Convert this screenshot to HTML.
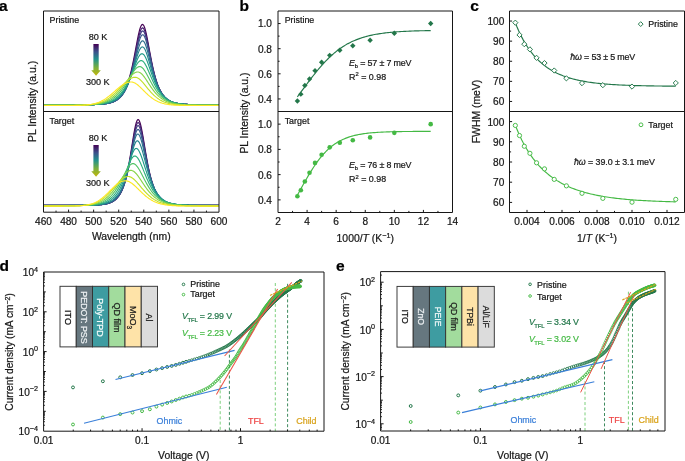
<!DOCTYPE html>
<html><head><meta charset="utf-8"><style>
html,body{margin:0;padding:0;background:#fff;overflow:hidden;}
svg{display:block;font-family:"Liberation Sans", sans-serif;filter:grayscale(0%);}
text{stroke:currentColor;stroke-width:0.22px;paint-order:stroke;}
</style></head><body>
<svg width="685" height="461" viewBox="0 0 685 461">
<rect width="685" height="461" fill="#fff"/>
<path d="M43,104.75 L43.6,104.75 L44.2,104.75 L44.8,104.75 L45.4,104.75 L46,104.75 L46.6,104.75 L47.2,104.75 L47.8,104.75 L48.4,104.75 L49,104.75 L49.6,104.75 L50.2,104.75 L50.8,104.75 L51.4,104.75 L52,104.75 L52.6,104.75 L53.2,104.75 L53.8,104.75 L54.4,104.75 L55,104.75 L55.6,104.75 L56.2,104.75 L56.8,104.75 L57.4,104.75 L58,104.75 L58.6,104.75 L59.2,104.75 L59.8,104.75 L60.4,104.75 L61,104.75 L61.6,104.75 L62.2,104.75 L62.8,104.75 L63.4,104.75 L64,104.75 L64.6,104.75 L65.2,104.75 L65.8,104.75 L66.4,104.75 L67,104.74 L67.6,104.74 L68.2,104.74 L68.8,104.74 L69.4,104.74 L70,104.74 L70.6,104.74 L71.2,104.74 L71.8,104.74 L72.4,104.74 L73,104.74 L73.6,104.74 L74.2,104.74 L74.8,104.73 L75.4,104.73 L76,104.73 L76.6,104.73 L77.2,104.73 L77.8,104.73 L78.4,104.73 L79,104.72 L79.6,104.72 L80.2,104.72 L80.8,104.72 L81.4,104.71 L82,104.71 L82.6,104.71 L83.2,104.7 L83.8,104.7 L84.4,104.69 L85,104.69 L85.6,104.68 L86.2,104.68 L86.8,104.67 L87.4,104.66 L88,104.66 L88.6,104.65 L89.2,104.64 L89.8,104.63 L90.4,104.62 L91,104.61 L91.6,104.6 L92.2,104.58 L92.8,104.57 L93.4,104.55 L94,104.53 L94.6,104.52 L95.2,104.5 L95.8,104.47 L96.4,104.45 L97,104.42 L97.6,104.4 L98.2,104.36 L98.8,104.33 L99.4,104.3 L100,104.26 L100.6,104.21 L101.2,104.17 L101.8,104.12 L102.4,104.06 L103,104 L103.6,103.94 L104.2,103.87 L104.8,103.79 L105.4,103.71 L106,103.62 L106.6,103.52 L107.2,103.41 L107.8,103.3 L108.4,103.17 L109,103.04 L109.6,102.89 L110.2,102.73 L110.8,102.55 L111.4,102.36 L112,102.16 L112.6,101.94 L113.2,101.69 L113.8,101.43 L114.4,101.15 L115,100.84 L115.6,100.5 L116.2,100.14 L116.8,99.74 L117.4,99.31 L118,98.85 L118.6,98.34 L119.2,97.79 L119.8,97.2 L120.4,96.56 L121,95.86 L121.6,95.1 L122.2,94.29 L122.8,93.4 L123.4,92.44 L124,91.41 L124.6,90.29 L125.2,89.08 L125.8,87.78 L126.4,86.37 L127,84.86 L127.6,83.24 L128.2,81.49 L128.8,79.62 L129.4,77.61 L130,75.48 L130.6,73.2 L131.2,70.78 L131.8,68.23 L132.4,65.54 L133,62.72 L133.6,59.78 L134.2,56.73 L134.8,53.6 L135.4,50.41 L136,47.2 L136.6,44 L137.2,40.86 L137.8,37.83 L138.4,34.97 L139,32.34 L139.6,29.99 L140.2,27.99 L140.8,26.4 L141.4,25.25 L142,24.58 L142.6,24.41 L143.2,24.75 L143.8,25.61 L144.4,26.95 L145,28.73 L145.6,30.91 L146.2,33.41 L146.8,36.19 L147.4,39.17 L148,42.3 L148.6,45.52 L149.2,48.78 L149.8,52.03 L150.4,55.23 L151,58.36 L151.6,61.4 L152.2,64.31 L152.8,67.1 L153.4,69.75 L154,72.26 L154.6,74.62 L155.2,76.84 L155.8,78.92 L156.4,80.87 L157,82.68 L157.6,84.37 L158.2,85.94 L158.8,87.39 L159.4,88.74 L160,89.99 L160.6,91.15 L161.2,92.22 L161.8,93.2 L162.4,94.11 L163,94.96 L163.6,95.73 L164.2,96.45 L164.8,97.11 L165.4,97.72 L166,98.28 L166.6,98.8 L167.2,99.27 L167.8,99.71 L168.4,100.11 L169,100.48 L169.6,100.83 L170.2,101.14 L170.8,101.43 L171.4,101.7 L172,101.94 L172.6,102.17 L173.2,102.38 L173.8,102.57 L174.4,102.74 L175,102.9 L175.6,103.05 L176.2,103.19 L176.8,103.31 L177.4,103.43 L178,103.54 L178.6,103.63 L179.2,103.72 L179.8,103.81 L180.4,103.88 L181,103.95 L181.6,104.02 L182.2,104.08 L182.8,104.13 L183.4,104.18 L184,104.23 L184.6,104.27 L185.2,104.31 L185.8,104.34 L186.4,104.38 L187,104.41 L187.6,104.43 L188.2,104.46 L188.8,104.48 L189.4,104.5 L190,104.52 L190.6,104.54 L191.2,104.56 L191.8,104.57 L192.4,104.59 L193,104.6 L193.6,104.61 L194.2,104.62 L194.8,104.64 L195.4,104.64 L196,104.65 L196.6,104.66 L197.2,104.67 L197.8,104.67 L198.4,104.68 L199,104.69 L199.6,104.69 L200.2,104.7 L200.8,104.7 L201.4,104.7 L202,104.71 L202.6,104.71 L203.2,104.71 L203.8,104.72 L204.4,104.72 L205,104.72 L205.6,104.72 L206.2,104.73 L206.8,104.73 L207.4,104.73 L208,104.73 L208.6,104.73 L209.2,104.73 L209.8,104.74 L210.4,104.74 L211,104.74 L211.6,104.74 L212.2,104.74 L212.8,104.74 L213.4,104.74 L214,104.74 L214.6,104.74 L215.2,104.74 L215.8,104.74 L216.4,104.74 L217,104.74 L217.6,104.75 L218.2,104.75 L218.8,104.75" fill="none" stroke="#440154" stroke-width="1.15" stroke-linejoin="round" />
<path d="M43,104.76 L43.6,104.76 L44.2,104.76 L44.8,104.76 L45.4,104.76 L46,104.76 L46.6,104.76 L47.2,104.76 L47.8,104.76 L48.4,104.76 L49,104.76 L49.6,104.76 L50.2,104.76 L50.8,104.76 L51.4,104.76 L52,104.76 L52.6,104.76 L53.2,104.76 L53.8,104.76 L54.4,104.76 L55,104.76 L55.6,104.76 L56.2,104.76 L56.8,104.76 L57.4,104.75 L58,104.75 L58.6,104.75 L59.2,104.75 L59.8,104.75 L60.4,104.75 L61,104.75 L61.6,104.75 L62.2,104.75 L62.8,104.75 L63.4,104.75 L64,104.75 L64.6,104.75 L65.2,104.75 L65.8,104.75 L66.4,104.75 L67,104.75 L67.6,104.75 L68.2,104.75 L68.8,104.75 L69.4,104.75 L70,104.75 L70.6,104.75 L71.2,104.75 L71.8,104.75 L72.4,104.75 L73,104.74 L73.6,104.74 L74.2,104.74 L74.8,104.74 L75.4,104.74 L76,104.74 L76.6,104.74 L77.2,104.74 L77.8,104.73 L78.4,104.73 L79,104.73 L79.6,104.73 L80.2,104.73 L80.8,104.72 L81.4,104.72 L82,104.72 L82.6,104.71 L83.2,104.71 L83.8,104.71 L84.4,104.7 L85,104.7 L85.6,104.69 L86.2,104.69 L86.8,104.68 L87.4,104.67 L88,104.67 L88.6,104.66 L89.2,104.65 L89.8,104.64 L90.4,104.63 L91,104.62 L91.6,104.61 L92.2,104.6 L92.8,104.58 L93.4,104.57 L94,104.55 L94.6,104.53 L95.2,104.51 L95.8,104.49 L96.4,104.47 L97,104.44 L97.6,104.42 L98.2,104.39 L98.8,104.36 L99.4,104.32 L100,104.28 L100.6,104.24 L101.2,104.2 L101.8,104.15 L102.4,104.1 L103,104.04 L103.6,103.98 L104.2,103.91 L104.8,103.84 L105.4,103.76 L106,103.68 L106.6,103.58 L107.2,103.48 L107.8,103.37 L108.4,103.25 L109,103.12 L109.6,102.98 L110.2,102.83 L110.8,102.67 L111.4,102.49 L112,102.29 L112.6,102.08 L113.2,101.85 L113.8,101.6 L114.4,101.33 L115,101.03 L115.6,100.71 L116.2,100.37 L116.8,99.99 L117.4,99.59 L118,99.14 L118.6,98.66 L119.2,98.15 L119.8,97.58 L120.4,96.97 L121,96.31 L121.6,95.6 L122.2,94.82 L122.8,93.98 L123.4,93.08 L124,92.09 L124.6,91.03 L125.2,89.89 L125.8,88.66 L126.4,87.33 L127,85.89 L127.6,84.35 L128.2,82.7 L128.8,80.93 L129.4,79.03 L130,77.01 L130.6,74.85 L131.2,72.56 L131.8,70.14 L132.4,67.59 L133,64.91 L133.6,62.12 L134.2,59.23 L134.8,56.25 L135.4,53.21 L136,50.15 L136.6,47.09 L137.2,44.08 L137.8,41.17 L138.4,38.41 L139,35.86 L139.6,33.58 L140.2,31.62 L140.8,30.03 L141.4,28.86 L142,28.14 L142.6,27.9 L143.2,28.15 L143.8,28.88 L144.4,30.08 L145,31.71 L145.6,33.71 L146.2,36.05 L146.8,38.65 L147.4,41.46 L148,44.42 L148.6,47.48 L149.2,50.58 L149.8,53.68 L150.4,56.75 L151,59.75 L151.6,62.66 L152.2,65.47 L152.8,68.15 L153.4,70.71 L154,73.13 L154.6,75.41 L155.2,77.56 L155.8,79.58 L156.4,81.46 L157,83.22 L157.6,84.86 L158.2,86.38 L158.8,87.8 L159.4,89.11 L160,90.33 L160.6,91.45 L161.2,92.49 L161.8,93.46 L162.4,94.34 L163,95.17 L163.6,95.92 L164.2,96.62 L164.8,97.27 L165.4,97.86 L166,98.41 L166.6,98.91 L167.2,99.38 L167.8,99.81 L168.4,100.2 L169,100.57 L169.6,100.9 L170.2,101.21 L170.8,101.49 L171.4,101.75 L172,101.99 L172.6,102.22 L173.2,102.42 L173.8,102.61 L174.4,102.78 L175,102.94 L175.6,103.08 L176.2,103.22 L176.8,103.34 L177.4,103.46 L178,103.56 L178.6,103.66 L179.2,103.74 L179.8,103.83 L180.4,103.9 L181,103.97 L181.6,104.03 L182.2,104.09 L182.8,104.14 L183.4,104.19 L184,104.24 L184.6,104.28 L185.2,104.32 L185.8,104.35 L186.4,104.39 L187,104.42 L187.6,104.44 L188.2,104.47 L188.8,104.49 L189.4,104.51 L190,104.53 L190.6,104.55 L191.2,104.57 L191.8,104.58 L192.4,104.6 L193,104.61 L193.6,104.62 L194.2,104.63 L194.8,104.64 L195.4,104.65 L196,104.66 L196.6,104.67 L197.2,104.67 L197.8,104.68 L198.4,104.69 L199,104.69 L199.6,104.7 L200.2,104.7 L200.8,104.71 L201.4,104.71 L202,104.71 L202.6,104.72 L203.2,104.72 L203.8,104.72 L204.4,104.73 L205,104.73 L205.6,104.73 L206.2,104.73 L206.8,104.74 L207.4,104.74 L208,104.74 L208.6,104.74 L209.2,104.74 L209.8,104.74 L210.4,104.74 L211,104.74 L211.6,104.75 L212.2,104.75 L212.8,104.75 L213.4,104.75 L214,104.75 L214.6,104.75 L215.2,104.75 L215.8,104.75 L216.4,104.75 L217,104.75 L217.6,104.75 L218.2,104.75 L218.8,104.75" fill="none" stroke="#472171" stroke-width="1.15" stroke-linejoin="round" />
<path d="M43,104.77 L43.6,104.77 L44.2,104.77 L44.8,104.77 L45.4,104.77 L46,104.77 L46.6,104.77 L47.2,104.77 L47.8,104.77 L48.4,104.77 L49,104.77 L49.6,104.77 L50.2,104.77 L50.8,104.77 L51.4,104.77 L52,104.77 L52.6,104.77 L53.2,104.77 L53.8,104.77 L54.4,104.77 L55,104.77 L55.6,104.77 L56.2,104.77 L56.8,104.77 L57.4,104.77 L58,104.77 L58.6,104.77 L59.2,104.77 L59.8,104.77 L60.4,104.77 L61,104.77 L61.6,104.77 L62.2,104.77 L62.8,104.77 L63.4,104.77 L64,104.77 L64.6,104.77 L65.2,104.77 L65.8,104.77 L66.4,104.77 L67,104.77 L67.6,104.77 L68.2,104.77 L68.8,104.77 L69.4,104.77 L70,104.77 L70.6,104.77 L71.2,104.77 L71.8,104.77 L72.4,104.76 L73,104.76 L73.6,104.76 L74.2,104.76 L74.8,104.76 L75.4,104.76 L76,104.76 L76.6,104.76 L77.2,104.75 L77.8,104.75 L78.4,104.75 L79,104.75 L79.6,104.75 L80.2,104.74 L80.8,104.74 L81.4,104.74 L82,104.74 L82.6,104.73 L83.2,104.73 L83.8,104.72 L84.4,104.72 L85,104.72 L85.6,104.71 L86.2,104.7 L86.8,104.7 L87.4,104.69 L88,104.68 L88.6,104.68 L89.2,104.67 L89.8,104.66 L90.4,104.65 L91,104.64 L91.6,104.63 L92.2,104.61 L92.8,104.6 L93.4,104.58 L94,104.57 L94.6,104.55 L95.2,104.53 L95.8,104.51 L96.4,104.49 L97,104.46 L97.6,104.44 L98.2,104.41 L98.8,104.37 L99.4,104.34 L100,104.3 L100.6,104.26 L101.2,104.22 L101.8,104.17 L102.4,104.12 L103,104.06 L103.6,104 L104.2,103.93 L104.8,103.86 L105.4,103.78 L106,103.7 L106.6,103.61 L107.2,103.51 L107.8,103.4 L108.4,103.28 L109,103.15 L109.6,103.01 L110.2,102.86 L110.8,102.7 L111.4,102.52 L112,102.33 L112.6,102.12 L113.2,101.9 L113.8,101.65 L114.4,101.39 L115,101.1 L115.6,100.78 L116.2,100.45 L116.8,100.08 L117.4,99.68 L118,99.25 L118.6,98.78 L119.2,98.28 L119.8,97.73 L120.4,97.14 L121,96.5 L121.6,95.81 L122.2,95.06 L122.8,94.24 L123.4,93.37 L124,92.42 L124.6,91.4 L125.2,90.3 L125.8,89.11 L126.4,87.84 L127,86.46 L127.6,84.98 L128.2,83.4 L128.8,81.71 L129.4,79.89 L130,77.96 L130.6,75.9 L131.2,73.72 L131.8,71.41 L132.4,68.99 L133,66.44 L133.6,63.79 L134.2,61.04 L134.8,58.21 L135.4,55.33 L136,52.42 L136.6,49.51 L137.2,46.65 L137.8,43.87 L138.4,41.24 L139,38.79 L139.6,36.59 L140.2,34.68 L140.8,33.13 L141.4,31.96 L142,31.21 L142.6,30.91 L143.2,31.06 L143.8,31.67 L144.4,32.73 L145,34.19 L145.6,36.02 L146.2,38.16 L146.8,40.58 L147.4,43.2 L148,45.97 L148.6,48.85 L149.2,51.78 L149.8,54.73 L150.4,57.65 L151,60.52 L151.6,63.32 L152.2,66.02 L152.8,68.61 L153.4,71.08 L154,73.43 L154.6,75.65 L155.2,77.75 L155.8,79.71 L156.4,81.56 L157,83.28 L157.6,84.89 L158.2,86.39 L158.8,87.79 L159.4,89.08 L160,90.28 L160.6,91.4 L161.2,92.43 L161.8,93.39 L162.4,94.27 L163,95.09 L163.6,95.85 L164.2,96.54 L164.8,97.19 L165.4,97.78 L166,98.33 L166.6,98.84 L167.2,99.31 L167.8,99.74 L168.4,100.13 L169,100.5 L169.6,100.84 L170.2,101.15 L170.8,101.44 L171.4,101.7 L172,101.94 L172.6,102.17 L173.2,102.38 L173.8,102.57 L174.4,102.74 L175,102.9 L175.6,103.05 L176.2,103.19 L176.8,103.31 L177.4,103.43 L178,103.54 L178.6,103.64 L179.2,103.73 L179.8,103.81 L180.4,103.89 L181,103.96 L181.6,104.02 L182.2,104.08 L182.8,104.14 L183.4,104.19 L184,104.24 L184.6,104.28 L185.2,104.32 L185.8,104.36 L186.4,104.39 L187,104.42 L187.6,104.45 L188.2,104.47 L188.8,104.5 L189.4,104.52 L190,104.54 L190.6,104.56 L191.2,104.58 L191.8,104.59 L192.4,104.61 L193,104.62 L193.6,104.63 L194.2,104.64 L194.8,104.65 L195.4,104.66 L196,104.67 L196.6,104.68 L197.2,104.69 L197.8,104.7 L198.4,104.7 L199,104.71 L199.6,104.71 L200.2,104.72 L200.8,104.72 L201.4,104.73 L202,104.73 L202.6,104.73 L203.2,104.74 L203.8,104.74 L204.4,104.74 L205,104.75 L205.6,104.75 L206.2,104.75 L206.8,104.75 L207.4,104.75 L208,104.76 L208.6,104.76 L209.2,104.76 L209.8,104.76 L210.4,104.76 L211,104.76 L211.6,104.76 L212.2,104.76 L212.8,104.77 L213.4,104.77 L214,104.77 L214.6,104.77 L215.2,104.77 L215.8,104.77 L216.4,104.77 L217,104.77 L217.6,104.77 L218.2,104.77 L218.8,104.77" fill="none" stroke="#423e83" stroke-width="1.15" stroke-linejoin="round" />
<path d="M43,104.81 L43.6,104.81 L44.2,104.81 L44.8,104.81 L45.4,104.81 L46,104.81 L46.6,104.81 L47.2,104.81 L47.8,104.81 L48.4,104.81 L49,104.81 L49.6,104.81 L50.2,104.81 L50.8,104.81 L51.4,104.81 L52,104.81 L52.6,104.81 L53.2,104.81 L53.8,104.8 L54.4,104.8 L55,104.8 L55.6,104.8 L56.2,104.8 L56.8,104.8 L57.4,104.8 L58,104.8 L58.6,104.8 L59.2,104.8 L59.8,104.8 L60.4,104.8 L61,104.8 L61.6,104.8 L62.2,104.8 L62.8,104.8 L63.4,104.8 L64,104.8 L64.6,104.8 L65.2,104.8 L65.8,104.8 L66.4,104.8 L67,104.8 L67.6,104.8 L68.2,104.8 L68.8,104.8 L69.4,104.8 L70,104.8 L70.6,104.8 L71.2,104.8 L71.8,104.8 L72.4,104.79 L73,104.79 L73.6,104.79 L74.2,104.79 L74.8,104.79 L75.4,104.79 L76,104.79 L76.6,104.79 L77.2,104.78 L77.8,104.78 L78.4,104.78 L79,104.78 L79.6,104.78 L80.2,104.77 L80.8,104.77 L81.4,104.77 L82,104.76 L82.6,104.76 L83.2,104.76 L83.8,104.75 L84.4,104.75 L85,104.74 L85.6,104.74 L86.2,104.73 L86.8,104.72 L87.4,104.72 L88,104.71 L88.6,104.7 L89.2,104.69 L89.8,104.68 L90.4,104.67 L91,104.66 L91.6,104.65 L92.2,104.63 L92.8,104.62 L93.4,104.6 L94,104.58 L94.6,104.56 L95.2,104.54 L95.8,104.52 L96.4,104.5 L97,104.47 L97.6,104.44 L98.2,104.41 L98.8,104.38 L99.4,104.34 L100,104.3 L100.6,104.26 L101.2,104.21 L101.8,104.16 L102.4,104.11 L103,104.05 L103.6,103.98 L104.2,103.91 L104.8,103.84 L105.4,103.75 L106,103.67 L106.6,103.57 L107.2,103.46 L107.8,103.35 L108.4,103.23 L109,103.1 L109.6,102.95 L110.2,102.8 L110.8,102.63 L111.4,102.45 L112,102.25 L112.6,102.04 L113.2,101.81 L113.8,101.55 L114.4,101.28 L115,100.99 L115.6,100.67 L116.2,100.33 L116.8,99.96 L117.4,99.56 L118,99.12 L118.6,98.66 L119.2,98.15 L119.8,97.6 L120.4,97.01 L121,96.37 L121.6,95.68 L122.2,94.94 L122.8,94.14 L123.4,93.27 L124,92.34 L124.6,91.34 L125.2,90.26 L125.8,89.11 L126.4,87.86 L127,86.53 L127.6,85.1 L128.2,83.57 L128.8,81.94 L129.4,80.2 L130,78.35 L130.6,76.39 L131.2,74.32 L131.8,72.14 L132.4,69.84 L133,67.45 L133.6,64.96 L134.2,62.39 L134.8,59.75 L135.4,57.08 L136,54.38 L136.6,51.7 L137.2,49.06 L137.8,46.51 L138.4,44.1 L139,41.87 L139.6,39.86 L140.2,38.13 L140.8,36.72 L141.4,35.66 L142,34.98 L142.6,34.71 L143.2,34.85 L143.8,35.4 L144.4,36.35 L145,37.68 L145.6,39.34 L146.2,41.29 L146.8,43.49 L147.4,45.89 L148,48.43 L148.6,51.08 L149.2,53.79 L149.8,56.51 L150.4,59.23 L151,61.91 L151.6,64.52 L152.2,67.06 L152.8,69.5 L153.4,71.83 L154,74.06 L154.6,76.17 L155.2,78.17 L155.8,80.06 L156.4,81.83 L157,83.49 L157.6,85.04 L158.2,86.49 L158.8,87.84 L159.4,89.1 L160,90.28 L160.6,91.37 L161.2,92.38 L161.8,93.32 L162.4,94.19 L163,95 L163.6,95.75 L164.2,96.44 L164.8,97.08 L165.4,97.67 L166,98.22 L166.6,98.73 L167.2,99.2 L167.8,99.63 L168.4,100.03 L169,100.4 L169.6,100.74 L170.2,101.06 L170.8,101.35 L171.4,101.62 L172,101.87 L172.6,102.1 L173.2,102.31 L173.8,102.5 L174.4,102.68 L175,102.85 L175.6,103 L176.2,103.14 L176.8,103.27 L177.4,103.39 L178,103.5 L178.6,103.61 L179.2,103.7 L179.8,103.79 L180.4,103.87 L181,103.94 L181.6,104.01 L182.2,104.07 L182.8,104.13 L183.4,104.18 L184,104.23 L184.6,104.28 L185.2,104.32 L185.8,104.36 L186.4,104.39 L187,104.43 L187.6,104.46 L188.2,104.48 L188.8,104.51 L189.4,104.53 L190,104.55 L190.6,104.57 L191.2,104.59 L191.8,104.61 L192.4,104.62 L193,104.64 L193.6,104.65 L194.2,104.66 L194.8,104.68 L195.4,104.69 L196,104.7 L196.6,104.7 L197.2,104.71 L197.8,104.72 L198.4,104.73 L199,104.73 L199.6,104.74 L200.2,104.74 L200.8,104.75 L201.4,104.75 L202,104.76 L202.6,104.76 L203.2,104.77 L203.8,104.77 L204.4,104.77 L205,104.77 L205.6,104.78 L206.2,104.78 L206.8,104.78 L207.4,104.78 L208,104.78 L208.6,104.79 L209.2,104.79 L209.8,104.79 L210.4,104.79 L211,104.79 L211.6,104.79 L212.2,104.79 L212.8,104.8 L213.4,104.8 L214,104.8 L214.6,104.8 L215.2,104.8 L215.8,104.8 L216.4,104.8 L217,104.8 L217.6,104.8 L218.2,104.8 L218.8,104.8" fill="none" stroke="#38588b" stroke-width="1.15" stroke-linejoin="round" />
<path d="M43,104.85 L43.6,104.85 L44.2,104.85 L44.8,104.85 L45.4,104.85 L46,104.85 L46.6,104.85 L47.2,104.85 L47.8,104.85 L48.4,104.85 L49,104.85 L49.6,104.85 L50.2,104.85 L50.8,104.85 L51.4,104.85 L52,104.85 L52.6,104.85 L53.2,104.85 L53.8,104.85 L54.4,104.85 L55,104.85 L55.6,104.85 L56.2,104.85 L56.8,104.85 L57.4,104.85 L58,104.85 L58.6,104.85 L59.2,104.85 L59.8,104.85 L60.4,104.85 L61,104.85 L61.6,104.85 L62.2,104.85 L62.8,104.85 L63.4,104.85 L64,104.85 L64.6,104.85 L65.2,104.84 L65.8,104.84 L66.4,104.84 L67,104.84 L67.6,104.84 L68.2,104.84 L68.8,104.84 L69.4,104.84 L70,104.84 L70.6,104.84 L71.2,104.84 L71.8,104.84 L72.4,104.84 L73,104.84 L73.6,104.83 L74.2,104.83 L74.8,104.83 L75.4,104.83 L76,104.83 L76.6,104.83 L77.2,104.82 L77.8,104.82 L78.4,104.82 L79,104.82 L79.6,104.81 L80.2,104.81 L80.8,104.81 L81.4,104.8 L82,104.8 L82.6,104.8 L83.2,104.79 L83.8,104.79 L84.4,104.78 L85,104.78 L85.6,104.77 L86.2,104.76 L86.8,104.75 L87.4,104.75 L88,104.74 L88.6,104.73 L89.2,104.72 L89.8,104.71 L90.4,104.69 L91,104.68 L91.6,104.67 L92.2,104.65 L92.8,104.63 L93.4,104.62 L94,104.6 L94.6,104.58 L95.2,104.55 L95.8,104.53 L96.4,104.5 L97,104.47 L97.6,104.44 L98.2,104.4 L98.8,104.37 L99.4,104.33 L100,104.28 L100.6,104.24 L101.2,104.18 L101.8,104.13 L102.4,104.07 L103,104 L103.6,103.93 L104.2,103.86 L104.8,103.78 L105.4,103.69 L106,103.59 L106.6,103.49 L107.2,103.38 L107.8,103.25 L108.4,103.12 L109,102.98 L109.6,102.83 L110.2,102.67 L110.8,102.49 L111.4,102.3 L112,102.09 L112.6,101.86 L113.2,101.62 L113.8,101.36 L114.4,101.08 L115,100.78 L115.6,100.45 L116.2,100.1 L116.8,99.72 L117.4,99.31 L118,98.87 L118.6,98.39 L119.2,97.88 L119.8,97.33 L120.4,96.74 L121,96.1 L121.6,95.42 L122.2,94.68 L122.8,93.89 L123.4,93.04 L124,92.13 L124.6,91.16 L125.2,90.11 L125.8,89 L126.4,87.8 L127,86.53 L127.6,85.17 L128.2,83.73 L128.8,82.19 L129.4,80.56 L130,78.84 L130.6,77.03 L131.2,75.12 L131.8,73.12 L132.4,71.04 L133,68.87 L133.6,66.63 L134.2,64.34 L134.8,62 L135.4,59.65 L136,57.29 L136.6,54.96 L137.2,52.69 L137.8,50.51 L138.4,48.46 L139,46.58 L139.6,44.91 L140.2,43.48 L140.8,42.33 L141.4,41.49 L142,40.97 L142.6,40.8 L143.2,40.98 L143.8,41.51 L144.4,42.37 L145,43.56 L145.6,45.02 L146.2,46.74 L146.8,48.66 L147.4,50.76 L148,52.98 L148.6,55.3 L149.2,57.68 L149.8,60.08 L150.4,62.48 L151,64.85 L151.6,67.18 L152.2,69.44 L152.8,71.63 L153.4,73.73 L154,75.74 L154.6,77.65 L155.2,79.47 L155.8,81.19 L156.4,82.82 L157,84.35 L157.6,85.78 L158.2,87.13 L158.8,88.39 L159.4,89.57 L160,90.67 L160.6,91.7 L161.2,92.66 L161.8,93.55 L162.4,94.38 L163,95.15 L163.6,95.87 L164.2,96.53 L164.8,97.15 L165.4,97.72 L166,98.25 L166.6,98.75 L167.2,99.2 L167.8,99.63 L168.4,100.02 L169,100.39 L169.6,100.72 L170.2,101.03 L170.8,101.32 L171.4,101.59 L172,101.84 L172.6,102.07 L173.2,102.28 L173.8,102.47 L174.4,102.66 L175,102.82 L175.6,102.98 L176.2,103.12 L176.8,103.25 L177.4,103.38 L178,103.49 L178.6,103.59 L179.2,103.69 L179.8,103.78 L180.4,103.86 L181,103.94 L181.6,104.01 L182.2,104.07 L182.8,104.13 L183.4,104.19 L184,104.24 L184.6,104.29 L185.2,104.33 L185.8,104.37 L186.4,104.41 L187,104.44 L187.6,104.48 L188.2,104.5 L188.8,104.53 L189.4,104.56 L190,104.58 L190.6,104.6 L191.2,104.62 L191.8,104.64 L192.4,104.65 L193,104.67 L193.6,104.68 L194.2,104.7 L194.8,104.71 L195.4,104.72 L196,104.73 L196.6,104.74 L197.2,104.75 L197.8,104.76 L198.4,104.76 L199,104.77 L199.6,104.78 L200.2,104.78 L200.8,104.79 L201.4,104.79 L202,104.8 L202.6,104.8 L203.2,104.81 L203.8,104.81 L204.4,104.81 L205,104.82 L205.6,104.82 L206.2,104.82 L206.8,104.82 L207.4,104.82 L208,104.83 L208.6,104.83 L209.2,104.83 L209.8,104.83 L210.4,104.83 L211,104.83 L211.6,104.84 L212.2,104.84 L212.8,104.84 L213.4,104.84 L214,104.84 L214.6,104.84 L215.2,104.84 L215.8,104.84 L216.4,104.84 L217,104.84 L217.6,104.84 L218.2,104.84 L218.8,104.84" fill="none" stroke="#2e6f8e" stroke-width="1.15" stroke-linejoin="round" />
<path d="M43,104.9 L43.6,104.9 L44.2,104.9 L44.8,104.9 L45.4,104.9 L46,104.9 L46.6,104.9 L47.2,104.9 L47.8,104.9 L48.4,104.9 L49,104.9 L49.6,104.9 L50.2,104.9 L50.8,104.9 L51.4,104.9 L52,104.9 L52.6,104.9 L53.2,104.9 L53.8,104.9 L54.4,104.9 L55,104.9 L55.6,104.9 L56.2,104.9 L56.8,104.9 L57.4,104.9 L58,104.9 L58.6,104.9 L59.2,104.9 L59.8,104.9 L60.4,104.9 L61,104.9 L61.6,104.9 L62.2,104.9 L62.8,104.9 L63.4,104.9 L64,104.9 L64.6,104.9 L65.2,104.9 L65.8,104.9 L66.4,104.9 L67,104.9 L67.6,104.9 L68.2,104.9 L68.8,104.9 L69.4,104.9 L70,104.89 L70.6,104.89 L71.2,104.89 L71.8,104.89 L72.4,104.89 L73,104.89 L73.6,104.89 L74.2,104.89 L74.8,104.88 L75.4,104.88 L76,104.88 L76.6,104.88 L77.2,104.88 L77.8,104.87 L78.4,104.87 L79,104.87 L79.6,104.86 L80.2,104.86 L80.8,104.86 L81.4,104.85 L82,104.85 L82.6,104.84 L83.2,104.84 L83.8,104.83 L84.4,104.82 L85,104.82 L85.6,104.81 L86.2,104.8 L86.8,104.79 L87.4,104.78 L88,104.77 L88.6,104.76 L89.2,104.75 L89.8,104.73 L90.4,104.72 L91,104.7 L91.6,104.68 L92.2,104.67 L92.8,104.65 L93.4,104.62 L94,104.6 L94.6,104.57 L95.2,104.55 L95.8,104.52 L96.4,104.48 L97,104.45 L97.6,104.41 L98.2,104.37 L98.8,104.33 L99.4,104.28 L100,104.23 L100.6,104.17 L101.2,104.11 L101.8,104.05 L102.4,103.98 L103,103.9 L103.6,103.82 L104.2,103.73 L104.8,103.64 L105.4,103.54 L106,103.43 L106.6,103.31 L107.2,103.18 L107.8,103.05 L108.4,102.9 L109,102.74 L109.6,102.57 L110.2,102.39 L110.8,102.19 L111.4,101.98 L112,101.75 L112.6,101.5 L113.2,101.24 L113.8,100.96 L114.4,100.65 L115,100.33 L115.6,99.97 L116.2,99.6 L116.8,99.2 L117.4,98.76 L118,98.3 L118.6,97.8 L119.2,97.27 L119.8,96.7 L120.4,96.09 L121,95.44 L121.6,94.74 L122.2,94 L122.8,93.2 L123.4,92.36 L124,91.45 L124.6,90.49 L125.2,89.47 L125.8,88.38 L126.4,87.22 L127,86 L127.6,84.7 L128.2,83.33 L128.8,81.89 L129.4,80.37 L130,78.78 L130.6,77.11 L131.2,75.38 L131.8,73.57 L132.4,71.71 L133,69.79 L133.6,67.83 L134.2,65.83 L134.8,63.82 L135.4,61.81 L136,59.83 L136.6,57.89 L137.2,56.02 L137.8,54.25 L138.4,52.6 L139,51.12 L139.6,49.82 L140.2,48.73 L140.8,47.88 L141.4,47.29 L142,46.96 L142.6,46.92 L143.2,47.16 L143.8,47.69 L144.4,48.5 L145,49.56 L145.6,50.85 L146.2,52.34 L146.8,54 L147.4,55.81 L148,57.72 L148.6,59.72 L149.2,61.76 L149.8,63.84 L150.4,65.91 L151,67.97 L151.6,69.99 L152.2,71.97 L152.8,73.89 L153.4,75.74 L154,77.52 L154.6,79.23 L155.2,80.86 L155.8,82.4 L156.4,83.87 L157,85.26 L157.6,86.57 L158.2,87.8 L158.8,88.96 L159.4,90.05 L160,91.07 L160.6,92.03 L161.2,92.93 L161.8,93.77 L162.4,94.55 L163,95.28 L163.6,95.97 L164.2,96.6 L164.8,97.2 L165.4,97.75 L166,98.26 L166.6,98.74 L167.2,99.19 L167.8,99.6 L168.4,99.99 L169,100.35 L169.6,100.68 L170.2,100.99 L170.8,101.28 L171.4,101.55 L172,101.79 L172.6,102.02 L173.2,102.24 L173.8,102.43 L174.4,102.62 L175,102.79 L175.6,102.95 L176.2,103.09 L176.8,103.23 L177.4,103.36 L178,103.47 L178.6,103.58 L179.2,103.68 L179.8,103.77 L180.4,103.86 L181,103.94 L181.6,104.01 L182.2,104.08 L182.8,104.14 L183.4,104.2 L184,104.25 L184.6,104.3 L185.2,104.35 L185.8,104.39 L186.4,104.43 L187,104.47 L187.6,104.5 L188.2,104.53 L188.8,104.56 L189.4,104.59 L190,104.61 L190.6,104.64 L191.2,104.66 L191.8,104.68 L192.4,104.69 L193,104.71 L193.6,104.73 L194.2,104.74 L194.8,104.75 L195.4,104.77 L196,104.78 L196.6,104.79 L197.2,104.8 L197.8,104.8 L198.4,104.81 L199,104.82 L199.6,104.83 L200.2,104.83 L200.8,104.84 L201.4,104.84 L202,104.85 L202.6,104.85 L203.2,104.86 L203.8,104.86 L204.4,104.86 L205,104.87 L205.6,104.87 L206.2,104.87 L206.8,104.88 L207.4,104.88 L208,104.88 L208.6,104.88 L209.2,104.88 L209.8,104.89 L210.4,104.89 L211,104.89 L211.6,104.89 L212.2,104.89 L212.8,104.89 L213.4,104.89 L214,104.89 L214.6,104.9 L215.2,104.9 L215.8,104.9 L216.4,104.9 L217,104.9 L217.6,104.9 L218.2,104.9 L218.8,104.9" fill="none" stroke="#25858e" stroke-width="1.15" stroke-linejoin="round" />
<path d="M43,104.97 L43.6,104.97 L44.2,104.97 L44.8,104.97 L45.4,104.97 L46,104.97 L46.6,104.97 L47.2,104.97 L47.8,104.97 L48.4,104.97 L49,104.97 L49.6,104.97 L50.2,104.97 L50.8,104.97 L51.4,104.97 L52,104.97 L52.6,104.97 L53.2,104.97 L53.8,104.97 L54.4,104.97 L55,104.97 L55.6,104.97 L56.2,104.97 L56.8,104.97 L57.4,104.97 L58,104.97 L58.6,104.97 L59.2,104.97 L59.8,104.97 L60.4,104.97 L61,104.97 L61.6,104.97 L62.2,104.97 L62.8,104.97 L63.4,104.97 L64,104.97 L64.6,104.97 L65.2,104.97 L65.8,104.97 L66.4,104.97 L67,104.97 L67.6,104.96 L68.2,104.96 L68.8,104.96 L69.4,104.96 L70,104.96 L70.6,104.96 L71.2,104.96 L71.8,104.96 L72.4,104.96 L73,104.95 L73.6,104.95 L74.2,104.95 L74.8,104.95 L75.4,104.95 L76,104.94 L76.6,104.94 L77.2,104.94 L77.8,104.93 L78.4,104.93 L79,104.93 L79.6,104.92 L80.2,104.92 L80.8,104.91 L81.4,104.91 L82,104.9 L82.6,104.89 L83.2,104.89 L83.8,104.88 L84.4,104.87 L85,104.86 L85.6,104.85 L86.2,104.84 L86.8,104.83 L87.4,104.82 L88,104.8 L88.6,104.79 L89.2,104.77 L89.8,104.76 L90.4,104.74 L91,104.72 L91.6,104.7 L92.2,104.67 L92.8,104.65 L93.4,104.62 L94,104.59 L94.6,104.56 L95.2,104.52 L95.8,104.48 L96.4,104.44 L97,104.4 L97.6,104.35 L98.2,104.3 L98.8,104.25 L99.4,104.19 L100,104.13 L100.6,104.06 L101.2,103.99 L101.8,103.91 L102.4,103.82 L103,103.73 L103.6,103.64 L104.2,103.53 L104.8,103.42 L105.4,103.3 L106,103.17 L106.6,103.03 L107.2,102.88 L107.8,102.72 L108.4,102.55 L109,102.36 L109.6,102.17 L110.2,101.96 L110.8,101.73 L111.4,101.49 L112,101.23 L112.6,100.95 L113.2,100.66 L113.8,100.34 L114.4,100.01 L115,99.65 L115.6,99.26 L116.2,98.85 L116.8,98.42 L117.4,97.95 L118,97.46 L118.6,96.93 L119.2,96.37 L119.8,95.78 L120.4,95.14 L121,94.47 L121.6,93.76 L122.2,93 L122.8,92.2 L123.4,91.36 L124,90.46 L124.6,89.52 L125.2,88.52 L125.8,87.47 L126.4,86.36 L127,85.2 L127.6,83.99 L128.2,82.71 L128.8,81.39 L129.4,80.01 L130,78.57 L130.6,77.09 L131.2,75.56 L131.8,74 L132.4,72.4 L133,70.77 L133.6,69.14 L134.2,67.49 L134.8,65.86 L135.4,64.26 L136,62.7 L136.6,61.2 L137.2,59.79 L137.8,58.47 L138.4,57.28 L139,56.23 L139.6,55.35 L140.2,54.64 L140.8,54.12 L141.4,53.81 L142,53.7 L142.6,53.82 L143.2,54.16 L143.8,54.72 L144.4,55.5 L145,56.46 L145.6,57.6 L146.2,58.89 L146.8,60.31 L147.4,61.84 L148,63.44 L148.6,65.11 L149.2,66.82 L149.8,68.55 L150.4,70.28 L151,72 L151.6,73.7 L152.2,75.36 L152.8,76.98 L153.4,78.55 L154,80.07 L154.6,81.53 L155.2,82.93 L155.8,84.26 L156.4,85.54 L157,86.75 L157.6,87.9 L158.2,88.98 L158.8,90.01 L159.4,90.98 L160,91.9 L160.6,92.76 L161.2,93.57 L161.8,94.33 L162.4,95.04 L163,95.71 L163.6,96.34 L164.2,96.93 L164.8,97.48 L165.4,98 L166,98.48 L166.6,98.93 L167.2,99.35 L167.8,99.75 L168.4,100.11 L169,100.46 L169.6,100.78 L170.2,101.07 L170.8,101.35 L171.4,101.61 L172,101.85 L172.6,102.08 L173.2,102.29 L173.8,102.48 L174.4,102.66 L175,102.83 L175.6,102.99 L176.2,103.13 L176.8,103.27 L177.4,103.39 L178,103.51 L178.6,103.62 L179.2,103.72 L179.8,103.81 L180.4,103.9 L181,103.98 L181.6,104.05 L182.2,104.12 L182.8,104.19 L183.4,104.25 L184,104.3 L184.6,104.35 L185.2,104.4 L185.8,104.44 L186.4,104.48 L187,104.52 L187.6,104.56 L188.2,104.59 L188.8,104.62 L189.4,104.65 L190,104.67 L190.6,104.7 L191.2,104.72 L191.8,104.74 L192.4,104.76 L193,104.77 L193.6,104.79 L194.2,104.8 L194.8,104.82 L195.4,104.83 L196,104.84 L196.6,104.85 L197.2,104.86 L197.8,104.87 L198.4,104.88 L199,104.89 L199.6,104.89 L200.2,104.9 L200.8,104.91 L201.4,104.91 L202,104.92 L202.6,104.92 L203.2,104.93 L203.8,104.93 L204.4,104.93 L205,104.94 L205.6,104.94 L206.2,104.94 L206.8,104.94 L207.4,104.95 L208,104.95 L208.6,104.95 L209.2,104.95 L209.8,104.95 L210.4,104.96 L211,104.96 L211.6,104.96 L212.2,104.96 L212.8,104.96 L213.4,104.96 L214,104.96 L214.6,104.96 L215.2,104.96 L215.8,104.97 L216.4,104.97 L217,104.97 L217.6,104.97 L218.2,104.97 L218.8,104.97" fill="none" stroke="#209b89" stroke-width="1.15" stroke-linejoin="round" />
<path d="M43,105.05 L43.6,105.05 L44.2,105.05 L44.8,105.05 L45.4,105.05 L46,105.05 L46.6,105.05 L47.2,105.05 L47.8,105.05 L48.4,105.05 L49,105.05 L49.6,105.05 L50.2,105.05 L50.8,105.05 L51.4,105.05 L52,105.05 L52.6,105.05 L53.2,105.05 L53.8,105.05 L54.4,105.05 L55,105.05 L55.6,105.05 L56.2,105.05 L56.8,105.05 L57.4,105.05 L58,105.05 L58.6,105.05 L59.2,105.05 L59.8,105.05 L60.4,105.05 L61,105.05 L61.6,105.05 L62.2,105.05 L62.8,105.05 L63.4,105.05 L64,105.05 L64.6,105.05 L65.2,105.05 L65.8,105.05 L66.4,105.05 L67,105.05 L67.6,105.04 L68.2,105.04 L68.8,105.04 L69.4,105.04 L70,105.04 L70.6,105.04 L71.2,105.04 L71.8,105.03 L72.4,105.03 L73,105.03 L73.6,105.03 L74.2,105.03 L74.8,105.02 L75.4,105.02 L76,105.02 L76.6,105.01 L77.2,105.01 L77.8,105.01 L78.4,105 L79,105 L79.6,104.99 L80.2,104.98 L80.8,104.98 L81.4,104.97 L82,104.96 L82.6,104.95 L83.2,104.94 L83.8,104.93 L84.4,104.92 L85,104.91 L85.6,104.9 L86.2,104.88 L86.8,104.87 L87.4,104.85 L88,104.84 L88.6,104.82 L89.2,104.8 L89.8,104.77 L90.4,104.75 L91,104.72 L91.6,104.69 L92.2,104.66 L92.8,104.63 L93.4,104.59 L94,104.55 L94.6,104.51 L95.2,104.47 L95.8,104.42 L96.4,104.37 L97,104.31 L97.6,104.25 L98.2,104.19 L98.8,104.12 L99.4,104.04 L100,103.96 L100.6,103.87 L101.2,103.78 L101.8,103.68 L102.4,103.57 L103,103.46 L103.6,103.34 L104.2,103.21 L104.8,103.07 L105.4,102.92 L106,102.76 L106.6,102.59 L107.2,102.41 L107.8,102.21 L108.4,102 L109,101.78 L109.6,101.55 L110.2,101.3 L110.8,101.03 L111.4,100.75 L112,100.45 L112.6,100.13 L113.2,99.79 L113.8,99.43 L114.4,99.04 L115,98.64 L115.6,98.21 L116.2,97.76 L116.8,97.28 L117.4,96.77 L118,96.23 L118.6,95.66 L119.2,95.07 L119.8,94.44 L120.4,93.77 L121,93.08 L121.6,92.34 L122.2,91.57 L122.8,90.77 L123.4,89.92 L124,89.04 L124.6,88.11 L125.2,87.15 L125.8,86.15 L126.4,85.11 L127,84.03 L127.6,82.91 L128.2,81.76 L128.8,80.58 L129.4,79.36 L130,78.12 L130.6,76.86 L131.2,75.58 L131.8,74.29 L132.4,72.99 L133,71.71 L133.6,70.43 L134.2,69.19 L134.8,67.98 L135.4,66.81 L136,65.71 L136.6,64.69 L137.2,63.75 L137.8,62.92 L138.4,62.19 L139,61.6 L139.6,61.13 L140.2,60.81 L140.8,60.63 L141.4,60.61 L142,60.76 L142.6,61.07 L143.2,61.56 L143.8,62.2 L144.4,62.98 L145,63.9 L145.6,64.93 L146.2,66.07 L146.8,67.29 L147.4,68.57 L148,69.91 L148.6,71.29 L149.2,72.68 L149.8,74.09 L150.4,75.5 L151,76.89 L151.6,78.27 L152.2,79.62 L152.8,80.94 L153.4,82.22 L154,83.46 L154.6,84.65 L155.2,85.8 L155.8,86.91 L156.4,87.96 L157,88.97 L157.6,89.93 L158.2,90.84 L158.8,91.71 L159.4,92.53 L160,93.31 L160.6,94.05 L161.2,94.75 L161.8,95.41 L162.4,96.03 L163,96.61 L163.6,97.16 L164.2,97.68 L164.8,98.17 L165.4,98.62 L166,99.05 L166.6,99.46 L167.2,99.83 L167.8,100.19 L168.4,100.52 L169,100.83 L169.6,101.12 L170.2,101.39 L170.8,101.65 L171.4,101.89 L172,102.11 L172.6,102.32 L173.2,102.51 L173.8,102.69 L174.4,102.86 L175,103.02 L175.6,103.17 L176.2,103.3 L176.8,103.43 L177.4,103.55 L178,103.66 L178.6,103.76 L179.2,103.86 L179.8,103.95 L180.4,104.03 L181,104.1 L181.6,104.18 L182.2,104.24 L182.8,104.3 L183.4,104.36 L184,104.41 L184.6,104.46 L185.2,104.51 L185.8,104.55 L186.4,104.59 L187,104.63 L187.6,104.66 L188.2,104.69 L188.8,104.72 L189.4,104.74 L190,104.77 L190.6,104.79 L191.2,104.81 L191.8,104.83 L192.4,104.85 L193,104.87 L193.6,104.88 L194.2,104.9 L194.8,104.91 L195.4,104.92 L196,104.93 L196.6,104.94 L197.2,104.95 L197.8,104.96 L198.4,104.97 L199,104.97 L199.6,104.98 L200.2,104.99 L200.8,104.99 L201.4,105 L202,105 L202.6,105.01 L203.2,105.01 L203.8,105.01 L204.4,105.02 L205,105.02 L205.6,105.02 L206.2,105.03 L206.8,105.03 L207.4,105.03 L208,105.03 L208.6,105.03 L209.2,105.04 L209.8,105.04 L210.4,105.04 L211,105.04 L211.6,105.04 L212.2,105.04 L212.8,105.04 L213.4,105.04 L214,105.05 L214.6,105.05 L215.2,105.05 L215.8,105.05 L216.4,105.05 L217,105.05 L217.6,105.05 L218.2,105.05 L218.8,105.05" fill="none" stroke="#2fb07d" stroke-width="1.15" stroke-linejoin="round" />
<path d="M43,105.15 L43.6,105.15 L44.2,105.15 L44.8,105.15 L45.4,105.15 L46,105.15 L46.6,105.15 L47.2,105.15 L47.8,105.15 L48.4,105.15 L49,105.15 L49.6,105.15 L50.2,105.15 L50.8,105.15 L51.4,105.15 L52,105.15 L52.6,105.15 L53.2,105.15 L53.8,105.15 L54.4,105.15 L55,105.15 L55.6,105.15 L56.2,105.15 L56.8,105.15 L57.4,105.15 L58,105.14 L58.6,105.14 L59.2,105.14 L59.8,105.14 L60.4,105.14 L61,105.14 L61.6,105.14 L62.2,105.14 L62.8,105.14 L63.4,105.14 L64,105.14 L64.6,105.14 L65.2,105.14 L65.8,105.14 L66.4,105.14 L67,105.14 L67.6,105.14 L68.2,105.13 L68.8,105.13 L69.4,105.13 L70,105.13 L70.6,105.13 L71.2,105.13 L71.8,105.12 L72.4,105.12 L73,105.12 L73.6,105.12 L74.2,105.11 L74.8,105.11 L75.4,105.11 L76,105.1 L76.6,105.1 L77.2,105.09 L77.8,105.09 L78.4,105.08 L79,105.07 L79.6,105.07 L80.2,105.06 L80.8,105.05 L81.4,105.04 L82,105.03 L82.6,105.02 L83.2,105 L83.8,104.99 L84.4,104.98 L85,104.96 L85.6,104.94 L86.2,104.92 L86.8,104.9 L87.4,104.88 L88,104.85 L88.6,104.83 L89.2,104.8 L89.8,104.77 L90.4,104.73 L91,104.7 L91.6,104.66 L92.2,104.61 L92.8,104.57 L93.4,104.52 L94,104.46 L94.6,104.41 L95.2,104.34 L95.8,104.28 L96.4,104.2 L97,104.13 L97.6,104.04 L98.2,103.96 L98.8,103.86 L99.4,103.76 L100,103.65 L100.6,103.53 L101.2,103.41 L101.8,103.27 L102.4,103.13 L103,102.98 L103.6,102.82 L104.2,102.65 L104.8,102.46 L105.4,102.27 L106,102.06 L106.6,101.84 L107.2,101.6 L107.8,101.36 L108.4,101.09 L109,100.81 L109.6,100.52 L110.2,100.21 L110.8,99.88 L111.4,99.53 L112,99.16 L112.6,98.78 L113.2,98.37 L113.8,97.94 L114.4,97.49 L115,97.02 L115.6,96.52 L116.2,96 L116.8,95.45 L117.4,94.88 L118,94.28 L118.6,93.66 L119.2,93.01 L119.8,92.33 L120.4,91.63 L121,90.89 L121.6,90.13 L122.2,89.35 L122.8,88.53 L123.4,87.69 L124,86.82 L124.6,85.93 L125.2,85.01 L125.8,84.08 L126.4,83.12 L127,82.15 L127.6,81.16 L128.2,80.15 L128.8,79.15 L129.4,78.13 L130,77.12 L130.6,76.12 L131.2,75.13 L131.8,74.15 L132.4,73.21 L133,72.29 L133.6,71.42 L134.2,70.6 L134.8,69.83 L135.4,69.13 L136,68.5 L136.6,67.95 L137.2,67.49 L137.8,67.12 L138.4,66.84 L139,66.67 L139.6,66.6 L140.2,66.65 L140.8,66.82 L141.4,67.12 L142,67.54 L142.6,68.08 L143.2,68.73 L143.8,69.48 L144.4,70.31 L145,71.22 L145.6,72.19 L146.2,73.22 L146.8,74.29 L147.4,75.4 L148,76.52 L148.6,77.66 L149.2,78.8 L149.8,79.94 L150.4,81.07 L151,82.19 L151.6,83.29 L152.2,84.36 L152.8,85.4 L153.4,86.42 L154,87.4 L154.6,88.35 L155.2,89.26 L155.8,90.14 L156.4,90.98 L157,91.78 L157.6,92.55 L158.2,93.29 L158.8,93.99 L159.4,94.65 L160,95.29 L160.6,95.89 L161.2,96.46 L161.8,97 L162.4,97.51 L163,97.99 L163.6,98.44 L164.2,98.87 L164.8,99.28 L165.4,99.66 L166,100.02 L166.6,100.36 L167.2,100.68 L167.8,100.98 L168.4,101.26 L169,101.53 L169.6,101.77 L170.2,102.01 L170.8,102.22 L171.4,102.43 L172,102.62 L172.6,102.8 L173.2,102.96 L173.8,103.12 L174.4,103.27 L175,103.4 L175.6,103.53 L176.2,103.65 L176.8,103.76 L177.4,103.86 L178,103.96 L178.6,104.05 L179.2,104.13 L179.8,104.21 L180.4,104.28 L181,104.34 L181.6,104.41 L182.2,104.46 L182.8,104.52 L183.4,104.57 L184,104.61 L184.6,104.65 L185.2,104.69 L185.8,104.73 L186.4,104.76 L187,104.79 L187.6,104.82 L188.2,104.85 L188.8,104.87 L189.4,104.9 L190,104.92 L190.6,104.94 L191.2,104.95 L191.8,104.97 L192.4,104.98 L193,105 L193.6,105.01 L194.2,105.02 L194.8,105.03 L195.4,105.04 L196,105.05 L196.6,105.06 L197.2,105.07 L197.8,105.07 L198.4,105.08 L199,105.09 L199.6,105.09 L200.2,105.1 L200.8,105.1 L201.4,105.11 L202,105.11 L202.6,105.11 L203.2,105.12 L203.8,105.12 L204.4,105.12 L205,105.12 L205.6,105.13 L206.2,105.13 L206.8,105.13 L207.4,105.13 L208,105.13 L208.6,105.13 L209.2,105.14 L209.8,105.14 L210.4,105.14 L211,105.14 L211.6,105.14 L212.2,105.14 L212.8,105.14 L213.4,105.14 L214,105.14 L214.6,105.14 L215.2,105.14 L215.8,105.14 L216.4,105.14 L217,105.14 L217.6,105.14 L218.2,105.14 L218.8,105.14" fill="none" stroke="#54c467" stroke-width="1.15" stroke-linejoin="round" />
<path d="M43,105.25 L43.6,105.25 L44.2,105.25 L44.8,105.25 L45.4,105.25 L46,105.25 L46.6,105.25 L47.2,105.25 L47.8,105.25 L48.4,105.25 L49,105.25 L49.6,105.25 L50.2,105.25 L50.8,105.25 L51.4,105.25 L52,105.25 L52.6,105.25 L53.2,105.25 L53.8,105.25 L54.4,105.25 L55,105.25 L55.6,105.25 L56.2,105.25 L56.8,105.25 L57.4,105.25 L58,105.25 L58.6,105.25 L59.2,105.25 L59.8,105.25 L60.4,105.25 L61,105.25 L61.6,105.25 L62.2,105.25 L62.8,105.25 L63.4,105.25 L64,105.25 L64.6,105.25 L65.2,105.25 L65.8,105.24 L66.4,105.24 L67,105.24 L67.6,105.24 L68.2,105.24 L68.8,105.24 L69.4,105.24 L70,105.24 L70.6,105.23 L71.2,105.23 L71.8,105.23 L72.4,105.23 L73,105.22 L73.6,105.22 L74.2,105.21 L74.8,105.21 L75.4,105.21 L76,105.2 L76.6,105.19 L77.2,105.19 L77.8,105.18 L78.4,105.17 L79,105.16 L79.6,105.15 L80.2,105.14 L80.8,105.13 L81.4,105.12 L82,105.11 L82.6,105.09 L83.2,105.07 L83.8,105.06 L84.4,105.04 L85,105.01 L85.6,104.99 L86.2,104.96 L86.8,104.94 L87.4,104.91 L88,104.87 L88.6,104.84 L89.2,104.8 L89.8,104.75 L90.4,104.71 L91,104.66 L91.6,104.6 L92.2,104.55 L92.8,104.48 L93.4,104.42 L94,104.34 L94.6,104.26 L95.2,104.18 L95.8,104.09 L96.4,103.99 L97,103.89 L97.6,103.78 L98.2,103.66 L98.8,103.53 L99.4,103.39 L100,103.25 L100.6,103.09 L101.2,102.92 L101.8,102.75 L102.4,102.56 L103,102.36 L103.6,102.15 L104.2,101.93 L104.8,101.69 L105.4,101.44 L106,101.17 L106.6,100.89 L107.2,100.6 L107.8,100.29 L108.4,99.96 L109,99.62 L109.6,99.26 L110.2,98.88 L110.8,98.48 L111.4,98.06 L112,97.63 L112.6,97.17 L113.2,96.7 L113.8,96.21 L114.4,95.7 L115,95.16 L115.6,94.61 L116.2,94.03 L116.8,93.44 L117.4,92.83 L118,92.19 L118.6,91.54 L119.2,90.87 L119.8,90.18 L120.4,89.47 L121,88.75 L121.6,88.01 L122.2,87.26 L122.8,86.5 L123.4,85.72 L124,84.94 L124.6,84.15 L125.2,83.35 L125.8,82.55 L126.4,81.76 L127,80.97 L127.6,80.18 L128.2,79.41 L128.8,78.65 L129.4,77.91 L130,77.2 L130.6,76.51 L131.2,75.86 L131.8,75.24 L132.4,74.66 L133,74.13 L133.6,73.65 L134.2,73.23 L134.8,72.86 L135.4,72.55 L136,72.31 L136.6,72.14 L137.2,72.04 L137.8,72 L138.4,72.05 L139,72.19 L139.6,72.43 L140.2,72.76 L140.8,73.18 L141.4,73.68 L142,74.25 L142.6,74.9 L143.2,75.6 L143.8,76.36 L144.4,77.16 L145,78 L145.6,78.87 L146.2,79.77 L146.8,80.68 L147.4,81.6 L148,82.52 L148.6,83.45 L149.2,84.37 L149.8,85.28 L150.4,86.18 L151,87.06 L151.6,87.92 L152.2,88.77 L152.8,89.59 L153.4,90.38 L154,91.15 L154.6,91.89 L155.2,92.61 L155.8,93.3 L156.4,93.96 L157,94.59 L157.6,95.2 L158.2,95.78 L158.8,96.33 L159.4,96.86 L160,97.36 L160.6,97.84 L161.2,98.29 L161.8,98.73 L162.4,99.13 L163,99.52 L163.6,99.89 L164.2,100.23 L164.8,100.56 L165.4,100.87 L166,101.16 L166.6,101.43 L167.2,101.69 L167.8,101.93 L168.4,102.16 L169,102.38 L169.6,102.58 L170.2,102.77 L170.8,102.94 L171.4,103.11 L172,103.26 L172.6,103.41 L173.2,103.54 L173.8,103.67 L174.4,103.79 L175,103.9 L175.6,104 L176.2,104.1 L176.8,104.18 L177.4,104.27 L178,104.34 L178.6,104.41 L179.2,104.48 L179.8,104.54 L180.4,104.6 L181,104.65 L181.6,104.7 L182.2,104.75 L182.8,104.79 L183.4,104.83 L184,104.86 L184.6,104.89 L185.2,104.92 L185.8,104.95 L186.4,104.98 L187,105 L187.6,105.02 L188.2,105.04 L188.8,105.06 L189.4,105.08 L190,105.09 L190.6,105.11 L191.2,105.12 L191.8,105.13 L192.4,105.14 L193,105.15 L193.6,105.16 L194.2,105.17 L194.8,105.18 L195.4,105.19 L196,105.19 L196.6,105.2 L197.2,105.2 L197.8,105.21 L198.4,105.21 L199,105.22 L199.6,105.22 L200.2,105.22 L200.8,105.23 L201.4,105.23 L202,105.23 L202.6,105.23 L203.2,105.23 L203.8,105.24 L204.4,105.24 L205,105.24 L205.6,105.24 L206.2,105.24 L206.8,105.24 L207.4,105.24 L208,105.24 L208.6,105.25 L209.2,105.25 L209.8,105.25 L210.4,105.25 L211,105.25 L211.6,105.25 L212.2,105.25 L212.8,105.25 L213.4,105.25 L214,105.25 L214.6,105.25 L215.2,105.25 L215.8,105.25 L216.4,105.25 L217,105.25 L217.6,105.25 L218.2,105.25 L218.8,105.25" fill="none" stroke="#88d448" stroke-width="1.15" stroke-linejoin="round" />
<path d="M43,105.37 L43.6,105.37 L44.2,105.37 L44.8,105.37 L45.4,105.37 L46,105.37 L46.6,105.37 L47.2,105.37 L47.8,105.37 L48.4,105.37 L49,105.37 L49.6,105.37 L50.2,105.37 L50.8,105.37 L51.4,105.37 L52,105.37 L52.6,105.37 L53.2,105.37 L53.8,105.37 L54.4,105.37 L55,105.37 L55.6,105.37 L56.2,105.37 L56.8,105.37 L57.4,105.37 L58,105.37 L58.6,105.37 L59.2,105.37 L59.8,105.37 L60.4,105.37 L61,105.37 L61.6,105.37 L62.2,105.37 L62.8,105.37 L63.4,105.37 L64,105.37 L64.6,105.36 L65.2,105.36 L65.8,105.36 L66.4,105.36 L67,105.36 L67.6,105.36 L68.2,105.36 L68.8,105.36 L69.4,105.35 L70,105.35 L70.6,105.35 L71.2,105.35 L71.8,105.34 L72.4,105.34 L73,105.34 L73.6,105.33 L74.2,105.33 L74.8,105.32 L75.4,105.32 L76,105.31 L76.6,105.3 L77.2,105.3 L77.8,105.29 L78.4,105.28 L79,105.27 L79.6,105.25 L80.2,105.24 L80.8,105.22 L81.4,105.21 L82,105.19 L82.6,105.17 L83.2,105.15 L83.8,105.12 L84.4,105.1 L85,105.07 L85.6,105.04 L86.2,105 L86.8,104.96 L87.4,104.92 L88,104.88 L88.6,104.83 L89.2,104.77 L89.8,104.72 L90.4,104.65 L91,104.58 L91.6,104.51 L92.2,104.43 L92.8,104.35 L93.4,104.25 L94,104.15 L94.6,104.05 L95.2,103.93 L95.8,103.81 L96.4,103.68 L97,103.53 L97.6,103.38 L98.2,103.22 L98.8,103.05 L99.4,102.87 L100,102.67 L100.6,102.47 L101.2,102.25 L101.8,102.02 L102.4,101.77 L103,101.52 L103.6,101.24 L104.2,100.96 L104.8,100.66 L105.4,100.34 L106,100.01 L106.6,99.66 L107.2,99.3 L107.8,98.92 L108.4,98.53 L109,98.11 L109.6,97.69 L110.2,97.24 L110.8,96.78 L111.4,96.31 L112,95.82 L112.6,95.31 L113.2,94.79 L113.8,94.25 L114.4,93.7 L115,93.14 L115.6,92.56 L116.2,91.98 L116.8,91.38 L117.4,90.77 L118,90.15 L118.6,89.53 L119.2,88.9 L119.8,88.27 L120.4,87.64 L121,87 L121.6,86.37 L122.2,85.73 L122.8,85.11 L123.4,84.49 L124,83.88 L124.6,83.28 L125.2,82.7 L125.8,82.13 L126.4,81.59 L127,81.06 L127.6,80.56 L128.2,80.09 L128.8,79.64 L129.4,79.23 L130,78.86 L130.6,78.51 L131.2,78.21 L131.8,77.95 L132.4,77.73 L133,77.56 L133.6,77.43 L134.2,77.34 L134.8,77.3 L135.4,77.32 L136,77.4 L136.6,77.55 L137.2,77.77 L137.8,78.06 L138.4,78.4 L139,78.81 L139.6,79.27 L140.2,79.79 L140.8,80.34 L141.4,80.94 L142,81.57 L142.6,82.23 L143.2,82.92 L143.8,83.63 L144.4,84.35 L145,85.09 L145.6,85.83 L146.2,86.57 L146.8,87.31 L147.4,88.05 L148,88.79 L148.6,89.51 L149.2,90.22 L149.8,90.92 L150.4,91.6 L151,92.27 L151.6,92.92 L152.2,93.55 L152.8,94.16 L153.4,94.75 L154,95.32 L154.6,95.87 L155.2,96.4 L155.8,96.9 L156.4,97.39 L157,97.85 L157.6,98.3 L158.2,98.72 L158.8,99.13 L159.4,99.51 L160,99.88 L160.6,100.23 L161.2,100.55 L161.8,100.87 L162.4,101.16 L163,101.44 L163.6,101.71 L164.2,101.96 L164.8,102.19 L165.4,102.41 L166,102.62 L166.6,102.82 L167.2,103 L167.8,103.17 L168.4,103.33 L169,103.48 L169.6,103.62 L170.2,103.76 L170.8,103.88 L171.4,103.99 L172,104.1 L172.6,104.2 L173.2,104.29 L173.8,104.38 L174.4,104.46 L175,104.53 L175.6,104.6 L176.2,104.67 L176.8,104.72 L177.4,104.78 L178,104.83 L178.6,104.88 L179.2,104.92 L179.8,104.96 L180.4,104.99 L181,105.03 L181.6,105.06 L182.2,105.09 L182.8,105.11 L183.4,105.14 L184,105.16 L184.6,105.18 L185.2,105.19 L185.8,105.21 L186.4,105.23 L187,105.24 L187.6,105.25 L188.2,105.26 L188.8,105.27 L189.4,105.28 L190,105.29 L190.6,105.3 L191.2,105.31 L191.8,105.31 L192.4,105.32 L193,105.32 L193.6,105.33 L194.2,105.33 L194.8,105.34 L195.4,105.34 L196,105.34 L196.6,105.35 L197.2,105.35 L197.8,105.35 L198.4,105.35 L199,105.36 L199.6,105.36 L200.2,105.36 L200.8,105.36 L201.4,105.36 L202,105.36 L202.6,105.36 L203.2,105.36 L203.8,105.36 L204.4,105.36 L205,105.37 L205.6,105.37 L206.2,105.37 L206.8,105.37 L207.4,105.37 L208,105.37 L208.6,105.37 L209.2,105.37 L209.8,105.37 L210.4,105.37 L211,105.37 L211.6,105.37 L212.2,105.37 L212.8,105.37 L213.4,105.37 L214,105.37 L214.6,105.37 L215.2,105.37 L215.8,105.37 L216.4,105.37 L217,105.37 L217.6,105.37 L218.2,105.37 L218.8,105.37" fill="none" stroke="#c2e02a" stroke-width="1.15" stroke-linejoin="round" />
<path d="M43,105.5 L43.6,105.5 L44.2,105.5 L44.8,105.5 L45.4,105.5 L46,105.5 L46.6,105.5 L47.2,105.5 L47.8,105.5 L48.4,105.5 L49,105.5 L49.6,105.5 L50.2,105.5 L50.8,105.5 L51.4,105.5 L52,105.5 L52.6,105.5 L53.2,105.5 L53.8,105.5 L54.4,105.5 L55,105.5 L55.6,105.5 L56.2,105.5 L56.8,105.5 L57.4,105.5 L58,105.5 L58.6,105.5 L59.2,105.5 L59.8,105.5 L60.4,105.5 L61,105.5 L61.6,105.5 L62.2,105.5 L62.8,105.5 L63.4,105.5 L64,105.5 L64.6,105.49 L65.2,105.49 L65.8,105.49 L66.4,105.49 L67,105.49 L67.6,105.49 L68.2,105.49 L68.8,105.49 L69.4,105.48 L70,105.48 L70.6,105.48 L71.2,105.47 L71.8,105.47 L72.4,105.47 L73,105.46 L73.6,105.46 L74.2,105.45 L74.8,105.44 L75.4,105.43 L76,105.43 L76.6,105.42 L77.2,105.41 L77.8,105.39 L78.4,105.38 L79,105.36 L79.6,105.35 L80.2,105.33 L80.8,105.31 L81.4,105.28 L82,105.26 L82.6,105.23 L83.2,105.2 L83.8,105.16 L84.4,105.12 L85,105.08 L85.6,105.04 L86.2,104.99 L86.8,104.93 L87.4,104.87 L88,104.81 L88.6,104.74 L89.2,104.66 L89.8,104.57 L90.4,104.48 L91,104.39 L91.6,104.28 L92.2,104.17 L92.8,104.04 L93.4,103.91 L94,103.77 L94.6,103.62 L95.2,103.46 L95.8,103.28 L96.4,103.1 L97,102.9 L97.6,102.69 L98.2,102.47 L98.8,102.24 L99.4,101.99 L100,101.73 L100.6,101.46 L101.2,101.17 L101.8,100.87 L102.4,100.55 L103,100.22 L103.6,99.88 L104.2,99.52 L104.8,99.15 L105.4,98.76 L106,98.36 L106.6,97.94 L107.2,97.51 L107.8,97.07 L108.4,96.62 L109,96.15 L109.6,95.68 L110.2,95.19 L110.8,94.7 L111.4,94.2 L112,93.69 L112.6,93.17 L113.2,92.65 L113.8,92.13 L114.4,91.6 L115,91.07 L115.6,90.54 L116.2,90.02 L116.8,89.5 L117.4,88.98 L118,88.47 L118.6,87.97 L119.2,87.48 L119.8,87 L120.4,86.53 L121,86.08 L121.6,85.64 L122.2,85.22 L122.8,84.83 L123.4,84.45 L124,84.09 L124.6,83.76 L125.2,83.46 L125.8,83.18 L126.4,82.93 L127,82.71 L127.6,82.51 L128.2,82.35 L128.8,82.22 L129.4,82.11 L130,82.04 L130.6,82.01 L131.2,82 L131.8,82.05 L132.4,82.14 L133,82.29 L133.6,82.48 L134.2,82.73 L134.8,83.02 L135.4,83.35 L136,83.72 L136.6,84.13 L137.2,84.58 L137.8,85.05 L138.4,85.56 L139,86.08 L139.6,86.63 L140.2,87.2 L140.8,87.77 L141.4,88.36 L142,88.96 L142.6,89.56 L143.2,90.16 L143.8,90.77 L144.4,91.37 L145,91.96 L145.6,92.55 L146.2,93.13 L146.8,93.7 L147.4,94.26 L148,94.81 L148.6,95.34 L149.2,95.86 L149.8,96.36 L150.4,96.85 L151,97.32 L151.6,97.77 L152.2,98.21 L152.8,98.63 L153.4,99.03 L154,99.42 L154.6,99.79 L155.2,100.14 L155.8,100.48 L156.4,100.8 L157,101.11 L157.6,101.4 L158.2,101.67 L158.8,101.93 L159.4,102.18 L160,102.41 L160.6,102.63 L161.2,102.83 L161.8,103.03 L162.4,103.21 L163,103.38 L163.6,103.54 L164.2,103.69 L164.8,103.83 L165.4,103.96 L166,104.08 L166.6,104.2 L167.2,104.3 L167.8,104.4 L168.4,104.49 L169,104.58 L169.6,104.66 L170.2,104.73 L170.8,104.8 L171.4,104.86 L172,104.91 L172.6,104.97 L173.2,105.01 L173.8,105.06 L174.4,105.1 L175,105.14 L175.6,105.17 L176.2,105.2 L176.8,105.23 L177.4,105.26 L178,105.28 L178.6,105.3 L179.2,105.32 L179.8,105.34 L180.4,105.36 L181,105.37 L181.6,105.38 L182.2,105.4 L182.8,105.41 L183.4,105.42 L184,105.43 L184.6,105.43 L185.2,105.44 L185.8,105.45 L186.4,105.45 L187,105.46 L187.6,105.46 L188.2,105.47 L188.8,105.47 L189.4,105.47 L190,105.48 L190.6,105.48 L191.2,105.48 L191.8,105.48 L192.4,105.49 L193,105.49 L193.6,105.49 L194.2,105.49 L194.8,105.49 L195.4,105.49 L196,105.49 L196.6,105.49 L197.2,105.5 L197.8,105.5 L198.4,105.5 L199,105.5 L199.6,105.5 L200.2,105.5 L200.8,105.5 L201.4,105.5 L202,105.5 L202.6,105.5 L203.2,105.5 L203.8,105.5 L204.4,105.5 L205,105.5 L205.6,105.5 L206.2,105.5 L206.8,105.5 L207.4,105.5 L208,105.5 L208.6,105.5 L209.2,105.5 L209.8,105.5 L210.4,105.5 L211,105.5 L211.6,105.5 L212.2,105.5 L212.8,105.5 L213.4,105.5 L214,105.5 L214.6,105.5 L215.2,105.5 L215.8,105.5 L216.4,105.5 L217,105.5 L217.6,105.5 L218.2,105.5 L218.8,105.5" fill="none" stroke="#fde725" stroke-width="1.15" stroke-linejoin="round" />
<path d="M43,205.3 L43.6,205.3 L44.2,205.3 L44.8,205.3 L45.4,205.3 L46,205.3 L46.6,205.3 L47.2,205.3 L47.8,205.3 L48.4,205.3 L49,205.3 L49.6,205.3 L50.2,205.3 L50.8,205.3 L51.4,205.3 L52,205.3 L52.6,205.3 L53.2,205.3 L53.8,205.3 L54.4,205.3 L55,205.3 L55.6,205.3 L56.2,205.3 L56.8,205.3 L57.4,205.3 L58,205.3 L58.6,205.3 L59.2,205.3 L59.8,205.3 L60.4,205.3 L61,205.3 L61.6,205.3 L62.2,205.3 L62.8,205.3 L63.4,205.3 L64,205.3 L64.6,205.3 L65.2,205.3 L65.8,205.3 L66.4,205.3 L67,205.3 L67.6,205.3 L68.2,205.3 L68.8,205.3 L69.4,205.29 L70,205.29 L70.6,205.29 L71.2,205.29 L71.8,205.29 L72.4,205.29 L73,205.29 L73.6,205.29 L74.2,205.29 L74.8,205.29 L75.4,205.29 L76,205.29 L76.6,205.28 L77.2,205.28 L77.8,205.28 L78.4,205.28 L79,205.28 L79.6,205.28 L80.2,205.27 L80.8,205.27 L81.4,205.27 L82,205.27 L82.6,205.26 L83.2,205.26 L83.8,205.25 L84.4,205.25 L85,205.24 L85.6,205.24 L86.2,205.23 L86.8,205.23 L87.4,205.22 L88,205.21 L88.6,205.2 L89.2,205.2 L89.8,205.19 L90.4,205.17 L91,205.16 L91.6,205.15 L92.2,205.13 L92.8,205.12 L93.4,205.1 L94,205.08 L94.6,205.06 L95.2,205.04 L95.8,205.01 L96.4,204.98 L97,204.95 L97.6,204.92 L98.2,204.88 L98.8,204.84 L99.4,204.8 L100,204.75 L100.6,204.7 L101.2,204.64 L101.8,204.58 L102.4,204.51 L103,204.43 L103.6,204.35 L104.2,204.26 L104.8,204.15 L105.4,204.04 L106,203.92 L106.6,203.79 L107.2,203.65 L107.8,203.49 L108.4,203.31 L109,203.12 L109.6,202.92 L110.2,202.69 L110.8,202.44 L111.4,202.16 L112,201.86 L112.6,201.53 L113.2,201.17 L113.8,200.78 L114.4,200.35 L115,199.87 L115.6,199.36 L116.2,198.79 L116.8,198.17 L117.4,197.49 L118,196.75 L118.6,195.94 L119.2,195.06 L119.8,194.09 L120.4,193.04 L121,191.89 L121.6,190.64 L122.2,189.27 L122.8,187.79 L123.4,186.17 L124,184.42 L124.6,182.51 L125.2,180.46 L125.8,178.23 L126.4,175.84 L127,173.26 L127.6,170.51 L128.2,167.57 L128.8,164.46 L129.4,161.16 L130,157.71 L130.6,154.13 L131.2,150.43 L131.8,146.65 L132.4,142.86 L133,139.1 L133.6,135.44 L134.2,131.97 L134.8,128.77 L135.4,125.92 L136,123.52 L136.6,121.64 L137.2,120.34 L137.8,119.68 L138.4,119.68 L139,120.28 L139.6,121.46 L140.2,123.19 L140.8,125.41 L141.4,128.04 L142,131.02 L142.6,134.27 L143.2,137.71 L143.8,141.27 L144.4,144.89 L145,148.52 L145.6,152.1 L146.2,155.59 L146.8,158.97 L147.4,162.22 L148,165.32 L148.6,168.26 L149.2,171.03 L149.8,173.64 L150.4,176.07 L151,178.35 L151.6,180.47 L152.2,182.44 L152.8,184.27 L153.4,185.96 L154,187.52 L154.6,188.97 L155.2,190.3 L155.8,191.52 L156.4,192.65 L157,193.7 L157.6,194.65 L158.2,195.53 L158.8,196.34 L159.4,197.08 L160,197.77 L160.6,198.39 L161.2,198.97 L161.8,199.49 L162.4,199.98 L163,200.42 L163.6,200.83 L164.2,201.2 L164.8,201.55 L165.4,201.86 L166,202.15 L166.6,202.41 L167.2,202.65 L167.8,202.87 L168.4,203.08 L169,203.26 L169.6,203.44 L170.2,203.59 L170.8,203.73 L171.4,203.87 L172,203.99 L172.6,204.1 L173.2,204.2 L173.8,204.29 L174.4,204.38 L175,204.45 L175.6,204.52 L176.2,204.59 L176.8,204.65 L177.4,204.7 L178,204.75 L178.6,204.8 L179.2,204.84 L179.8,204.88 L180.4,204.92 L181,204.95 L181.6,204.98 L182.2,205 L182.8,205.03 L183.4,205.05 L184,205.07 L184.6,205.09 L185.2,205.11 L185.8,205.13 L186.4,205.14 L187,205.15 L187.6,205.17 L188.2,205.18 L188.8,205.19 L189.4,205.2 L190,205.21 L190.6,205.21 L191.2,205.22 L191.8,205.23 L192.4,205.23 L193,205.24 L193.6,205.24 L194.2,205.25 L194.8,205.25 L195.4,205.26 L196,205.26 L196.6,205.26 L197.2,205.27 L197.8,205.27 L198.4,205.27 L199,205.27 L199.6,205.28 L200.2,205.28 L200.8,205.28 L201.4,205.28 L202,205.28 L202.6,205.29 L203.2,205.29 L203.8,205.29 L204.4,205.29 L205,205.29 L205.6,205.29 L206.2,205.29 L206.8,205.29 L207.4,205.29 L208,205.29 L208.6,205.29 L209.2,205.29 L209.8,205.29 L210.4,205.3 L211,205.3 L211.6,205.3 L212.2,205.3 L212.8,205.3 L213.4,205.3 L214,205.3 L214.6,205.3 L215.2,205.3 L215.8,205.3 L216.4,205.3 L217,205.3 L217.6,205.3 L218.2,205.3 L218.8,205.3" fill="none" stroke="#440154" stroke-width="1.15" stroke-linejoin="round" />
<path d="M43,205.31 L43.6,205.31 L44.2,205.31 L44.8,205.31 L45.4,205.31 L46,205.31 L46.6,205.31 L47.2,205.31 L47.8,205.31 L48.4,205.31 L49,205.31 L49.6,205.31 L50.2,205.31 L50.8,205.31 L51.4,205.31 L52,205.31 L52.6,205.31 L53.2,205.31 L53.8,205.31 L54.4,205.31 L55,205.31 L55.6,205.31 L56.2,205.31 L56.8,205.31 L57.4,205.31 L58,205.31 L58.6,205.31 L59.2,205.31 L59.8,205.31 L60.4,205.3 L61,205.3 L61.6,205.3 L62.2,205.3 L62.8,205.3 L63.4,205.3 L64,205.3 L64.6,205.3 L65.2,205.3 L65.8,205.3 L66.4,205.3 L67,205.3 L67.6,205.3 L68.2,205.3 L68.8,205.3 L69.4,205.3 L70,205.3 L70.6,205.3 L71.2,205.3 L71.8,205.3 L72.4,205.3 L73,205.3 L73.6,205.3 L74.2,205.3 L74.8,205.29 L75.4,205.29 L76,205.29 L76.6,205.29 L77.2,205.29 L77.8,205.29 L78.4,205.29 L79,205.28 L79.6,205.28 L80.2,205.28 L80.8,205.28 L81.4,205.28 L82,205.27 L82.6,205.27 L83.2,205.27 L83.8,205.26 L84.4,205.26 L85,205.25 L85.6,205.25 L86.2,205.24 L86.8,205.24 L87.4,205.23 L88,205.22 L88.6,205.21 L89.2,205.2 L89.8,205.19 L90.4,205.18 L91,205.17 L91.6,205.16 L92.2,205.14 L92.8,205.13 L93.4,205.11 L94,205.09 L94.6,205.07 L95.2,205.05 L95.8,205.02 L96.4,205 L97,204.97 L97.6,204.93 L98.2,204.9 L98.8,204.86 L99.4,204.82 L100,204.77 L100.6,204.72 L101.2,204.66 L101.8,204.6 L102.4,204.53 L103,204.46 L103.6,204.38 L104.2,204.29 L104.8,204.19 L105.4,204.08 L106,203.96 L106.6,203.83 L107.2,203.69 L107.8,203.54 L108.4,203.37 L109,203.18 L109.6,202.98 L110.2,202.76 L110.8,202.52 L111.4,202.25 L112,201.96 L112.6,201.64 L113.2,201.29 L113.8,200.9 L114.4,200.48 L115,200.03 L115.6,199.52 L116.2,198.97 L116.8,198.37 L117.4,197.72 L118,197 L118.6,196.21 L119.2,195.36 L119.8,194.42 L120.4,193.4 L121,192.29 L121.6,191.07 L122.2,189.75 L122.8,188.31 L123.4,186.75 L124,185.05 L124.6,183.21 L125.2,181.22 L125.8,179.07 L126.4,176.76 L127,174.28 L127.6,171.62 L128.2,168.78 L128.8,165.77 L129.4,162.6 L130,159.28 L130.6,155.82 L131.2,152.25 L131.8,148.62 L132.4,144.96 L133,141.35 L133.6,137.83 L134.2,134.49 L134.8,131.41 L135.4,128.67 L136,126.36 L136.6,124.56 L137.2,123.31 L137.8,122.68 L138.4,122.67 L139,123.25 L139.6,124.38 L140.2,126.03 L140.8,128.15 L141.4,130.67 L142,133.52 L142.6,136.63 L143.2,139.93 L143.8,143.35 L144.4,146.83 L145,150.31 L145.6,153.75 L146.2,157.11 L146.8,160.36 L147.4,163.49 L148,166.48 L148.6,169.31 L149.2,171.99 L149.8,174.51 L150.4,176.86 L151,179.07 L151.6,181.12 L152.2,183.03 L152.8,184.8 L153.4,186.44 L154,187.95 L154.6,189.35 L155.2,190.65 L155.8,191.84 L156.4,192.94 L157,193.95 L157.6,194.88 L158.2,195.74 L158.8,196.53 L159.4,197.25 L160,197.92 L160.6,198.53 L161.2,199.09 L161.8,199.61 L162.4,200.08 L163,200.51 L163.6,200.91 L164.2,201.28 L164.8,201.61 L165.4,201.92 L166,202.2 L166.6,202.46 L167.2,202.7 L167.8,202.91 L168.4,203.11 L169,203.3 L169.6,203.46 L170.2,203.62 L170.8,203.76 L171.4,203.89 L172,204.01 L172.6,204.12 L173.2,204.22 L173.8,204.31 L174.4,204.39 L175,204.47 L175.6,204.54 L176.2,204.6 L176.8,204.66 L177.4,204.71 L178,204.76 L178.6,204.81 L179.2,204.85 L179.8,204.89 L180.4,204.92 L181,204.96 L181.6,204.99 L182.2,205.01 L182.8,205.04 L183.4,205.06 L184,205.08 L184.6,205.1 L185.2,205.12 L185.8,205.13 L186.4,205.15 L187,205.16 L187.6,205.17 L188.2,205.18 L188.8,205.19 L189.4,205.2 L190,205.21 L190.6,205.22 L191.2,205.23 L191.8,205.23 L192.4,205.24 L193,205.25 L193.6,205.25 L194.2,205.26 L194.8,205.26 L195.4,205.26 L196,205.27 L196.6,205.27 L197.2,205.27 L197.8,205.28 L198.4,205.28 L199,205.28 L199.6,205.28 L200.2,205.29 L200.8,205.29 L201.4,205.29 L202,205.29 L202.6,205.29 L203.2,205.29 L203.8,205.29 L204.4,205.29 L205,205.3 L205.6,205.3 L206.2,205.3 L206.8,205.3 L207.4,205.3 L208,205.3 L208.6,205.3 L209.2,205.3 L209.8,205.3 L210.4,205.3 L211,205.3 L211.6,205.3 L212.2,205.3 L212.8,205.3 L213.4,205.3 L214,205.3 L214.6,205.3 L215.2,205.3 L215.8,205.3 L216.4,205.3 L217,205.3 L217.6,205.3 L218.2,205.3 L218.8,205.3" fill="none" stroke="#472171" stroke-width="1.15" stroke-linejoin="round" />
<path d="M43,205.32 L43.6,205.32 L44.2,205.32 L44.8,205.32 L45.4,205.32 L46,205.32 L46.6,205.32 L47.2,205.32 L47.8,205.32 L48.4,205.32 L49,205.32 L49.6,205.32 L50.2,205.32 L50.8,205.32 L51.4,205.32 L52,205.32 L52.6,205.32 L53.2,205.32 L53.8,205.32 L54.4,205.32 L55,205.32 L55.6,205.32 L56.2,205.32 L56.8,205.32 L57.4,205.32 L58,205.32 L58.6,205.32 L59.2,205.32 L59.8,205.32 L60.4,205.32 L61,205.32 L61.6,205.32 L62.2,205.32 L62.8,205.32 L63.4,205.32 L64,205.32 L64.6,205.32 L65.2,205.32 L65.8,205.32 L66.4,205.32 L67,205.32 L67.6,205.32 L68.2,205.32 L68.8,205.32 L69.4,205.32 L70,205.32 L70.6,205.32 L71.2,205.32 L71.8,205.32 L72.4,205.32 L73,205.32 L73.6,205.32 L74.2,205.31 L74.8,205.31 L75.4,205.31 L76,205.31 L76.6,205.31 L77.2,205.31 L77.8,205.31 L78.4,205.3 L79,205.3 L79.6,205.3 L80.2,205.3 L80.8,205.3 L81.4,205.29 L82,205.29 L82.6,205.29 L83.2,205.28 L83.8,205.28 L84.4,205.27 L85,205.27 L85.6,205.26 L86.2,205.26 L86.8,205.25 L87.4,205.24 L88,205.24 L88.6,205.23 L89.2,205.22 L89.8,205.21 L90.4,205.2 L91,205.19 L91.6,205.17 L92.2,205.16 L92.8,205.14 L93.4,205.12 L94,205.1 L94.6,205.08 L95.2,205.06 L95.8,205.03 L96.4,205.01 L97,204.98 L97.6,204.94 L98.2,204.91 L98.8,204.87 L99.4,204.82 L100,204.77 L100.6,204.72 L101.2,204.66 L101.8,204.6 L102.4,204.53 L103,204.46 L103.6,204.37 L104.2,204.28 L104.8,204.19 L105.4,204.08 L106,203.96 L106.6,203.83 L107.2,203.69 L107.8,203.53 L108.4,203.36 L109,203.17 L109.6,202.97 L110.2,202.75 L110.8,202.5 L111.4,202.24 L112,201.94 L112.6,201.62 L113.2,201.27 L113.8,200.89 L114.4,200.48 L115,200.02 L115.6,199.52 L116.2,198.98 L116.8,198.38 L117.4,197.73 L118,197.02 L118.6,196.25 L119.2,195.4 L119.8,194.48 L120.4,193.48 L121,192.38 L121.6,191.19 L122.2,189.9 L122.8,188.49 L123.4,186.96 L124,185.31 L124.6,183.52 L125.2,181.59 L125.8,179.5 L126.4,177.26 L127,174.86 L127.6,172.29 L128.2,169.56 L128.8,166.67 L129.4,163.62 L130,160.43 L130.6,157.12 L131.2,153.71 L131.8,150.25 L132.4,146.77 L133,143.33 L133.6,139.99 L134.2,136.83 L134.8,133.92 L135.4,131.33 L136,129.15 L136.6,127.44 L137.2,126.27 L137.8,125.68 L138.4,125.67 L139,126.2 L139.6,127.26 L140.2,128.79 L140.8,130.77 L141.4,133.12 L142,135.79 L142.6,138.7 L143.2,141.8 L143.8,145.02 L144.4,148.3 L145,151.6 L145.6,154.87 L146.2,158.07 L146.8,161.18 L147.4,164.17 L148,167.04 L148.6,169.76 L149.2,172.35 L149.8,174.78 L150.4,177.07 L151,179.21 L151.6,181.2 L152.2,183.07 L152.8,184.8 L153.4,186.41 L154,187.9 L154.6,189.28 L155.2,190.55 L155.8,191.73 L156.4,192.82 L157,193.82 L157.6,194.75 L158.2,195.6 L158.8,196.39 L159.4,197.11 L160,197.78 L160.6,198.39 L161.2,198.96 L161.8,199.48 L162.4,199.95 L163,200.39 L163.6,200.79 L164.2,201.16 L164.8,201.5 L165.4,201.82 L166,202.1 L166.6,202.37 L167.2,202.61 L167.8,202.83 L168.4,203.04 L169,203.23 L169.6,203.4 L170.2,203.56 L170.8,203.7 L171.4,203.84 L172,203.96 L172.6,204.07 L173.2,204.17 L173.8,204.27 L174.4,204.36 L175,204.44 L175.6,204.51 L176.2,204.58 L176.8,204.64 L177.4,204.69 L178,204.75 L178.6,204.79 L179.2,204.84 L179.8,204.88 L180.4,204.92 L181,204.95 L181.6,204.98 L182.2,205.01 L182.8,205.03 L183.4,205.06 L184,205.08 L184.6,205.1 L185.2,205.12 L185.8,205.14 L186.4,205.15 L187,205.17 L187.6,205.18 L188.2,205.19 L188.8,205.2 L189.4,205.21 L190,205.22 L190.6,205.23 L191.2,205.24 L191.8,205.25 L192.4,205.25 L193,205.26 L193.6,205.26 L194.2,205.27 L194.8,205.27 L195.4,205.28 L196,205.28 L196.6,205.29 L197.2,205.29 L197.8,205.29 L198.4,205.29 L199,205.3 L199.6,205.3 L200.2,205.3 L200.8,205.3 L201.4,205.3 L202,205.31 L202.6,205.31 L203.2,205.31 L203.8,205.31 L204.4,205.31 L205,205.31 L205.6,205.31 L206.2,205.31 L206.8,205.32 L207.4,205.32 L208,205.32 L208.6,205.32 L209.2,205.32 L209.8,205.32 L210.4,205.32 L211,205.32 L211.6,205.32 L212.2,205.32 L212.8,205.32 L213.4,205.32 L214,205.32 L214.6,205.32 L215.2,205.32 L215.8,205.32 L216.4,205.32 L217,205.32 L217.6,205.32 L218.2,205.32 L218.8,205.32" fill="none" stroke="#423e83" stroke-width="1.15" stroke-linejoin="round" />
<path d="M43,205.36 L43.6,205.36 L44.2,205.36 L44.8,205.36 L45.4,205.36 L46,205.36 L46.6,205.36 L47.2,205.36 L47.8,205.36 L48.4,205.36 L49,205.36 L49.6,205.36 L50.2,205.36 L50.8,205.36 L51.4,205.36 L52,205.36 L52.6,205.36 L53.2,205.36 L53.8,205.36 L54.4,205.36 L55,205.36 L55.6,205.36 L56.2,205.36 L56.8,205.35 L57.4,205.35 L58,205.35 L58.6,205.35 L59.2,205.35 L59.8,205.35 L60.4,205.35 L61,205.35 L61.6,205.35 L62.2,205.35 L62.8,205.35 L63.4,205.35 L64,205.35 L64.6,205.35 L65.2,205.35 L65.8,205.35 L66.4,205.35 L67,205.35 L67.6,205.35 L68.2,205.35 L68.8,205.35 L69.4,205.35 L70,205.35 L70.6,205.35 L71.2,205.35 L71.8,205.35 L72.4,205.35 L73,205.35 L73.6,205.34 L74.2,205.34 L74.8,205.34 L75.4,205.34 L76,205.34 L76.6,205.34 L77.2,205.34 L77.8,205.33 L78.4,205.33 L79,205.33 L79.6,205.33 L80.2,205.33 L80.8,205.32 L81.4,205.32 L82,205.32 L82.6,205.31 L83.2,205.31 L83.8,205.3 L84.4,205.3 L85,205.29 L85.6,205.29 L86.2,205.28 L86.8,205.27 L87.4,205.27 L88,205.26 L88.6,205.25 L89.2,205.24 L89.8,205.23 L90.4,205.21 L91,205.2 L91.6,205.18 L92.2,205.17 L92.8,205.15 L93.4,205.13 L94,205.11 L94.6,205.09 L95.2,205.06 L95.8,205.03 L96.4,205 L97,204.97 L97.6,204.93 L98.2,204.89 L98.8,204.85 L99.4,204.8 L100,204.75 L100.6,204.69 L101.2,204.63 L101.8,204.56 L102.4,204.49 L103,204.4 L103.6,204.32 L104.2,204.22 L104.8,204.11 L105.4,204 L106,203.87 L106.6,203.73 L107.2,203.58 L107.8,203.41 L108.4,203.23 L109,203.03 L109.6,202.82 L110.2,202.58 L110.8,202.33 L111.4,202.05 L112,201.74 L112.6,201.41 L113.2,201.05 L113.8,200.65 L114.4,200.22 L115,199.74 L115.6,199.23 L116.2,198.67 L116.8,198.06 L117.4,197.4 L118,196.67 L118.6,195.88 L119.2,195.03 L119.8,194.1 L120.4,193.09 L121,191.99 L121.6,190.8 L122.2,189.5 L122.8,188.11 L123.4,186.59 L124,184.96 L124.6,183.2 L125.2,181.3 L125.8,179.27 L126.4,177.09 L127,174.76 L127.6,172.29 L128.2,169.66 L128.8,166.9 L129.4,164 L130,160.98 L130.6,157.86 L131.2,154.68 L131.8,151.45 L132.4,148.23 L133,145.07 L133.6,142.03 L134.2,139.16 L134.8,136.54 L135.4,134.24 L136,132.33 L136.6,130.86 L137.2,129.88 L137.8,129.43 L138.4,129.51 L139,130.06 L139.6,131.08 L140.2,132.52 L140.8,134.35 L141.4,136.51 L142,138.96 L142.6,141.63 L143.2,144.47 L143.8,147.42 L144.4,150.43 L145,153.47 L145.6,156.48 L146.2,159.45 L146.8,162.34 L147.4,165.13 L148,167.82 L148.6,170.38 L149.2,172.82 L149.8,175.12 L150.4,177.3 L151,179.34 L151.6,181.25 L152.2,183.05 L152.8,184.72 L153.4,186.28 L154,187.72 L154.6,189.07 L155.2,190.32 L155.8,191.48 L156.4,192.55 L157,193.55 L157.6,194.47 L158.2,195.32 L158.8,196.1 L159.4,196.83 L160,197.5 L160.6,198.12 L161.2,198.69 L161.8,199.21 L162.4,199.7 L163,200.15 L163.6,200.56 L164.2,200.94 L164.8,201.29 L165.4,201.61 L166,201.91 L166.6,202.18 L167.2,202.44 L167.8,202.67 L168.4,202.88 L169,203.08 L169.6,203.26 L170.2,203.43 L170.8,203.58 L171.4,203.73 L172,203.86 L172.6,203.98 L173.2,204.09 L173.8,204.19 L174.4,204.28 L175,204.37 L175.6,204.45 L176.2,204.52 L176.8,204.59 L177.4,204.65 L178,204.71 L178.6,204.76 L179.2,204.81 L179.8,204.85 L180.4,204.89 L181,204.93 L181.6,204.96 L182.2,205 L182.8,205.02 L183.4,205.05 L184,205.08 L184.6,205.1 L185.2,205.12 L185.8,205.14 L186.4,205.16 L187,205.17 L187.6,205.19 L188.2,205.2 L188.8,205.21 L189.4,205.23 L190,205.24 L190.6,205.25 L191.2,205.25 L191.8,205.26 L192.4,205.27 L193,205.28 L193.6,205.28 L194.2,205.29 L194.8,205.29 L195.4,205.3 L196,205.3 L196.6,205.31 L197.2,205.31 L197.8,205.32 L198.4,205.32 L199,205.32 L199.6,205.32 L200.2,205.33 L200.8,205.33 L201.4,205.33 L202,205.33 L202.6,205.34 L203.2,205.34 L203.8,205.34 L204.4,205.34 L205,205.34 L205.6,205.34 L206.2,205.34 L206.8,205.34 L207.4,205.35 L208,205.35 L208.6,205.35 L209.2,205.35 L209.8,205.35 L210.4,205.35 L211,205.35 L211.6,205.35 L212.2,205.35 L212.8,205.35 L213.4,205.35 L214,205.35 L214.6,205.35 L215.2,205.35 L215.8,205.35 L216.4,205.35 L217,205.35 L217.6,205.35 L218.2,205.35 L218.8,205.35" fill="none" stroke="#38588b" stroke-width="1.15" stroke-linejoin="round" />
<path d="M43,205.4 L43.6,205.4 L44.2,205.4 L44.8,205.4 L45.4,205.4 L46,205.4 L46.6,205.4 L47.2,205.4 L47.8,205.4 L48.4,205.4 L49,205.4 L49.6,205.4 L50.2,205.4 L50.8,205.4 L51.4,205.4 L52,205.4 L52.6,205.4 L53.2,205.4 L53.8,205.4 L54.4,205.4 L55,205.4 L55.6,205.4 L56.2,205.4 L56.8,205.4 L57.4,205.4 L58,205.4 L58.6,205.4 L59.2,205.4 L59.8,205.4 L60.4,205.4 L61,205.4 L61.6,205.4 L62.2,205.4 L62.8,205.4 L63.4,205.4 L64,205.4 L64.6,205.4 L65.2,205.4 L65.8,205.4 L66.4,205.39 L67,205.39 L67.6,205.39 L68.2,205.39 L68.8,205.39 L69.4,205.39 L70,205.39 L70.6,205.39 L71.2,205.39 L71.8,205.39 L72.4,205.39 L73,205.39 L73.6,205.39 L74.2,205.38 L74.8,205.38 L75.4,205.38 L76,205.38 L76.6,205.38 L77.2,205.38 L77.8,205.37 L78.4,205.37 L79,205.37 L79.6,205.37 L80.2,205.36 L80.8,205.36 L81.4,205.35 L82,205.35 L82.6,205.35 L83.2,205.34 L83.8,205.33 L84.4,205.33 L85,205.32 L85.6,205.31 L86.2,205.31 L86.8,205.3 L87.4,205.29 L88,205.28 L88.6,205.27 L89.2,205.25 L89.8,205.24 L90.4,205.22 L91,205.21 L91.6,205.19 L92.2,205.17 L92.8,205.15 L93.4,205.13 L94,205.1 L94.6,205.07 L95.2,205.04 L95.8,205.01 L96.4,204.97 L97,204.93 L97.6,204.89 L98.2,204.84 L98.8,204.79 L99.4,204.73 L100,204.67 L100.6,204.61 L101.2,204.53 L101.8,204.46 L102.4,204.37 L103,204.28 L103.6,204.17 L104.2,204.06 L104.8,203.94 L105.4,203.81 L106,203.66 L106.6,203.51 L107.2,203.34 L107.8,203.15 L108.4,202.95 L109,202.73 L109.6,202.49 L110.2,202.23 L110.8,201.94 L111.4,201.64 L112,201.3 L112.6,200.94 L113.2,200.54 L113.8,200.11 L114.4,199.65 L115,199.14 L115.6,198.59 L116.2,197.99 L116.8,197.35 L117.4,196.65 L118,195.89 L118.6,195.07 L119.2,194.18 L119.8,193.21 L120.4,192.17 L121,191.05 L121.6,189.83 L122.2,188.53 L122.8,187.12 L123.4,185.6 L124,183.98 L124.6,182.23 L125.2,180.37 L125.8,178.38 L126.4,176.27 L127,174.03 L127.6,171.66 L128.2,169.17 L128.8,166.57 L129.4,163.87 L130,161.07 L130.6,158.22 L131.2,155.32 L131.8,152.43 L132.4,149.57 L133,146.79 L133.6,144.15 L134.2,141.7 L134.8,139.5 L135.4,137.6 L136,136.06 L136.6,134.93 L137.2,134.23 L137.8,134 L138.4,134.2 L139,134.81 L139.6,135.8 L140.2,137.15 L140.8,138.82 L141.4,140.78 L142,142.97 L142.6,145.35 L143.2,147.88 L143.8,150.51 L144.4,153.2 L145,155.91 L145.6,158.61 L146.2,161.28 L146.8,163.89 L147.4,166.43 L148,168.87 L148.6,171.22 L149.2,173.47 L149.8,175.6 L150.4,177.62 L151,179.53 L151.6,181.33 L152.2,183.03 L152.8,184.61 L153.4,186.1 L154,187.49 L154.6,188.79 L155.2,190 L155.8,191.13 L156.4,192.18 L157,193.16 L157.6,194.06 L158.2,194.91 L158.8,195.69 L159.4,196.42 L160,197.09 L160.6,197.71 L161.2,198.29 L161.8,198.83 L162.4,199.33 L163,199.79 L163.6,200.21 L164.2,200.61 L164.8,200.97 L165.4,201.31 L166,201.62 L166.6,201.91 L167.2,202.18 L167.8,202.42 L168.4,202.65 L169,202.86 L169.6,203.06 L170.2,203.24 L170.8,203.4 L171.4,203.56 L172,203.7 L172.6,203.83 L173.2,203.95 L173.8,204.06 L174.4,204.17 L175,204.26 L175.6,204.35 L176.2,204.43 L176.8,204.51 L177.4,204.58 L178,204.64 L178.6,204.7 L179.2,204.76 L179.8,204.81 L180.4,204.85 L181,204.89 L181.6,204.93 L182.2,204.97 L182.8,205 L183.4,205.04 L184,205.06 L184.6,205.09 L185.2,205.11 L185.8,205.14 L186.4,205.16 L187,205.18 L187.6,205.19 L188.2,205.21 L188.8,205.23 L189.4,205.24 L190,205.25 L190.6,205.26 L191.2,205.27 L191.8,205.28 L192.4,205.29 L193,205.3 L193.6,205.31 L194.2,205.32 L194.8,205.32 L195.4,205.33 L196,205.33 L196.6,205.34 L197.2,205.34 L197.8,205.35 L198.4,205.35 L199,205.36 L199.6,205.36 L200.2,205.36 L200.8,205.37 L201.4,205.37 L202,205.37 L202.6,205.37 L203.2,205.38 L203.8,205.38 L204.4,205.38 L205,205.38 L205.6,205.38 L206.2,205.38 L206.8,205.38 L207.4,205.39 L208,205.39 L208.6,205.39 L209.2,205.39 L209.8,205.39 L210.4,205.39 L211,205.39 L211.6,205.39 L212.2,205.39 L212.8,205.39 L213.4,205.39 L214,205.39 L214.6,205.39 L215.2,205.39 L215.8,205.4 L216.4,205.4 L217,205.4 L217.6,205.4 L218.2,205.4 L218.8,205.4" fill="none" stroke="#2e6f8e" stroke-width="1.15" stroke-linejoin="round" />
<path d="M43,205.45 L43.6,205.45 L44.2,205.45 L44.8,205.45 L45.4,205.45 L46,205.45 L46.6,205.45 L47.2,205.45 L47.8,205.45 L48.4,205.45 L49,205.45 L49.6,205.45 L50.2,205.45 L50.8,205.45 L51.4,205.45 L52,205.45 L52.6,205.45 L53.2,205.45 L53.8,205.45 L54.4,205.45 L55,205.45 L55.6,205.45 L56.2,205.45 L56.8,205.45 L57.4,205.45 L58,205.45 L58.6,205.45 L59.2,205.45 L59.8,205.45 L60.4,205.45 L61,205.45 L61.6,205.45 L62.2,205.45 L62.8,205.45 L63.4,205.45 L64,205.45 L64.6,205.45 L65.2,205.45 L65.8,205.45 L66.4,205.45 L67,205.45 L67.6,205.45 L68.2,205.45 L68.8,205.45 L69.4,205.45 L70,205.44 L70.6,205.44 L71.2,205.44 L71.8,205.44 L72.4,205.44 L73,205.44 L73.6,205.44 L74.2,205.44 L74.8,205.43 L75.4,205.43 L76,205.43 L76.6,205.43 L77.2,205.42 L77.8,205.42 L78.4,205.42 L79,205.41 L79.6,205.41 L80.2,205.41 L80.8,205.4 L81.4,205.4 L82,205.39 L82.6,205.38 L83.2,205.38 L83.8,205.37 L84.4,205.36 L85,205.35 L85.6,205.34 L86.2,205.33 L86.8,205.32 L87.4,205.31 L88,205.29 L88.6,205.28 L89.2,205.26 L89.8,205.24 L90.4,205.22 L91,205.2 L91.6,205.18 L92.2,205.15 L92.8,205.13 L93.4,205.1 L94,205.06 L94.6,205.03 L95.2,204.99 L95.8,204.95 L96.4,204.9 L97,204.85 L97.6,204.79 L98.2,204.74 L98.8,204.67 L99.4,204.6 L100,204.52 L100.6,204.44 L101.2,204.35 L101.8,204.25 L102.4,204.15 L103,204.03 L103.6,203.91 L104.2,203.77 L104.8,203.62 L105.4,203.47 L106,203.29 L106.6,203.11 L107.2,202.9 L107.8,202.68 L108.4,202.44 L109,202.19 L109.6,201.91 L110.2,201.61 L110.8,201.28 L111.4,200.93 L112,200.54 L112.6,200.13 L113.2,199.69 L113.8,199.2 L114.4,198.69 L115,198.12 L115.6,197.52 L116.2,196.87 L116.8,196.17 L117.4,195.41 L118,194.6 L118.6,193.72 L119.2,192.78 L119.8,191.77 L120.4,190.69 L121,189.52 L121.6,188.28 L122.2,186.95 L122.8,185.53 L123.4,184.02 L124,182.41 L124.6,180.7 L125.2,178.89 L125.8,176.99 L126.4,174.98 L127,172.88 L127.6,170.68 L128.2,168.4 L128.8,166.05 L129.4,163.65 L130,161.2 L130.6,158.74 L131.2,156.3 L131.8,153.89 L132.4,151.57 L133,149.37 L133.6,147.34 L134.2,145.51 L134.8,143.93 L135.4,142.64 L136,141.67 L136.6,141.05 L137.2,140.81 L137.8,140.91 L138.4,141.34 L139,142.08 L139.6,143.12 L140.2,144.42 L140.8,145.97 L141.4,147.72 L142,149.64 L142.6,151.71 L143.2,153.88 L143.8,156.12 L144.4,158.41 L145,160.71 L145.6,163 L146.2,165.27 L146.8,167.49 L147.4,169.66 L148,171.76 L148.6,173.78 L149.2,175.72 L149.8,177.57 L150.4,179.34 L151,181.02 L151.6,182.61 L152.2,184.11 L152.8,185.53 L153.4,186.86 L154,188.12 L154.6,189.3 L155.2,190.4 L155.8,191.44 L156.4,192.41 L157,193.31 L157.6,194.16 L158.2,194.95 L158.8,195.69 L159.4,196.38 L160,197.03 L160.6,197.62 L161.2,198.18 L161.8,198.7 L162.4,199.19 L163,199.64 L163.6,200.06 L164.2,200.45 L164.8,200.81 L165.4,201.15 L166,201.46 L166.6,201.75 L167.2,202.02 L167.8,202.27 L168.4,202.5 L169,202.72 L169.6,202.92 L170.2,203.11 L170.8,203.28 L171.4,203.44 L172,203.59 L172.6,203.73 L173.2,203.86 L173.8,203.98 L174.4,204.09 L175,204.19 L175.6,204.28 L176.2,204.37 L176.8,204.45 L177.4,204.53 L178,204.6 L178.6,204.66 L179.2,204.72 L179.8,204.78 L180.4,204.83 L181,204.87 L181.6,204.92 L182.2,204.96 L182.8,205 L183.4,205.03 L184,205.06 L184.6,205.09 L185.2,205.12 L185.8,205.15 L186.4,205.17 L187,205.19 L187.6,205.21 L188.2,205.23 L188.8,205.25 L189.4,205.26 L190,205.28 L190.6,205.29 L191.2,205.31 L191.8,205.32 L192.4,205.33 L193,205.34 L193.6,205.35 L194.2,205.36 L194.8,205.36 L195.4,205.37 L196,205.38 L196.6,205.38 L197.2,205.39 L197.8,205.39 L198.4,205.4 L199,205.4 L199.6,205.41 L200.2,205.41 L200.8,205.41 L201.4,205.42 L202,205.42 L202.6,205.42 L203.2,205.43 L203.8,205.43 L204.4,205.43 L205,205.43 L205.6,205.43 L206.2,205.44 L206.8,205.44 L207.4,205.44 L208,205.44 L208.6,205.44 L209.2,205.44 L209.8,205.44 L210.4,205.44 L211,205.45 L211.6,205.45 L212.2,205.45 L212.8,205.45 L213.4,205.45 L214,205.45 L214.6,205.45 L215.2,205.45 L215.8,205.45 L216.4,205.45 L217,205.45 L217.6,205.45 L218.2,205.45 L218.8,205.45" fill="none" stroke="#25858e" stroke-width="1.15" stroke-linejoin="round" />
<path d="M43,205.52 L43.6,205.52 L44.2,205.52 L44.8,205.52 L45.4,205.52 L46,205.52 L46.6,205.52 L47.2,205.52 L47.8,205.52 L48.4,205.52 L49,205.52 L49.6,205.52 L50.2,205.52 L50.8,205.52 L51.4,205.52 L52,205.52 L52.6,205.52 L53.2,205.52 L53.8,205.52 L54.4,205.52 L55,205.52 L55.6,205.52 L56.2,205.52 L56.8,205.52 L57.4,205.52 L58,205.52 L58.6,205.52 L59.2,205.52 L59.8,205.52 L60.4,205.52 L61,205.52 L61.6,205.52 L62.2,205.52 L62.8,205.52 L63.4,205.52 L64,205.52 L64.6,205.52 L65.2,205.52 L65.8,205.52 L66.4,205.52 L67,205.51 L67.6,205.51 L68.2,205.51 L68.8,205.51 L69.4,205.51 L70,205.51 L70.6,205.51 L71.2,205.51 L71.8,205.5 L72.4,205.5 L73,205.5 L73.6,205.5 L74.2,205.5 L74.8,205.49 L75.4,205.49 L76,205.49 L76.6,205.48 L77.2,205.48 L77.8,205.47 L78.4,205.47 L79,205.46 L79.6,205.46 L80.2,205.45 L80.8,205.44 L81.4,205.44 L82,205.43 L82.6,205.42 L83.2,205.41 L83.8,205.4 L84.4,205.38 L85,205.37 L85.6,205.36 L86.2,205.34 L86.8,205.32 L87.4,205.31 L88,205.29 L88.6,205.26 L89.2,205.24 L89.8,205.21 L90.4,205.18 L91,205.15 L91.6,205.12 L92.2,205.08 L92.8,205.04 L93.4,205 L94,204.95 L94.6,204.9 L95.2,204.85 L95.8,204.79 L96.4,204.72 L97,204.65 L97.6,204.58 L98.2,204.5 L98.8,204.41 L99.4,204.31 L100,204.2 L100.6,204.09 L101.2,203.97 L101.8,203.84 L102.4,203.7 L103,203.54 L103.6,203.38 L104.2,203.2 L104.8,203 L105.4,202.79 L106,202.57 L106.6,202.33 L107.2,202.07 L107.8,201.79 L108.4,201.48 L109,201.16 L109.6,200.81 L110.2,200.44 L110.8,200.03 L111.4,199.6 L112,199.14 L112.6,198.64 L113.2,198.1 L113.8,197.53 L114.4,196.92 L115,196.27 L115.6,195.56 L116.2,194.82 L116.8,194.02 L117.4,193.16 L118,192.26 L118.6,191.29 L119.2,190.26 L119.8,189.16 L120.4,188 L121,186.77 L121.6,185.47 L122.2,184.1 L122.8,182.65 L123.4,181.13 L124,179.54 L124.6,177.87 L125.2,176.13 L125.8,174.33 L126.4,172.47 L127,170.56 L127.6,168.6 L128.2,166.62 L128.8,164.63 L129.4,162.64 L130,160.67 L130.6,158.76 L131.2,156.93 L131.8,155.2 L132.4,153.6 L133,152.18 L133.6,150.94 L134.2,149.93 L134.8,149.16 L135.4,148.65 L136,148.42 L136.6,148.45 L137.2,148.74 L137.8,149.26 L138.4,150.01 L139,150.98 L139.6,152.14 L140.2,153.46 L140.8,154.94 L141.4,156.55 L142,158.25 L142.6,160.03 L143.2,161.86 L143.8,163.73 L144.4,165.61 L145,167.49 L145.6,169.35 L146.2,171.19 L146.8,172.99 L147.4,174.73 L148,176.43 L148.6,178.06 L149.2,179.64 L149.8,181.14 L150.4,182.59 L151,183.96 L151.6,185.27 L152.2,186.51 L152.8,187.69 L153.4,188.81 L154,189.86 L154.6,190.86 L155.2,191.8 L155.8,192.68 L156.4,193.51 L157,194.3 L157.6,195.03 L158.2,195.72 L158.8,196.37 L159.4,196.98 L160,197.55 L160.6,198.08 L161.2,198.58 L161.8,199.05 L162.4,199.49 L163,199.9 L163.6,200.29 L164.2,200.64 L164.8,200.98 L165.4,201.29 L166,201.58 L166.6,201.86 L167.2,202.11 L167.8,202.35 L168.4,202.57 L169,202.78 L169.6,202.97 L170.2,203.15 L170.8,203.32 L171.4,203.48 L172,203.62 L172.6,203.76 L173.2,203.88 L173.8,204 L174.4,204.11 L175,204.21 L175.6,204.31 L176.2,204.39 L176.8,204.48 L177.4,204.55 L178,204.62 L178.6,204.69 L179.2,204.75 L179.8,204.81 L180.4,204.86 L181,204.91 L181.6,204.95 L182.2,205 L182.8,205.03 L183.4,205.07 L184,205.1 L184.6,205.14 L185.2,205.16 L185.8,205.19 L186.4,205.22 L187,205.24 L187.6,205.26 L188.2,205.28 L188.8,205.3 L189.4,205.32 L190,205.33 L190.6,205.35 L191.2,205.36 L191.8,205.37 L192.4,205.38 L193,205.4 L193.6,205.41 L194.2,205.41 L194.8,205.42 L195.4,205.43 L196,205.44 L196.6,205.44 L197.2,205.45 L197.8,205.46 L198.4,205.46 L199,205.47 L199.6,205.47 L200.2,205.47 L200.8,205.48 L201.4,205.48 L202,205.49 L202.6,205.49 L203.2,205.49 L203.8,205.49 L204.4,205.5 L205,205.5 L205.6,205.5 L206.2,205.5 L206.8,205.5 L207.4,205.51 L208,205.51 L208.6,205.51 L209.2,205.51 L209.8,205.51 L210.4,205.51 L211,205.51 L211.6,205.51 L212.2,205.51 L212.8,205.51 L213.4,205.52 L214,205.52 L214.6,205.52 L215.2,205.52 L215.8,205.52 L216.4,205.52 L217,205.52 L217.6,205.52 L218.2,205.52 L218.8,205.52" fill="none" stroke="#209b89" stroke-width="1.15" stroke-linejoin="round" />
<path d="M43,205.6 L43.6,205.6 L44.2,205.6 L44.8,205.6 L45.4,205.6 L46,205.6 L46.6,205.6 L47.2,205.6 L47.8,205.6 L48.4,205.6 L49,205.6 L49.6,205.6 L50.2,205.6 L50.8,205.6 L51.4,205.6 L52,205.6 L52.6,205.6 L53.2,205.6 L53.8,205.6 L54.4,205.6 L55,205.6 L55.6,205.6 L56.2,205.6 L56.8,205.6 L57.4,205.6 L58,205.6 L58.6,205.6 L59.2,205.6 L59.8,205.6 L60.4,205.6 L61,205.6 L61.6,205.6 L62.2,205.6 L62.8,205.6 L63.4,205.6 L64,205.6 L64.6,205.6 L65.2,205.6 L65.8,205.59 L66.4,205.59 L67,205.59 L67.6,205.59 L68.2,205.59 L68.8,205.59 L69.4,205.59 L70,205.58 L70.6,205.58 L71.2,205.58 L71.8,205.58 L72.4,205.57 L73,205.57 L73.6,205.57 L74.2,205.56 L74.8,205.56 L75.4,205.55 L76,205.55 L76.6,205.54 L77.2,205.54 L77.8,205.53 L78.4,205.52 L79,205.52 L79.6,205.51 L80.2,205.5 L80.8,205.49 L81.4,205.47 L82,205.46 L82.6,205.45 L83.2,205.43 L83.8,205.42 L84.4,205.4 L85,205.38 L85.6,205.36 L86.2,205.33 L86.8,205.31 L87.4,205.28 L88,205.25 L88.6,205.22 L89.2,205.18 L89.8,205.14 L90.4,205.1 L91,205.05 L91.6,205 L92.2,204.95 L92.8,204.89 L93.4,204.83 L94,204.76 L94.6,204.69 L95.2,204.61 L95.8,204.52 L96.4,204.43 L97,204.33 L97.6,204.22 L98.2,204.1 L98.8,203.97 L99.4,203.84 L100,203.69 L100.6,203.54 L101.2,203.37 L101.8,203.19 L102.4,202.99 L103,202.78 L103.6,202.56 L104.2,202.32 L104.8,202.06 L105.4,201.78 L106,201.49 L106.6,201.17 L107.2,200.83 L107.8,200.47 L108.4,200.09 L109,199.68 L109.6,199.24 L110.2,198.77 L110.8,198.28 L111.4,197.75 L112,197.19 L112.6,196.59 L113.2,195.96 L113.8,195.29 L114.4,194.57 L115,193.82 L115.6,193.02 L116.2,192.18 L116.8,191.29 L117.4,190.36 L118,189.37 L118.6,188.34 L119.2,187.25 L119.8,186.11 L120.4,184.92 L121,183.68 L121.6,182.39 L122.2,181.05 L122.8,179.66 L123.4,178.23 L124,176.75 L124.6,175.25 L125.2,173.72 L125.8,172.16 L126.4,170.6 L127,169.04 L127.6,167.49 L128.2,165.96 L128.8,164.49 L129.4,163.07 L130,161.73 L130.6,160.49 L131.2,159.37 L131.8,158.38 L132.4,157.55 L133,156.88 L133.6,156.39 L134.2,156.1 L134.8,156 L135.4,156.09 L136,156.36 L136.6,156.8 L137.2,157.4 L137.8,158.16 L138.4,159.06 L139,160.09 L139.6,161.24 L140.2,162.48 L140.8,163.8 L141.4,165.19 L142,166.62 L142.6,168.09 L143.2,169.59 L143.8,171.09 L144.4,172.59 L145,174.08 L145.6,175.55 L146.2,176.99 L146.8,178.4 L147.4,179.78 L148,181.11 L148.6,182.4 L149.2,183.64 L149.8,184.83 L150.4,185.98 L151,187.08 L151.6,188.13 L152.2,189.13 L152.8,190.08 L153.4,190.99 L154,191.85 L154.6,192.67 L155.2,193.45 L155.8,194.18 L156.4,194.88 L157,195.53 L157.6,196.16 L158.2,196.74 L158.8,197.3 L159.4,197.82 L160,198.31 L160.6,198.77 L161.2,199.21 L161.8,199.62 L162.4,200.01 L163,200.37 L163.6,200.71 L164.2,201.03 L164.8,201.33 L165.4,201.61 L166,201.88 L166.6,202.12 L167.2,202.36 L167.8,202.58 L168.4,202.78 L169,202.97 L169.6,203.15 L170.2,203.32 L170.8,203.47 L171.4,203.62 L172,203.76 L172.6,203.88 L173.2,204 L173.8,204.12 L174.4,204.22 L175,204.32 L175.6,204.41 L176.2,204.49 L176.8,204.57 L177.4,204.65 L178,204.71 L178.6,204.78 L179.2,204.84 L179.8,204.89 L180.4,204.94 L181,204.99 L181.6,205.04 L182.2,205.08 L182.8,205.12 L183.4,205.15 L184,205.19 L184.6,205.22 L185.2,205.25 L185.8,205.27 L186.4,205.3 L187,205.32 L187.6,205.34 L188.2,205.36 L188.8,205.38 L189.4,205.4 L190,205.41 L190.6,205.43 L191.2,205.44 L191.8,205.45 L192.4,205.47 L193,205.48 L193.6,205.49 L194.2,205.5 L194.8,205.5 L195.4,205.51 L196,205.52 L196.6,205.53 L197.2,205.53 L197.8,205.54 L198.4,205.54 L199,205.55 L199.6,205.55 L200.2,205.56 L200.8,205.56 L201.4,205.56 L202,205.57 L202.6,205.57 L203.2,205.57 L203.8,205.58 L204.4,205.58 L205,205.58 L205.6,205.58 L206.2,205.58 L206.8,205.59 L207.4,205.59 L208,205.59 L208.6,205.59 L209.2,205.59 L209.8,205.59 L210.4,205.59 L211,205.59 L211.6,205.59 L212.2,205.6 L212.8,205.6 L213.4,205.6 L214,205.6 L214.6,205.6 L215.2,205.6 L215.8,205.6 L216.4,205.6 L217,205.6 L217.6,205.6 L218.2,205.6 L218.8,205.6" fill="none" stroke="#2fb07d" stroke-width="1.15" stroke-linejoin="round" />
<path d="M43,205.7 L43.6,205.7 L44.2,205.7 L44.8,205.7 L45.4,205.7 L46,205.7 L46.6,205.7 L47.2,205.7 L47.8,205.7 L48.4,205.7 L49,205.7 L49.6,205.7 L50.2,205.7 L50.8,205.7 L51.4,205.7 L52,205.7 L52.6,205.7 L53.2,205.7 L53.8,205.7 L54.4,205.7 L55,205.7 L55.6,205.7 L56.2,205.69 L56.8,205.69 L57.4,205.69 L58,205.69 L58.6,205.69 L59.2,205.69 L59.8,205.69 L60.4,205.69 L61,205.69 L61.6,205.69 L62.2,205.69 L62.8,205.69 L63.4,205.69 L64,205.69 L64.6,205.69 L65.2,205.69 L65.8,205.68 L66.4,205.68 L67,205.68 L67.6,205.68 L68.2,205.68 L68.8,205.68 L69.4,205.67 L70,205.67 L70.6,205.67 L71.2,205.66 L71.8,205.66 L72.4,205.66 L73,205.65 L73.6,205.65 L74.2,205.64 L74.8,205.64 L75.4,205.63 L76,205.62 L76.6,205.61 L77.2,205.6 L77.8,205.59 L78.4,205.58 L79,205.57 L79.6,205.56 L80.2,205.54 L80.8,205.53 L81.4,205.51 L82,205.49 L82.6,205.47 L83.2,205.45 L83.8,205.42 L84.4,205.4 L85,205.37 L85.6,205.34 L86.2,205.3 L86.8,205.26 L87.4,205.22 L88,205.18 L88.6,205.13 L89.2,205.07 L89.8,205.02 L90.4,204.95 L91,204.89 L91.6,204.81 L92.2,204.74 L92.8,204.65 L93.4,204.56 L94,204.46 L94.6,204.35 L95.2,204.24 L95.8,204.11 L96.4,203.98 L97,203.84 L97.6,203.69 L98.2,203.52 L98.8,203.34 L99.4,203.16 L100,202.95 L100.6,202.74 L101.2,202.51 L101.8,202.26 L102.4,202 L103,201.72 L103.6,201.42 L104.2,201.1 L104.8,200.77 L105.4,200.41 L106,200.03 L106.6,199.63 L107.2,199.2 L107.8,198.75 L108.4,198.27 L109,197.77 L109.6,197.24 L110.2,196.67 L110.8,196.08 L111.4,195.46 L112,194.81 L112.6,194.12 L113.2,193.41 L113.8,192.65 L114.4,191.87 L115,191.05 L115.6,190.19 L116.2,189.3 L116.8,188.37 L117.4,187.42 L118,186.42 L118.6,185.4 L119.2,184.34 L119.8,183.25 L120.4,182.14 L121,181 L121.6,179.85 L122.2,178.67 L122.8,177.49 L123.4,176.3 L124,175.11 L124.6,173.93 L125.2,172.76 L125.8,171.62 L126.4,170.52 L127,169.46 L127.6,168.45 L128.2,167.51 L128.8,166.65 L129.4,165.88 L130,165.2 L130.6,164.64 L131.2,164.19 L131.8,163.86 L132.4,163.67 L133,163.6 L133.6,163.66 L134.2,163.85 L134.8,164.16 L135.4,164.59 L136,165.13 L136.6,165.78 L137.2,166.52 L137.8,167.35 L138.4,168.25 L139,169.23 L139.6,170.25 L140.2,171.33 L140.8,172.44 L141.4,173.58 L142,174.74 L142.6,175.91 L143.2,177.08 L143.8,178.25 L144.4,179.4 L145,180.55 L145.6,181.67 L146.2,182.77 L146.8,183.85 L147.4,184.9 L148,185.91 L148.6,186.9 L149.2,187.85 L149.8,188.77 L150.4,189.65 L151,190.5 L151.6,191.31 L152.2,192.09 L152.8,192.84 L153.4,193.55 L154,194.23 L154.6,194.88 L155.2,195.5 L155.8,196.09 L156.4,196.64 L157,197.17 L157.6,197.68 L158.2,198.16 L158.8,198.61 L159.4,199.04 L160,199.44 L160.6,199.82 L161.2,200.19 L161.8,200.53 L162.4,200.85 L163,201.16 L163.6,201.44 L164.2,201.72 L164.8,201.97 L165.4,202.21 L166,202.44 L166.6,202.65 L167.2,202.85 L167.8,203.04 L168.4,203.22 L169,203.38 L169.6,203.54 L170.2,203.68 L170.8,203.82 L171.4,203.95 L172,204.07 L172.6,204.18 L173.2,204.29 L173.8,204.38 L174.4,204.48 L175,204.56 L175.6,204.64 L176.2,204.72 L176.8,204.79 L177.4,204.85 L178,204.91 L178.6,204.97 L179.2,205.02 L179.8,205.07 L180.4,205.12 L181,205.16 L181.6,205.2 L182.2,205.24 L182.8,205.27 L183.4,205.3 L184,205.33 L184.6,205.36 L185.2,205.39 L185.8,205.41 L186.4,205.43 L187,205.45 L187.6,205.47 L188.2,205.49 L188.8,205.51 L189.4,205.52 L190,205.54 L190.6,205.55 L191.2,205.56 L191.8,205.57 L192.4,205.58 L193,205.59 L193.6,205.6 L194.2,205.61 L194.8,205.61 L195.4,205.62 L196,205.63 L196.6,205.63 L197.2,205.64 L197.8,205.64 L198.4,205.65 L199,205.65 L199.6,205.66 L200.2,205.66 L200.8,205.66 L201.4,205.67 L202,205.67 L202.6,205.67 L203.2,205.67 L203.8,205.67 L204.4,205.68 L205,205.68 L205.6,205.68 L206.2,205.68 L206.8,205.68 L207.4,205.68 L208,205.69 L208.6,205.69 L209.2,205.69 L209.8,205.69 L210.4,205.69 L211,205.69 L211.6,205.69 L212.2,205.69 L212.8,205.69 L213.4,205.69 L214,205.69 L214.6,205.69 L215.2,205.69 L215.8,205.69 L216.4,205.69 L217,205.69 L217.6,205.69 L218.2,205.69 L218.8,205.69" fill="none" stroke="#54c467" stroke-width="1.15" stroke-linejoin="round" />
<path d="M43,205.8 L43.6,205.8 L44.2,205.8 L44.8,205.8 L45.4,205.8 L46,205.8 L46.6,205.8 L47.2,205.8 L47.8,205.8 L48.4,205.8 L49,205.8 L49.6,205.8 L50.2,205.8 L50.8,205.8 L51.4,205.8 L52,205.8 L52.6,205.8 L53.2,205.8 L53.8,205.8 L54.4,205.8 L55,205.8 L55.6,205.8 L56.2,205.8 L56.8,205.8 L57.4,205.8 L58,205.8 L58.6,205.8 L59.2,205.8 L59.8,205.8 L60.4,205.8 L61,205.8 L61.6,205.8 L62.2,205.8 L62.8,205.8 L63.4,205.79 L64,205.79 L64.6,205.79 L65.2,205.79 L65.8,205.79 L66.4,205.79 L67,205.79 L67.6,205.78 L68.2,205.78 L68.8,205.78 L69.4,205.77 L70,205.77 L70.6,205.77 L71.2,205.76 L71.8,205.76 L72.4,205.75 L73,205.75 L73.6,205.74 L74.2,205.73 L74.8,205.72 L75.4,205.71 L76,205.7 L76.6,205.69 L77.2,205.68 L77.8,205.67 L78.4,205.65 L79,205.63 L79.6,205.62 L80.2,205.6 L80.8,205.57 L81.4,205.55 L82,205.52 L82.6,205.49 L83.2,205.46 L83.8,205.42 L84.4,205.39 L85,205.34 L85.6,205.3 L86.2,205.25 L86.8,205.19 L87.4,205.13 L88,205.07 L88.6,205 L89.2,204.92 L89.8,204.84 L90.4,204.75 L91,204.65 L91.6,204.55 L92.2,204.44 L92.8,204.32 L93.4,204.19 L94,204.05 L94.6,203.9 L95.2,203.74 L95.8,203.57 L96.4,203.38 L97,203.18 L97.6,202.97 L98.2,202.75 L98.8,202.51 L99.4,202.26 L100,201.99 L100.6,201.7 L101.2,201.4 L101.8,201.07 L102.4,200.73 L103,200.37 L103.6,199.99 L104.2,199.59 L104.8,199.17 L105.4,198.73 L106,198.26 L106.6,197.77 L107.2,197.26 L107.8,196.72 L108.4,196.16 L109,195.57 L109.6,194.96 L110.2,194.33 L110.8,193.67 L111.4,192.99 L112,192.28 L112.6,191.55 L113.2,190.8 L113.8,190.02 L114.4,189.22 L115,188.4 L115.6,187.57 L116.2,186.71 L116.8,185.84 L117.4,184.96 L118,184.06 L118.6,183.16 L119.2,182.25 L119.8,181.35 L120.4,180.44 L121,179.54 L121.6,178.65 L122.2,177.78 L122.8,176.93 L123.4,176.11 L124,175.31 L124.6,174.56 L125.2,173.85 L125.8,173.2 L126.4,172.6 L127,172.06 L127.6,171.59 L128.2,171.19 L128.8,170.87 L129.4,170.63 L130,170.48 L130.6,170.4 L131.2,170.42 L131.8,170.52 L132.4,170.71 L133,170.98 L133.6,171.34 L134.2,171.77 L134.8,172.28 L135.4,172.85 L136,173.48 L136.6,174.17 L137.2,174.91 L137.8,175.69 L138.4,176.51 L139,177.35 L139.6,178.22 L140.2,179.11 L140.8,180.01 L141.4,180.92 L142,181.83 L142.6,182.74 L143.2,183.65 L143.8,184.54 L144.4,185.43 L145,186.3 L145.6,187.15 L146.2,187.99 L146.8,188.8 L147.4,189.59 L148,190.36 L148.6,191.11 L149.2,191.83 L149.8,192.53 L150.4,193.2 L151,193.85 L151.6,194.47 L152.2,195.07 L152.8,195.64 L153.4,196.19 L154,196.72 L154.6,197.22 L155.2,197.7 L155.8,198.16 L156.4,198.6 L157,199.01 L157.6,199.41 L158.2,199.79 L158.8,200.14 L159.4,200.48 L160,200.81 L160.6,201.11 L161.2,201.4 L161.8,201.67 L162.4,201.93 L163,202.18 L163.6,202.41 L164.2,202.63 L164.8,202.83 L165.4,203.03 L166,203.21 L166.6,203.38 L167.2,203.54 L167.8,203.69 L168.4,203.84 L169,203.97 L169.6,204.1 L170.2,204.21 L170.8,204.33 L171.4,204.43 L172,204.53 L172.6,204.62 L173.2,204.7 L173.8,204.78 L174.4,204.86 L175,204.92 L175.6,204.99 L176.2,205.05 L176.8,205.11 L177.4,205.16 L178,205.21 L178.6,205.25 L179.2,205.29 L179.8,205.33 L180.4,205.37 L181,205.4 L181.6,205.43 L182.2,205.46 L182.8,205.49 L183.4,205.51 L184,205.54 L184.6,205.56 L185.2,205.58 L185.8,205.6 L186.4,205.61 L187,205.63 L187.6,205.64 L188.2,205.66 L188.8,205.67 L189.4,205.68 L190,205.69 L190.6,205.7 L191.2,205.71 L191.8,205.72 L192.4,205.72 L193,205.73 L193.6,205.74 L194.2,205.74 L194.8,205.75 L195.4,205.75 L196,205.76 L196.6,205.76 L197.2,205.77 L197.8,205.77 L198.4,205.77 L199,205.77 L199.6,205.78 L200.2,205.78 L200.8,205.78 L201.4,205.78 L202,205.79 L202.6,205.79 L203.2,205.79 L203.8,205.79 L204.4,205.79 L205,205.79 L205.6,205.79 L206.2,205.79 L206.8,205.79 L207.4,205.8 L208,205.8 L208.6,205.8 L209.2,205.8 L209.8,205.8 L210.4,205.8 L211,205.8 L211.6,205.8 L212.2,205.8 L212.8,205.8 L213.4,205.8 L214,205.8 L214.6,205.8 L215.2,205.8 L215.8,205.8 L216.4,205.8 L217,205.8 L217.6,205.8 L218.2,205.8 L218.8,205.8" fill="none" stroke="#88d448" stroke-width="1.15" stroke-linejoin="round" />
<path d="M43,205.92 L43.6,205.92 L44.2,205.92 L44.8,205.92 L45.4,205.92 L46,205.92 L46.6,205.92 L47.2,205.92 L47.8,205.92 L48.4,205.92 L49,205.92 L49.6,205.92 L50.2,205.92 L50.8,205.92 L51.4,205.92 L52,205.92 L52.6,205.92 L53.2,205.92 L53.8,205.92 L54.4,205.92 L55,205.92 L55.6,205.92 L56.2,205.92 L56.8,205.92 L57.4,205.92 L58,205.92 L58.6,205.92 L59.2,205.92 L59.8,205.92 L60.4,205.92 L61,205.92 L61.6,205.91 L62.2,205.91 L62.8,205.91 L63.4,205.91 L64,205.91 L64.6,205.91 L65.2,205.91 L65.8,205.91 L66.4,205.9 L67,205.9 L67.6,205.9 L68.2,205.9 L68.8,205.89 L69.4,205.89 L70,205.88 L70.6,205.88 L71.2,205.87 L71.8,205.87 L72.4,205.86 L73,205.85 L73.6,205.85 L74.2,205.84 L74.8,205.82 L75.4,205.81 L76,205.8 L76.6,205.78 L77.2,205.77 L77.8,205.75 L78.4,205.73 L79,205.71 L79.6,205.68 L80.2,205.65 L80.8,205.62 L81.4,205.59 L82,205.55 L82.6,205.51 L83.2,205.46 L83.8,205.41 L84.4,205.36 L85,205.3 L85.6,205.24 L86.2,205.17 L86.8,205.09 L87.4,205.01 L88,204.92 L88.6,204.82 L89.2,204.71 L89.8,204.6 L90.4,204.47 L91,204.34 L91.6,204.2 L92.2,204.04 L92.8,203.88 L93.4,203.7 L94,203.51 L94.6,203.31 L95.2,203.09 L95.8,202.86 L96.4,202.61 L97,202.35 L97.6,202.08 L98.2,201.78 L98.8,201.47 L99.4,201.15 L100,200.8 L100.6,200.44 L101.2,200.06 L101.8,199.66 L102.4,199.24 L103,198.8 L103.6,198.34 L104.2,197.86 L104.8,197.37 L105.4,196.85 L106,196.32 L106.6,195.76 L107.2,195.19 L107.8,194.6 L108.4,194 L109,193.37 L109.6,192.74 L110.2,192.08 L110.8,191.42 L111.4,190.74 L112,190.06 L112.6,189.36 L113.2,188.66 L113.8,187.95 L114.4,187.24 L115,186.53 L115.6,185.82 L116.2,185.12 L116.8,184.42 L117.4,183.73 L118,183.05 L118.6,182.4 L119.2,181.76 L119.8,181.14 L120.4,180.54 L121,179.98 L121.6,179.45 L122.2,178.95 L122.8,178.49 L123.4,178.07 L124,177.7 L124.6,177.37 L125.2,177.1 L125.8,176.87 L126.4,176.7 L127,176.58 L127.6,176.51 L128.2,176.5 L128.8,176.55 L129.4,176.67 L130,176.84 L130.6,177.07 L131.2,177.36 L131.8,177.7 L132.4,178.09 L133,178.53 L133.6,179.02 L134.2,179.54 L134.8,180.1 L135.4,180.69 L136,181.31 L136.6,181.96 L137.2,182.63 L137.8,183.31 L138.4,184 L139,184.71 L139.6,185.42 L140.2,186.13 L140.8,186.84 L141.4,187.56 L142,188.26 L142.6,188.96 L143.2,189.65 L143.8,190.33 L144.4,191 L145,191.65 L145.6,192.29 L146.2,192.91 L146.8,193.52 L147.4,194.11 L148,194.68 L148.6,195.23 L149.2,195.77 L149.8,196.28 L150.4,196.78 L151,197.26 L151.6,197.72 L152.2,198.17 L152.8,198.59 L153.4,199 L154,199.39 L154.6,199.76 L155.2,200.12 L155.8,200.46 L156.4,200.78 L157,201.09 L157.6,201.38 L158.2,201.66 L158.8,201.92 L159.4,202.17 L160,202.41 L160.6,202.63 L161.2,202.85 L161.8,203.05 L162.4,203.24 L163,203.41 L163.6,203.58 L164.2,203.74 L164.8,203.89 L165.4,204.03 L166,204.16 L166.6,204.29 L167.2,204.4 L167.8,204.51 L168.4,204.61 L169,204.71 L169.6,204.8 L170.2,204.88 L170.8,204.96 L171.4,205.03 L172,205.1 L172.6,205.16 L173.2,205.22 L173.8,205.28 L174.4,205.33 L175,205.37 L175.6,205.42 L176.2,205.46 L176.8,205.5 L177.4,205.53 L178,205.56 L178.6,205.59 L179.2,205.62 L179.8,205.64 L180.4,205.67 L181,205.69 L181.6,205.71 L182.2,205.73 L182.8,205.74 L183.4,205.76 L184,205.77 L184.6,205.79 L185.2,205.8 L185.8,205.81 L186.4,205.82 L187,205.83 L187.6,205.84 L188.2,205.85 L188.8,205.85 L189.4,205.86 L190,205.86 L190.6,205.87 L191.2,205.87 L191.8,205.88 L192.4,205.88 L193,205.89 L193.6,205.89 L194.2,205.89 L194.8,205.9 L195.4,205.9 L196,205.9 L196.6,205.9 L197.2,205.9 L197.8,205.91 L198.4,205.91 L199,205.91 L199.6,205.91 L200.2,205.91 L200.8,205.91 L201.4,205.91 L202,205.91 L202.6,205.91 L203.2,205.91 L203.8,205.92 L204.4,205.92 L205,205.92 L205.6,205.92 L206.2,205.92 L206.8,205.92 L207.4,205.92 L208,205.92 L208.6,205.92 L209.2,205.92 L209.8,205.92 L210.4,205.92 L211,205.92 L211.6,205.92 L212.2,205.92 L212.8,205.92 L213.4,205.92 L214,205.92 L214.6,205.92 L215.2,205.92 L215.8,205.92 L216.4,205.92 L217,205.92 L217.6,205.92 L218.2,205.92 L218.8,205.92" fill="none" stroke="#c2e02a" stroke-width="1.15" stroke-linejoin="round" />
<path d="M43,206.05 L43.6,206.05 L44.2,206.05 L44.8,206.05 L45.4,206.05 L46,206.05 L46.6,206.05 L47.2,206.05 L47.8,206.05 L48.4,206.05 L49,206.05 L49.6,206.05 L50.2,206.05 L50.8,206.05 L51.4,206.05 L52,206.05 L52.6,206.05 L53.2,206.05 L53.8,206.05 L54.4,206.05 L55,206.05 L55.6,206.05 L56.2,206.05 L56.8,206.05 L57.4,206.05 L58,206.05 L58.6,206.05 L59.2,206.05 L59.8,206.05 L60.4,206.05 L61,206.05 L61.6,206.05 L62.2,206.05 L62.8,206.04 L63.4,206.04 L64,206.04 L64.6,206.04 L65.2,206.04 L65.8,206.04 L66.4,206.04 L67,206.03 L67.6,206.03 L68.2,206.03 L68.8,206.02 L69.4,206.02 L70,206.02 L70.6,206.01 L71.2,206.01 L71.8,206 L72.4,205.99 L73,205.98 L73.6,205.97 L74.2,205.96 L74.8,205.95 L75.4,205.93 L76,205.92 L76.6,205.9 L77.2,205.88 L77.8,205.86 L78.4,205.83 L79,205.81 L79.6,205.77 L80.2,205.74 L80.8,205.7 L81.4,205.66 L82,205.61 L82.6,205.56 L83.2,205.5 L83.8,205.44 L84.4,205.37 L85,205.3 L85.6,205.22 L86.2,205.13 L86.8,205.03 L87.4,204.92 L88,204.81 L88.6,204.68 L89.2,204.55 L89.8,204.4 L90.4,204.24 L91,204.07 L91.6,203.89 L92.2,203.69 L92.8,203.48 L93.4,203.26 L94,203.02 L94.6,202.77 L95.2,202.5 L95.8,202.21 L96.4,201.91 L97,201.59 L97.6,201.25 L98.2,200.9 L98.8,200.53 L99.4,200.14 L100,199.73 L100.6,199.31 L101.2,198.87 L101.8,198.41 L102.4,197.93 L103,197.44 L103.6,196.94 L104.2,196.42 L104.8,195.88 L105.4,195.33 L106,194.77 L106.6,194.2 L107.2,193.62 L107.8,193.04 L108.4,192.44 L109,191.84 L109.6,191.24 L110.2,190.63 L110.8,190.03 L111.4,189.43 L112,188.83 L112.6,188.24 L113.2,187.66 L113.8,187.08 L114.4,186.52 L115,185.98 L115.6,185.45 L116.2,184.94 L116.8,184.45 L117.4,183.99 L118,183.55 L118.6,183.14 L119.2,182.75 L119.8,182.4 L120.4,182.08 L121,181.79 L121.6,181.54 L122.2,181.32 L122.8,181.14 L123.4,181 L124,180.89 L124.6,180.83 L125.2,180.8 L125.8,180.82 L126.4,180.88 L127,180.98 L127.6,181.14 L128.2,181.33 L128.8,181.57 L129.4,181.85 L130,182.16 L130.6,182.51 L131.2,182.9 L131.8,183.32 L132.4,183.77 L133,184.24 L133.6,184.74 L134.2,185.26 L134.8,185.79 L135.4,186.35 L136,186.91 L136.6,187.49 L137.2,188.07 L137.8,188.66 L138.4,189.25 L139,189.84 L139.6,190.43 L140.2,191.02 L140.8,191.6 L141.4,192.18 L142,192.75 L142.6,193.32 L143.2,193.87 L143.8,194.41 L144.4,194.94 L145,195.45 L145.6,195.96 L146.2,196.45 L146.8,196.92 L147.4,197.38 L148,197.83 L148.6,198.26 L149.2,198.67 L149.8,199.07 L150.4,199.46 L151,199.83 L151.6,200.18 L152.2,200.52 L152.8,200.85 L153.4,201.16 L154,201.45 L154.6,201.74 L155.2,202 L155.8,202.26 L156.4,202.5 L157,202.73 L157.6,202.95 L158.2,203.16 L158.8,203.35 L159.4,203.53 L160,203.71 L160.6,203.87 L161.2,204.03 L161.8,204.17 L162.4,204.31 L163,204.43 L163.6,204.55 L164.2,204.66 L164.8,204.77 L165.4,204.87 L166,204.96 L166.6,205.04 L167.2,205.12 L167.8,205.2 L168.4,205.27 L169,205.33 L169.6,205.39 L170.2,205.44 L170.8,205.49 L171.4,205.54 L172,205.58 L172.6,205.62 L173.2,205.66 L173.8,205.69 L174.4,205.73 L175,205.76 L175.6,205.78 L176.2,205.81 L176.8,205.83 L177.4,205.85 L178,205.87 L178.6,205.88 L179.2,205.9 L179.8,205.91 L180.4,205.93 L181,205.94 L181.6,205.95 L182.2,205.96 L182.8,205.97 L183.4,205.98 L184,205.98 L184.6,205.99 L185.2,206 L185.8,206 L186.4,206.01 L187,206.01 L187.6,206.02 L188.2,206.02 L188.8,206.02 L189.4,206.03 L190,206.03 L190.6,206.03 L191.2,206.03 L191.8,206.03 L192.4,206.04 L193,206.04 L193.6,206.04 L194.2,206.04 L194.8,206.04 L195.4,206.04 L196,206.04 L196.6,206.04 L197.2,206.04 L197.8,206.05 L198.4,206.05 L199,206.05 L199.6,206.05 L200.2,206.05 L200.8,206.05 L201.4,206.05 L202,206.05 L202.6,206.05 L203.2,206.05 L203.8,206.05 L204.4,206.05 L205,206.05 L205.6,206.05 L206.2,206.05 L206.8,206.05 L207.4,206.05 L208,206.05 L208.6,206.05 L209.2,206.05 L209.8,206.05 L210.4,206.05 L211,206.05 L211.6,206.05 L212.2,206.05 L212.8,206.05 L213.4,206.05 L214,206.05 L214.6,206.05 L215.2,206.05 L215.8,206.05 L216.4,206.05 L217,206.05 L217.6,206.05 L218.2,206.05 L218.8,206.05" fill="none" stroke="#fde725" stroke-width="1.15" stroke-linejoin="round" />
<path d="M43.5,11 H219 V212.2 H43.5 Z" fill="none" stroke="#161616" stroke-width="1.0"/>
<line x1="43.5" y1="111.5" x2="219" y2="111.5" stroke="#161616" stroke-width="1" />
<line x1="56.04" y1="212.2" x2="56.04" y2="210.6" stroke="#161616" stroke-width="1" />
<line x1="68.57" y1="212.2" x2="68.57" y2="209.6" stroke="#161616" stroke-width="1" />
<line x1="81.11" y1="212.2" x2="81.11" y2="210.6" stroke="#161616" stroke-width="1" />
<line x1="93.64" y1="212.2" x2="93.64" y2="209.6" stroke="#161616" stroke-width="1" />
<line x1="106.18" y1="212.2" x2="106.18" y2="210.6" stroke="#161616" stroke-width="1" />
<line x1="118.71" y1="212.2" x2="118.71" y2="209.6" stroke="#161616" stroke-width="1" />
<line x1="131.25" y1="212.2" x2="131.25" y2="210.6" stroke="#161616" stroke-width="1" />
<line x1="143.79" y1="212.2" x2="143.79" y2="209.6" stroke="#161616" stroke-width="1" />
<line x1="156.32" y1="212.2" x2="156.32" y2="210.6" stroke="#161616" stroke-width="1" />
<line x1="168.86" y1="212.2" x2="168.86" y2="209.6" stroke="#161616" stroke-width="1" />
<line x1="181.39" y1="212.2" x2="181.39" y2="210.6" stroke="#161616" stroke-width="1" />
<line x1="193.93" y1="212.2" x2="193.93" y2="209.6" stroke="#161616" stroke-width="1" />
<line x1="206.46" y1="212.2" x2="206.46" y2="210.6" stroke="#161616" stroke-width="1" />
<text x="43.5" y="224.5" font-size="10.1" text-anchor="middle" fill="#161616" color="#161616" >460</text>
<text x="68.57" y="224.5" font-size="10.1" text-anchor="middle" fill="#161616" color="#161616" >480</text>
<text x="93.64" y="224.5" font-size="10.1" text-anchor="middle" fill="#161616" color="#161616" >500</text>
<text x="118.71" y="224.5" font-size="10.1" text-anchor="middle" fill="#161616" color="#161616" >520</text>
<text x="143.79" y="224.5" font-size="10.1" text-anchor="middle" fill="#161616" color="#161616" >540</text>
<text x="168.86" y="224.5" font-size="10.1" text-anchor="middle" fill="#161616" color="#161616" >560</text>
<text x="193.93" y="224.5" font-size="10.1" text-anchor="middle" fill="#161616" color="#161616" >580</text>
<text x="219" y="224.5" font-size="10.1" text-anchor="middle" fill="#161616" color="#161616" >600</text>
<text x="131.25" y="239.6" font-size="10.4" text-anchor="middle" fill="#161616" color="#161616" >Wavelength (nm)</text>
<text x="0" y="0" font-size="10.4" text-anchor="middle" fill="#161616" color="#161616" transform="translate(35.8,101.4) rotate(-90)" >PL Intensity (a.u.)</text>
<text x="49.5" y="23.2" font-size="8.9" text-anchor="start" fill="#161616" color="#161616" >Pristine</text>
<text x="49.5" y="123.6" font-size="8.9" text-anchor="start" fill="#161616" color="#161616" >Target</text>
<defs><linearGradient id="vg" x1="0" y1="0" x2="0" y2="1"><stop offset="0" stop-color="#440154"/><stop offset="0.25" stop-color="#3b528b"/><stop offset="0.48" stop-color="#21918c"/><stop offset="0.75" stop-color="#7bb03c"/><stop offset="1" stop-color="#c4b60c"/></linearGradient></defs>
<text x="98" y="40.3" font-size="9.1" text-anchor="middle" fill="#161616" color="#161616" >80 K</text>
<path d="M93.4,44 L98.7,44 L98.7,70.3 L100.8,70.3 L96.05,75.7 L91.3,70.3 L93.4,70.3 Z" fill="url(#vg)"/>
<text x="97.8" y="84.7" font-size="9.1" text-anchor="middle" fill="#161616" color="#161616" >300 K</text>
<text x="98" y="141.3" font-size="9.1" text-anchor="middle" fill="#161616" color="#161616" >80 K</text>
<path d="M93.4,145 L98.7,145 L98.7,171.3 L100.8,171.3 L96.05,176.7 L91.3,171.3 L93.4,171.3 Z" fill="url(#vg)"/>
<text x="97.8" y="185.7" font-size="9.1" text-anchor="middle" fill="#161616" color="#161616" >300 K</text>
<path d="M297.39,96.81 L298.72,95.02 L300.05,93.23 L301.39,91.43 L302.72,89.63 L304.05,87.83 L305.39,86.03 L306.72,84.23 L308.05,82.45 L309.39,80.68 L310.72,78.93 L312.05,77.19 L313.38,75.48 L314.72,73.79 L316.05,72.13 L317.38,70.5 L318.72,68.9 L320.05,67.34 L321.38,65.81 L322.72,64.31 L324.05,62.86 L325.38,61.44 L326.71,60.07 L328.05,58.73 L329.38,57.44 L330.71,56.19 L332.05,54.98 L333.38,53.81 L334.71,52.68 L336.05,51.6 L337.38,50.56 L338.71,49.55 L340.04,48.59 L341.38,47.67 L342.71,46.79 L344.04,45.94 L345.38,45.13 L346.71,44.36 L348.04,43.62 L349.38,42.92 L350.71,42.24 L352.04,41.6 L353.37,41 L354.71,40.42 L356.04,39.86 L357.37,39.34 L358.71,38.84 L360.04,38.37 L361.37,37.92 L362.71,37.5 L364.04,37.09 L365.37,36.71 L366.7,36.35 L368.04,36.01 L369.37,35.68 L370.7,35.37 L372.04,35.08 L373.37,34.81 L374.7,34.55 L376.04,34.3 L377.37,34.07 L378.7,33.85 L380.03,33.64 L381.37,33.45 L382.7,33.26 L384.03,33.09 L385.37,32.92 L386.7,32.77 L388.03,32.62 L389.36,32.48 L390.7,32.35 L392.03,32.23 L393.36,32.11 L394.7,32 L396.03,31.9 L397.36,31.8 L398.7,31.71 L400.03,31.62 L401.36,31.54 L402.69,31.46 L404.03,31.39 L405.36,31.32 L406.69,31.26 L408.03,31.2 L409.36,31.14 L410.69,31.09 L412.03,31.04 L413.36,30.99 L414.69,30.94 L416.02,30.9 L417.36,30.86 L418.69,30.82 L420.02,30.79 L421.36,30.76 L422.69,30.72 L424.02,30.7 L425.36,30.67 L426.69,30.64 L428.02,30.62 L429.35,30.59 L430.69,30.57" fill="none" stroke="#23774a" stroke-width="1.15" stroke-linejoin="round" />
<path d="M430.69,20.86 L433.39,23.56 L430.69,26.26 L427.99,23.56 Z" fill="#23774a"/>
<path d="M394.33,30.54 L397.03,33.24 L394.33,35.94 L391.63,33.24 Z" fill="#23774a"/>
<path d="M370.1,37.57 L372.8,40.27 L370.1,42.97 L367.4,40.27 Z" fill="#23774a"/>
<path d="M352.79,43.1 L355.49,45.8 L352.79,48.5 L350.09,45.8 Z" fill="#23774a"/>
<path d="M339.8,47.62 L342.5,50.32 L339.8,53.02 L337.1,50.32 Z" fill="#23774a"/>
<path d="M329.7,52.65 L332.4,55.35 L329.7,58.05 L327,55.35 Z" fill="#23774a"/>
<path d="M321.62,59.56 L324.32,62.26 L321.62,64.96 L318.93,62.26 Z" fill="#23774a"/>
<path d="M315.02,67.97 L317.72,70.67 L315.02,73.37 L312.32,70.67 Z" fill="#23774a"/>
<path d="M309.51,76.26 L312.21,78.96 L309.51,81.66 L306.81,78.96 Z" fill="#23774a"/>
<path d="M304.85,82.8 L307.55,85.5 L304.85,88.2 L302.15,85.5 Z" fill="#23774a"/>
<path d="M300.85,91.46 L303.55,94.16 L300.85,96.86 L298.15,94.16 Z" fill="#23774a"/>
<path d="M297.39,98.37 L300.09,101.07 L297.39,103.77 L294.69,101.07 Z" fill="#23774a"/>
<path d="M297.39,195.07 L298.72,192.67 L300.05,190.26 L301.39,187.86 L302.72,185.46 L304.05,183.09 L305.39,180.74 L306.72,178.42 L308.05,176.13 L309.39,173.9 L310.72,171.71 L312.05,169.59 L313.38,167.52 L314.72,165.51 L316.05,163.58 L317.38,161.71 L318.72,159.92 L320.05,158.2 L321.38,156.55 L322.72,154.98 L324.05,153.49 L325.38,152.07 L326.71,150.72 L328.05,149.44 L329.38,148.23 L330.71,147.09 L332.05,146.02 L333.38,145.01 L334.71,144.06 L336.05,143.17 L337.38,142.33 L338.71,141.55 L340.04,140.82 L341.38,140.14 L342.71,139.5 L344.04,138.91 L345.38,138.35 L346.71,137.84 L348.04,137.35 L349.38,136.91 L350.71,136.49 L352.04,136.11 L353.37,135.75 L354.71,135.42 L356.04,135.11 L357.37,134.82 L358.71,134.56 L360.04,134.31 L361.37,134.09 L362.71,133.88 L364.04,133.68 L365.37,133.5 L366.7,133.34 L368.04,133.18 L369.37,133.04 L370.7,132.91 L372.04,132.79 L373.37,132.67 L374.7,132.57 L376.04,132.47 L377.37,132.38 L378.7,132.3 L380.03,132.23 L381.37,132.16 L382.7,132.09 L384.03,132.03 L385.37,131.98 L386.7,131.93 L388.03,131.88 L389.36,131.84 L390.7,131.8 L392.03,131.76 L393.36,131.73 L394.7,131.7 L396.03,131.67 L397.36,131.64 L398.7,131.61 L400.03,131.59 L401.36,131.57 L402.69,131.55 L404.03,131.53 L405.36,131.52 L406.69,131.5 L408.03,131.49 L409.36,131.48 L410.69,131.46 L412.03,131.45 L413.36,131.44 L414.69,131.43 L416.02,131.42 L417.36,131.42 L418.69,131.41 L420.02,131.4 L421.36,131.4 L422.69,131.39 L424.02,131.38 L425.36,131.38 L426.69,131.38 L428.02,131.37 L429.35,131.37 L430.69,131.36" fill="none" stroke="#44b944" stroke-width="1.15" stroke-linejoin="round" />
<circle cx="430.69" cy="124.13" r="2.3" fill="#44b944"/>
<circle cx="394.33" cy="132.84" r="2.3" fill="#44b944"/>
<circle cx="370.1" cy="137.38" r="2.3" fill="#44b944"/>
<circle cx="352.79" cy="140.29" r="2.3" fill="#44b944"/>
<circle cx="339.8" cy="142.68" r="2.3" fill="#44b944"/>
<circle cx="329.7" cy="147.36" r="2.3" fill="#44b944"/>
<circle cx="321.62" cy="154.8" r="2.3" fill="#44b944"/>
<circle cx="315.02" cy="162.88" r="2.3" fill="#44b944"/>
<circle cx="309.51" cy="172.73" r="2.3" fill="#44b944"/>
<circle cx="304.85" cy="181.57" r="2.3" fill="#44b944"/>
<circle cx="300.85" cy="190.28" r="2.3" fill="#44b944"/>
<circle cx="297.39" cy="196.21" r="2.3" fill="#44b944"/>
<path d="M278,11 H452.5 V212.5 H278 Z" fill="none" stroke="#161616" stroke-width="1.0"/>
<line x1="278" y1="111.5" x2="452.5" y2="111.5" stroke="#161616" stroke-width="1" />
<line x1="278" y1="98.94" x2="280.6" y2="98.94" stroke="#161616" stroke-width="1" />
<text x="272" y="102.84" font-size="10.1" text-anchor="end" fill="#161616" color="#161616" >0.4</text>
<line x1="278" y1="86.38" x2="279.6" y2="86.38" stroke="#161616" stroke-width="1" />
<line x1="278" y1="73.81" x2="280.6" y2="73.81" stroke="#161616" stroke-width="1" />
<text x="272" y="77.71" font-size="10.1" text-anchor="end" fill="#161616" color="#161616" >0.6</text>
<line x1="278" y1="61.25" x2="279.6" y2="61.25" stroke="#161616" stroke-width="1" />
<line x1="278" y1="48.69" x2="280.6" y2="48.69" stroke="#161616" stroke-width="1" />
<text x="272" y="52.59" font-size="10.1" text-anchor="end" fill="#161616" color="#161616" >0.8</text>
<line x1="278" y1="36.12" x2="279.6" y2="36.12" stroke="#161616" stroke-width="1" />
<line x1="278" y1="23.56" x2="280.6" y2="23.56" stroke="#161616" stroke-width="1" />
<text x="272" y="27.46" font-size="10.1" text-anchor="end" fill="#161616" color="#161616" >1.0</text>
<line x1="278" y1="199.88" x2="280.6" y2="199.88" stroke="#161616" stroke-width="1" />
<text x="272" y="203.78" font-size="10.1" text-anchor="end" fill="#161616" color="#161616" >0.4</text>
<line x1="278" y1="187.25" x2="279.6" y2="187.25" stroke="#161616" stroke-width="1" />
<line x1="278" y1="174.62" x2="280.6" y2="174.62" stroke="#161616" stroke-width="1" />
<text x="272" y="178.53" font-size="10.1" text-anchor="end" fill="#161616" color="#161616" >0.6</text>
<line x1="278" y1="162" x2="279.6" y2="162" stroke="#161616" stroke-width="1" />
<line x1="278" y1="149.38" x2="280.6" y2="149.38" stroke="#161616" stroke-width="1" />
<text x="272" y="153.28" font-size="10.1" text-anchor="end" fill="#161616" color="#161616" >0.8</text>
<line x1="278" y1="136.75" x2="279.6" y2="136.75" stroke="#161616" stroke-width="1" />
<line x1="278" y1="124.13" x2="280.6" y2="124.13" stroke="#161616" stroke-width="1" />
<text x="272" y="128.03" font-size="10.1" text-anchor="end" fill="#161616" color="#161616" >1.0</text>
<line x1="292.54" y1="212.5" x2="292.54" y2="210.9" stroke="#161616" stroke-width="1" />
<line x1="307.08" y1="212.5" x2="307.08" y2="209.9" stroke="#161616" stroke-width="1" />
<line x1="321.62" y1="212.5" x2="321.62" y2="210.9" stroke="#161616" stroke-width="1" />
<line x1="336.17" y1="212.5" x2="336.17" y2="209.9" stroke="#161616" stroke-width="1" />
<line x1="350.71" y1="212.5" x2="350.71" y2="210.9" stroke="#161616" stroke-width="1" />
<line x1="365.25" y1="212.5" x2="365.25" y2="209.9" stroke="#161616" stroke-width="1" />
<line x1="379.79" y1="212.5" x2="379.79" y2="210.9" stroke="#161616" stroke-width="1" />
<line x1="394.33" y1="212.5" x2="394.33" y2="209.9" stroke="#161616" stroke-width="1" />
<line x1="408.88" y1="212.5" x2="408.88" y2="210.9" stroke="#161616" stroke-width="1" />
<line x1="423.42" y1="212.5" x2="423.42" y2="209.9" stroke="#161616" stroke-width="1" />
<line x1="437.96" y1="212.5" x2="437.96" y2="210.9" stroke="#161616" stroke-width="1" />
<text x="278" y="224.8" font-size="10.1" text-anchor="middle" fill="#161616" color="#161616" >2</text>
<text x="307.08" y="224.8" font-size="10.1" text-anchor="middle" fill="#161616" color="#161616" >4</text>
<text x="336.17" y="224.8" font-size="10.1" text-anchor="middle" fill="#161616" color="#161616" >6</text>
<text x="365.25" y="224.8" font-size="10.1" text-anchor="middle" fill="#161616" color="#161616" >8</text>
<text x="394.33" y="224.8" font-size="10.1" text-anchor="middle" fill="#161616" color="#161616" >10</text>
<text x="423.42" y="224.8" font-size="10.1" text-anchor="middle" fill="#161616" color="#161616" >12</text>
<text x="452.5" y="224.8" font-size="10.1" text-anchor="middle" fill="#161616" color="#161616" >14</text>
<text x="365.25" y="241.9" font-size="10.4" text-anchor="middle" fill="#161616" color="#161616" >1000/<tspan font-style="italic">T</tspan> (K<tspan dy="-3.6" font-size="7.2">−1</tspan><tspan dy="3.6">)</tspan></text>
<text x="0" y="0" font-size="10.4" text-anchor="middle" fill="#161616" color="#161616" transform="translate(248.3,113.1) rotate(-90)" >PL Intensity (a.u.)</text>
<text x="284.7" y="22.7" font-size="8.9" text-anchor="start" fill="#161616" color="#161616" >Pristine</text>
<text x="284.7" y="123.5" font-size="8.9" text-anchor="start" fill="#161616" color="#161616" >Target</text>
<text x="349.1" y="65.6" font-size="8.9" text-anchor="start" fill="#161616" color="#161616" textLength="62.4" lengthAdjust="spacing"><tspan font-style="italic">E</tspan><tspan dy="2.7" font-size="5.6">b</tspan><tspan dy="-2.7"> = 57 ± 7 meV</tspan></text>
<text x="349.1" y="79.5" font-size="8.9" text-anchor="start" fill="#161616" color="#161616" >R<tspan dy="-3.3" font-size="5.8">2</tspan><tspan dy="3.3"> = 0.98</tspan></text>
<text x="349.1" y="167.6" font-size="8.9" text-anchor="start" fill="#161616" color="#161616" textLength="62.4" lengthAdjust="spacing"><tspan font-style="italic">E</tspan><tspan dy="2.7" font-size="5.6">b</tspan><tspan dy="-2.7"> = 76 ± 8 meV</tspan></text>
<text x="349.1" y="182.1" font-size="8.9" text-anchor="start" fill="#161616" color="#161616" >R<tspan dy="-3.3" font-size="5.8">2</tspan><tspan dy="3.3"> = 0.98</tspan></text>
<path d="M515.33,22.83 L516.94,26.8 L518.54,30.49 L520.15,33.93 L521.75,37.13 L523.35,40.12 L524.96,42.91 L526.56,45.52 L528.17,47.96 L529.77,50.24 L531.38,52.38 L532.98,54.38 L534.58,56.26 L536.19,58.02 L537.79,59.67 L539.4,61.22 L541,62.68 L542.6,64.04 L544.21,65.33 L545.81,66.53 L547.42,67.67 L549.02,68.74 L550.62,69.74 L552.23,70.69 L553.83,71.58 L555.44,72.41 L557.04,73.2 L558.65,73.95 L560.25,74.65 L561.85,75.3 L563.46,75.93 L565.06,76.51 L566.67,77.06 L568.27,77.59 L569.88,78.08 L571.48,78.54 L573.08,78.98 L574.69,79.39 L576.29,79.78 L577.9,80.14 L579.5,80.49 L581.1,80.82 L582.71,81.13 L584.31,81.42 L585.92,81.69 L587.52,81.95 L589.12,82.2 L590.73,82.43 L592.33,82.65 L593.94,82.85 L595.54,83.05 L597.15,83.23 L598.75,83.4 L600.35,83.57 L601.96,83.72 L603.56,83.87 L605.17,84.01 L606.77,84.14 L608.38,84.26 L609.98,84.38 L611.58,84.49 L613.19,84.59 L614.79,84.69 L616.4,84.78 L618,84.87 L619.6,84.95 L621.21,85.03 L622.81,85.1 L624.42,85.17 L626.02,85.24 L627.62,85.3 L629.23,85.36 L630.83,85.42 L632.44,85.47 L634.04,85.52 L635.65,85.57 L637.25,85.61 L638.85,85.65 L640.46,85.69 L642.06,85.73 L643.67,85.77 L645.27,85.8 L646.88,85.83 L648.48,85.86 L650.08,85.89 L651.69,85.92 L653.29,85.94 L654.9,85.96 L656.5,85.99 L658.1,86.01 L659.71,86.03 L661.31,86.05 L662.92,86.07 L664.52,86.08 L666.12,86.1 L667.73,86.11 L669.33,86.13 L670.94,86.14 L672.54,86.15 L674.15,86.17 L675.75,86.18" fill="none" stroke="#23774a" stroke-width="1.15" stroke-linejoin="round" />
<path d="M675.75,80.36 L678.35,82.96 L675.75,85.56 L673.15,82.96 Z" fill="#fff" stroke="#23774a" stroke-width="0.95"/>
<path d="M632,83.98 L634.6,86.58 L632,89.18 L629.4,86.58 Z" fill="#fff" stroke="#23774a" stroke-width="0.95"/>
<path d="M602.83,82.57 L605.43,85.17 L602.83,87.77 L600.23,85.17 Z" fill="#fff" stroke="#23774a" stroke-width="0.95"/>
<path d="M582,80.56 L584.6,83.16 L582,85.76 L579.4,83.16 Z" fill="#fff" stroke="#23774a" stroke-width="0.95"/>
<path d="M566.38,75.73 L568.98,78.33 L566.38,80.93 L563.77,78.33 Z" fill="#fff" stroke="#23774a" stroke-width="0.95"/>
<path d="M554.22,67.9 L556.82,70.5 L554.22,73.1 L551.62,70.5 Z" fill="#fff" stroke="#23774a" stroke-width="0.95"/>
<path d="M544.5,60.46 L547.1,63.06 L544.5,65.66 L541.9,63.06 Z" fill="#fff" stroke="#23774a" stroke-width="0.95"/>
<path d="M536.55,55.23 L539.15,57.83 L536.55,60.43 L533.95,57.83 Z" fill="#fff" stroke="#23774a" stroke-width="0.95"/>
<path d="M529.92,46.79 L532.52,49.39 L529.92,51.99 L527.32,49.39 Z" fill="#fff" stroke="#23774a" stroke-width="0.95"/>
<path d="M524.31,41.56 L526.91,44.16 L524.31,46.77 L521.71,44.16 Z" fill="#fff" stroke="#23774a" stroke-width="0.95"/>
<path d="M519.5,32.32 L522.1,34.92 L519.5,37.52 L516.9,34.92 Z" fill="#fff" stroke="#23774a" stroke-width="0.95"/>
<path d="M515.33,20.06 L517.93,22.66 L515.33,25.26 L512.73,22.66 Z" fill="#fff" stroke="#23774a" stroke-width="0.95"/>
<path d="M515.33,125.35 L516.94,129.34 L518.54,133.09 L520.15,136.61 L521.75,139.92 L523.35,143.04 L524.96,145.97 L526.56,148.74 L528.17,151.35 L529.77,153.82 L531.38,156.15 L532.98,158.35 L534.58,160.44 L536.19,162.42 L537.79,164.29 L539.4,166.07 L541,167.75 L542.6,169.35 L544.21,170.87 L545.81,172.31 L547.42,173.68 L549.02,174.99 L550.62,176.23 L552.23,177.41 L553.83,178.53 L555.44,179.6 L557.04,180.62 L558.65,181.59 L560.25,182.52 L561.85,183.4 L563.46,184.25 L565.06,185.05 L566.67,185.82 L568.27,186.55 L569.88,187.25 L571.48,187.91 L573.08,188.55 L574.69,189.16 L576.29,189.74 L577.9,190.29 L579.5,190.82 L581.1,191.33 L582.71,191.82 L584.31,192.28 L585.92,192.72 L587.52,193.15 L589.12,193.55 L590.73,193.94 L592.33,194.31 L593.94,194.67 L595.54,195.01 L597.15,195.33 L598.75,195.65 L600.35,195.94 L601.96,196.23 L603.56,196.5 L605.17,196.76 L606.77,197.02 L608.38,197.26 L609.98,197.49 L611.58,197.71 L613.19,197.92 L614.79,198.12 L616.4,198.31 L618,198.5 L619.6,198.67 L621.21,198.85 L622.81,199.01 L624.42,199.16 L626.02,199.31 L627.62,199.46 L629.23,199.6 L630.83,199.73 L632.44,199.85 L634.04,199.97 L635.65,200.09 L637.25,200.2 L638.85,200.31 L640.46,200.41 L642.06,200.51 L643.67,200.6 L645.27,200.69 L646.88,200.78 L648.48,200.86 L650.08,200.94 L651.69,201.02 L653.29,201.09 L654.9,201.16 L656.5,201.23 L658.1,201.29 L659.71,201.35 L661.31,201.41 L662.92,201.47 L664.52,201.53 L666.12,201.58 L667.73,201.63 L669.33,201.68 L670.94,201.72 L672.54,201.77 L674.15,201.81 L675.75,201.85" fill="none" stroke="#44b944" stroke-width="1.15" stroke-linejoin="round" />
<circle cx="675.75" cy="199.37" r="2.1" fill="#fff" stroke="#44b944" stroke-width="0.95"/>
<circle cx="632" cy="202.2" r="2.1" fill="#fff" stroke="#44b944" stroke-width="0.95"/>
<circle cx="602.83" cy="198.36" r="2.1" fill="#fff" stroke="#44b944" stroke-width="0.95"/>
<circle cx="582" cy="193.31" r="2.1" fill="#fff" stroke="#44b944" stroke-width="0.95"/>
<circle cx="566.38" cy="185.84" r="2.1" fill="#fff" stroke="#44b944" stroke-width="0.95"/>
<circle cx="554.22" cy="179.37" r="2.1" fill="#fff" stroke="#44b944" stroke-width="0.95"/>
<circle cx="544.5" cy="168.87" r="2.1" fill="#fff" stroke="#44b944" stroke-width="0.95"/>
<circle cx="536.55" cy="162.81" r="2.1" fill="#fff" stroke="#44b944" stroke-width="0.95"/>
<circle cx="529.92" cy="153.31" r="2.1" fill="#fff" stroke="#44b944" stroke-width="0.95"/>
<circle cx="524.31" cy="146.24" r="2.1" fill="#fff" stroke="#44b944" stroke-width="0.95"/>
<circle cx="519.5" cy="135.54" r="2.1" fill="#fff" stroke="#44b944" stroke-width="0.95"/>
<circle cx="515.33" cy="125.44" r="2.1" fill="#fff" stroke="#44b944" stroke-width="0.95"/>
<path d="M509.5,11 H684.5 V212.5 H509.5 Z" fill="none" stroke="#161616" stroke-width="1.0"/>
<line x1="509.5" y1="111.5" x2="684.5" y2="111.5" stroke="#161616" stroke-width="1" />
<line x1="509.5" y1="101.45" x2="512.1" y2="101.45" stroke="#161616" stroke-width="1" />
<text x="504.3" y="105.35" font-size="10.1" text-anchor="end" fill="#161616" color="#161616" >60</text>
<line x1="509.5" y1="91.4" x2="511.1" y2="91.4" stroke="#161616" stroke-width="1" />
<line x1="509.5" y1="81.35" x2="512.1" y2="81.35" stroke="#161616" stroke-width="1" />
<text x="504.3" y="85.25" font-size="10.1" text-anchor="end" fill="#161616" color="#161616" >70</text>
<line x1="509.5" y1="71.3" x2="511.1" y2="71.3" stroke="#161616" stroke-width="1" />
<line x1="509.5" y1="61.25" x2="512.1" y2="61.25" stroke="#161616" stroke-width="1" />
<text x="504.3" y="65.15" font-size="10.1" text-anchor="end" fill="#161616" color="#161616" >80</text>
<line x1="509.5" y1="51.2" x2="511.1" y2="51.2" stroke="#161616" stroke-width="1" />
<line x1="509.5" y1="41.15" x2="512.1" y2="41.15" stroke="#161616" stroke-width="1" />
<text x="504.3" y="45.05" font-size="10.1" text-anchor="end" fill="#161616" color="#161616" >90</text>
<line x1="509.5" y1="31.1" x2="511.1" y2="31.1" stroke="#161616" stroke-width="1" />
<line x1="509.5" y1="21.05" x2="512.1" y2="21.05" stroke="#161616" stroke-width="1" />
<text x="504.3" y="24.95" font-size="10.1" text-anchor="end" fill="#161616" color="#161616" >100</text>
<line x1="509.5" y1="202.4" x2="512.1" y2="202.4" stroke="#161616" stroke-width="1" />
<text x="504.3" y="206.3" font-size="10.1" text-anchor="end" fill="#161616" color="#161616" >60</text>
<line x1="509.5" y1="192.3" x2="511.1" y2="192.3" stroke="#161616" stroke-width="1" />
<line x1="509.5" y1="182.2" x2="512.1" y2="182.2" stroke="#161616" stroke-width="1" />
<text x="504.3" y="186.1" font-size="10.1" text-anchor="end" fill="#161616" color="#161616" >70</text>
<line x1="509.5" y1="172.1" x2="511.1" y2="172.1" stroke="#161616" stroke-width="1" />
<line x1="509.5" y1="162" x2="512.1" y2="162" stroke="#161616" stroke-width="1" />
<text x="504.3" y="165.9" font-size="10.1" text-anchor="end" fill="#161616" color="#161616" >80</text>
<line x1="509.5" y1="151.9" x2="511.1" y2="151.9" stroke="#161616" stroke-width="1" />
<line x1="509.5" y1="141.8" x2="512.1" y2="141.8" stroke="#161616" stroke-width="1" />
<text x="504.3" y="145.7" font-size="10.1" text-anchor="end" fill="#161616" color="#161616" >90</text>
<line x1="509.5" y1="131.7" x2="511.1" y2="131.7" stroke="#161616" stroke-width="1" />
<line x1="509.5" y1="121.6" x2="512.1" y2="121.6" stroke="#161616" stroke-width="1" />
<text x="504.3" y="125.5" font-size="10.1" text-anchor="end" fill="#161616" color="#161616" >100</text>
<line x1="527" y1="212.5" x2="527" y2="209.9" stroke="#161616" stroke-width="1" />
<text x="527" y="224.8" font-size="10.1" text-anchor="middle" fill="#161616" color="#161616" >0.004</text>
<line x1="544.5" y1="212.5" x2="544.5" y2="210.9" stroke="#161616" stroke-width="1" />
<line x1="562" y1="212.5" x2="562" y2="209.9" stroke="#161616" stroke-width="1" />
<text x="562" y="224.8" font-size="10.1" text-anchor="middle" fill="#161616" color="#161616" >0.006</text>
<line x1="579.5" y1="212.5" x2="579.5" y2="210.9" stroke="#161616" stroke-width="1" />
<line x1="597" y1="212.5" x2="597" y2="209.9" stroke="#161616" stroke-width="1" />
<text x="597" y="224.8" font-size="10.1" text-anchor="middle" fill="#161616" color="#161616" >0.008</text>
<line x1="614.5" y1="212.5" x2="614.5" y2="210.9" stroke="#161616" stroke-width="1" />
<line x1="632" y1="212.5" x2="632" y2="209.9" stroke="#161616" stroke-width="1" />
<text x="632" y="224.8" font-size="10.1" text-anchor="middle" fill="#161616" color="#161616" >0.010</text>
<line x1="649.5" y1="212.5" x2="649.5" y2="210.9" stroke="#161616" stroke-width="1" />
<line x1="667" y1="212.5" x2="667" y2="209.9" stroke="#161616" stroke-width="1" />
<text x="667" y="224.8" font-size="10.1" text-anchor="middle" fill="#161616" color="#161616" >0.012</text>
<text x="597" y="241.9" font-size="10.4" text-anchor="middle" fill="#161616" color="#161616" >1/<tspan font-style="italic">T</tspan> (K<tspan dy="-3.6" font-size="7.2">−1</tspan><tspan dy="3.6">)</tspan></text>
<text x="0" y="0" font-size="10.4" text-anchor="middle" fill="#161616" color="#161616" transform="translate(479.8,111.5) rotate(-90)" >FWHM (meV)</text>
<path d="M640.7,21.7 L643.1,24.1 L640.7,26.5 L638.3,24.1 Z" fill="#fff" stroke="#23774a" stroke-width="0.95"/>
<circle cx="641" cy="124.8" r="1.9" fill="#fff" stroke="#44b944" stroke-width="0.95"/>
<text x="648.3" y="27" font-size="8.9" text-anchor="start" fill="#161616" color="#161616" >Pristine</text>
<text x="648.3" y="127.5" font-size="8.9" text-anchor="start" fill="#161616" color="#161616" >Target</text>
<text x="570.3" y="60.3" font-size="8.9" text-anchor="start" fill="#161616" color="#161616" textLength="64.8" lengthAdjust="spacing"><tspan font-style="italic">ħω</tspan> = 53 ± 5 meV</text>
<text x="574" y="165.4" font-size="8.9" text-anchor="start" fill="#161616" color="#161616" textLength="80.8" lengthAdjust="spacing"><tspan font-style="italic">ħω</tspan> = 39.0 ± 3.1 meV</text>
<rect x="60" y="286.3" width="16.25" height="60.6" fill="#ffffff" stroke="#333" stroke-width="0.95"/>
<rect x="76.25" y="286.3" width="16.25" height="60.6" fill="#66777f" stroke="#333" stroke-width="0.95"/>
<rect x="92.5" y="286.3" width="16.25" height="60.6" fill="#3e9ca1" stroke="#333" stroke-width="0.95"/>
<rect x="108.75" y="286.3" width="16.25" height="60.6" fill="#a2dc9d" stroke="#333" stroke-width="0.95"/>
<rect x="125" y="286.3" width="16.25" height="60.6" fill="#fee3a8" stroke="#333" stroke-width="0.95"/>
<rect x="141.25" y="286.3" width="16.25" height="60.6" fill="#dcdcdc" stroke="#333" stroke-width="0.95"/>
<text x="0" y="0" font-size="9.0" text-anchor="middle" fill="#111" color="#111" transform="translate(64.97,317.5) rotate(90)">ITO</text>
<text x="0" y="0" font-size="9.0" text-anchor="middle" fill="#eef2f4" color="#eef2f4" transform="translate(81.22,317.5) rotate(90)" textLength="52.3" lengthAdjust="spacingAndGlyphs">PEDOT: PSS</text>
<text x="0" y="0" font-size="9.0" text-anchor="middle" fill="#f4fbfb" color="#f4fbfb" transform="translate(97.47,317.5) rotate(90)">Poly-TPD</text>
<text x="0" y="0" font-size="9.0" text-anchor="middle" fill="#1a1a1a" color="#1a1a1a" transform="translate(113.72,317.5) rotate(90)">QD film</text>
<text x="0" y="0" font-size="9.0" text-anchor="middle" fill="#1a1a1a" color="#1a1a1a" transform="translate(129.97,317.5) rotate(90)">MoO<tspan dy="2.6" font-size="6.4">3</tspan></text>
<text x="0" y="0" font-size="9.0" text-anchor="middle" fill="#1a1a1a" color="#1a1a1a" transform="translate(146.22,317.5) rotate(90)">Al</text>
<line x1="220.2" y1="380" x2="220.2" y2="431.2" stroke="#7dd07d" stroke-width="1" stroke-dasharray="3,2.2"/>
<line x1="275.3" y1="283" x2="275.3" y2="431.2" stroke="#7dd07d" stroke-width="1" stroke-dasharray="3,2.2"/>
<line x1="229.4" y1="349.5" x2="229.4" y2="431.2" stroke="#3e8a5e" stroke-width="1" stroke-dasharray="3,2.2"/>
<line x1="287.6" y1="283.8" x2="287.6" y2="431.2" stroke="#3e8a5e" stroke-width="1" stroke-dasharray="3,2.2"/>
<path d="M101.42,381.26a1.45,1.45 0 1,0 2.9,0a1.45,1.45 0 1,0 -2.9,0M118.76,377.34a1.45,1.45 0 1,0 2.9,0a1.45,1.45 0 1,0 -2.9,0M131.06,375.04a1.45,1.45 0 1,0 2.9,0a1.45,1.45 0 1,0 -2.9,0M140.6,373.22a1.45,1.45 0 1,0 2.9,0a1.45,1.45 0 1,0 -2.9,0M148.4,371.11a1.45,1.45 0 1,0 2.9,0a1.45,1.45 0 1,0 -2.9,0M154.99,369.52a1.45,1.45 0 1,0 2.9,0a1.45,1.45 0 1,0 -2.9,0M160.7,368.11a1.45,1.45 0 1,0 2.9,0a1.45,1.45 0 1,0 -2.9,0M165.73,366.95a1.45,1.45 0 1,0 2.9,0a1.45,1.45 0 1,0 -2.9,0M170.24,365.93a1.45,1.45 0 1,0 2.9,0a1.45,1.45 0 1,0 -2.9,0M174.31,364.91a1.45,1.45 0 1,0 2.9,0a1.45,1.45 0 1,0 -2.9,0M178.03,363.81a1.45,1.45 0 1,0 2.9,0a1.45,1.45 0 1,0 -2.9,0M181.45,362.75a1.45,1.45 0 1,0 2.9,0a1.45,1.45 0 1,0 -2.9,0M184.62,361.8a1.45,1.45 0 1,0 2.9,0a1.45,1.45 0 1,0 -2.9,0M71.55,387.4a1.45,1.45 0 1,0 2.9,0a1.45,1.45 0 1,0 -2.9,0" fill="none" stroke="#23774a" stroke-width="1"/>
<g fill="none" stroke="#23774a" stroke-width="0.85"><circle cx="189.02" cy="360.92" r="1.3"/><circle cx="191.78" cy="360.1" r="1.3"/><circle cx="194.37" cy="359.33" r="1.3"/><circle cx="196.82" cy="358.63" r="1.3"/><circle cx="199.13" cy="357.93" r="1.3"/><circle cx="201.32" cy="357.23" r="1.3"/><circle cx="203.41" cy="356.5" r="1.3"/><circle cx="205.4" cy="355.76" r="1.3"/><circle cx="207.3" cy="355.03" r="1.3"/><circle cx="209.12" cy="354.31" r="1.3"/><circle cx="210.86" cy="353.6" r="1.3"/><circle cx="212.54" cy="352.89" r="1.3"/><circle cx="214.15" cy="352.19" r="1.3"/><circle cx="215.71" cy="351.49" r="1.3"/><circle cx="217.21" cy="350.81" r="1.3"/><circle cx="218.66" cy="350.14" r="1.3"/><circle cx="220.06" cy="349.5" r="1.3"/><circle cx="221.42" cy="348.87" r="1.3"/><circle cx="222.73" cy="348.24" r="1.3"/><circle cx="224.01" cy="347.61" r="1.3"/><circle cx="225.25" cy="346.97" r="1.3"/><circle cx="226.45" cy="346.3" r="1.3"/><circle cx="227.63" cy="345.6" r="1.3"/><circle cx="228.77" cy="344.87" r="1.3"/><circle cx="229.88" cy="344.11" r="1.3"/><circle cx="230.96" cy="343.34" r="1.3"/><circle cx="232.01" cy="342.56" r="1.3"/><circle cx="233.05" cy="341.79" r="1.3"/><circle cx="234.05" cy="341.02" r="1.3"/><circle cx="235.03" cy="340.27" r="1.3"/><circle cx="236" cy="339.53" r="1.3"/><circle cx="236.93" cy="338.79" r="1.3"/><circle cx="237.85" cy="338.05" r="1.3"/><circle cx="238.75" cy="337.3" r="1.3"/><circle cx="239.64" cy="336.57" r="1.3"/><circle cx="240.5" cy="335.83" r="1.3"/><circle cx="241.35" cy="335.1" r="1.3"/><circle cx="242.18" cy="334.37" r="1.3"/><circle cx="242.99" cy="333.63" r="1.3"/><circle cx="243.79" cy="332.9" r="1.3"/><circle cx="244.58" cy="332.17" r="1.3"/><circle cx="245.35" cy="331.45" r="1.3"/><circle cx="246.1" cy="330.75" r="1.3"/><circle cx="246.85" cy="330.05" r="1.3"/><circle cx="247.58" cy="329.37" r="1.3"/><circle cx="248.3" cy="328.69" r="1.3"/><circle cx="249" cy="328.03" r="1.3"/><circle cx="249.7" cy="327.37" r="1.3"/><circle cx="250.38" cy="326.72" r="1.3"/><circle cx="251.05" cy="326.08" r="1.3"/><circle cx="251.72" cy="325.44" r="1.3"/><circle cx="252.37" cy="324.81" r="1.3"/><circle cx="253.01" cy="324.19" r="1.3"/><circle cx="253.65" cy="323.58" r="1.3"/><circle cx="254.27" cy="322.99" r="1.3"/><circle cx="254.89" cy="322.4" r="1.3"/><circle cx="255.49" cy="321.83" r="1.3"/><circle cx="256.09" cy="321.26" r="1.3"/><circle cx="256.68" cy="320.69" r="1.3"/><circle cx="257.26" cy="320.12" r="1.3"/><circle cx="257.84" cy="319.56" r="1.3"/><circle cx="258.4" cy="318.99" r="1.3"/><circle cx="258.96" cy="318.41" r="1.3"/><circle cx="259.51" cy="317.83" r="1.3"/><circle cx="260.06" cy="317.24" r="1.3"/><circle cx="260.6" cy="316.63" r="1.3"/><circle cx="261.13" cy="315.99" r="1.3"/><circle cx="261.65" cy="315.35" r="1.3"/><circle cx="262.17" cy="314.7" r="1.3"/><circle cx="262.68" cy="314.06" r="1.3"/><circle cx="263.19" cy="313.43" r="1.3"/><circle cx="263.69" cy="312.82" r="1.3"/><circle cx="264.18" cy="312.24" r="1.3"/><circle cx="264.67" cy="311.68" r="1.3"/><circle cx="265.15" cy="311.14" r="1.3"/><circle cx="265.63" cy="310.61" r="1.3"/><circle cx="266.1" cy="310.09" r="1.3"/><circle cx="266.57" cy="309.59" r="1.3"/><circle cx="267.03" cy="309.09" r="1.3"/><circle cx="267.49" cy="308.6" r="1.3"/><circle cx="267.94" cy="308.11" r="1.3"/><circle cx="268.39" cy="307.63" r="1.3"/><circle cx="268.83" cy="307.15" r="1.3"/><circle cx="269.27" cy="306.68" r="1.3"/><circle cx="269.71" cy="306.2" r="1.3"/><circle cx="270.14" cy="305.73" r="1.3"/><circle cx="270.56" cy="305.26" r="1.3"/><circle cx="270.98" cy="304.8" r="1.3"/><circle cx="271.4" cy="304.35" r="1.3"/><circle cx="271.81" cy="303.91" r="1.3"/><circle cx="272.22" cy="303.49" r="1.3"/><circle cx="272.63" cy="303.07" r="1.3"/><circle cx="273.03" cy="302.67" r="1.3"/><circle cx="273.43" cy="302.29" r="1.3"/><circle cx="273.82" cy="301.91" r="1.3"/><circle cx="274.21" cy="301.55" r="1.3"/><circle cx="274.6" cy="301.19" r="1.3"/><circle cx="274.98" cy="300.85" r="1.3"/><circle cx="275.36" cy="300.51" r="1.3"/><circle cx="275.74" cy="300.17" r="1.3"/><circle cx="276.11" cy="299.84" r="1.3"/><circle cx="276.48" cy="299.52" r="1.3"/><circle cx="276.85" cy="299.19" r="1.3"/><circle cx="277.21" cy="298.87" r="1.3"/><circle cx="277.57" cy="298.54" r="1.3"/><circle cx="277.93" cy="298.22" r="1.3"/><circle cx="278.29" cy="297.9" r="1.3"/><circle cx="278.64" cy="297.58" r="1.3"/><circle cx="278.99" cy="297.26" r="1.3"/><circle cx="279.33" cy="296.95" r="1.3"/><circle cx="279.68" cy="296.64" r="1.3"/><circle cx="280.02" cy="296.33" r="1.3"/><circle cx="280.36" cy="296.04" r="1.3"/><circle cx="280.69" cy="295.74" r="1.3"/><circle cx="281.02" cy="295.46" r="1.3"/><circle cx="281.35" cy="295.18" r="1.3"/><circle cx="281.68" cy="294.91" r="1.3"/><circle cx="282.01" cy="294.65" r="1.3"/><circle cx="282.33" cy="294.4" r="1.3"/><circle cx="282.65" cy="294.15" r="1.3"/><circle cx="282.97" cy="293.91" r="1.3"/><circle cx="283.28" cy="293.68" r="1.3"/><circle cx="283.6" cy="293.45" r="1.3"/><circle cx="283.91" cy="293.22" r="1.3"/><circle cx="284.22" cy="292.99" r="1.3"/><circle cx="284.52" cy="292.77" r="1.3"/><circle cx="284.83" cy="292.55" r="1.3"/><circle cx="285.13" cy="292.33" r="1.3"/><circle cx="285.43" cy="292.12" r="1.3"/><circle cx="285.73" cy="291.9" r="1.3"/><circle cx="286.02" cy="291.68" r="1.3"/><circle cx="286.32" cy="291.47" r="1.3"/><circle cx="286.61" cy="291.25" r="1.3"/><circle cx="286.9" cy="291.04" r="1.3"/><circle cx="287.19" cy="290.84" r="1.3"/><circle cx="287.47" cy="290.63" r="1.3"/><circle cx="287.76" cy="290.43" r="1.3"/><circle cx="288.04" cy="290.22" r="1.3"/><circle cx="288.32" cy="290.02" r="1.3"/><circle cx="288.6" cy="289.82" r="1.3"/><circle cx="288.87" cy="289.62" r="1.3"/><circle cx="289.15" cy="289.42" r="1.3"/><circle cx="289.42" cy="289.22" r="1.3"/><circle cx="289.69" cy="289.02" r="1.3"/><circle cx="289.96" cy="288.82" r="1.3"/><circle cx="290.23" cy="288.63" r="1.3"/><circle cx="290.5" cy="288.43" r="1.3"/><circle cx="290.76" cy="288.23" r="1.3"/><circle cx="291.03" cy="288.03" r="1.3"/><circle cx="291.29" cy="287.83" r="1.3"/><circle cx="291.55" cy="287.63" r="1.3"/><circle cx="291.81" cy="287.43" r="1.3"/><circle cx="292.06" cy="287.24" r="1.3"/><circle cx="292.32" cy="287.04" r="1.3"/><circle cx="292.57" cy="286.84" r="1.3"/><circle cx="292.82" cy="286.65" r="1.3"/><circle cx="293.07" cy="286.46" r="1.3"/><circle cx="293.32" cy="286.26" r="1.3"/><circle cx="293.57" cy="286.07" r="1.3"/><circle cx="293.82" cy="285.88" r="1.3"/><circle cx="294.06" cy="285.69" r="1.3"/><circle cx="294.31" cy="285.5" r="1.3"/><circle cx="294.55" cy="285.32" r="1.3"/><circle cx="294.79" cy="285.13" r="1.3"/><circle cx="295.03" cy="284.94" r="1.3"/><circle cx="295.27" cy="284.76" r="1.3"/><circle cx="295.5" cy="284.57" r="1.3"/><circle cx="295.74" cy="284.38" r="1.3"/><circle cx="295.97" cy="284.19" r="1.3"/><circle cx="296.21" cy="284.01" r="1.3"/><circle cx="296.44" cy="283.82" r="1.3"/><circle cx="296.67" cy="283.64" r="1.3"/><circle cx="296.9" cy="283.46" r="1.3"/><circle cx="297.13" cy="283.28" r="1.3"/><circle cx="297.35" cy="283.1" r="1.3"/><circle cx="297.58" cy="282.92" r="1.3"/><circle cx="297.8" cy="282.75" r="1.3"/><circle cx="298.03" cy="282.59" r="1.3"/><circle cx="298.25" cy="282.42" r="1.3"/><circle cx="298.47" cy="282.26" r="1.3"/><circle cx="298.69" cy="282.11" r="1.3"/><circle cx="298.91" cy="281.96" r="1.3"/><circle cx="299.13" cy="281.82" r="1.3"/><circle cx="299.34" cy="281.68" r="1.3"/><circle cx="299.56" cy="281.54" r="1.3"/><circle cx="299.77" cy="281.41" r="1.3"/><circle cx="299.99" cy="281.28" r="1.3"/><circle cx="300.2" cy="281.15" r="1.3"/><circle cx="300.41" cy="281.03" r="1.3"/><circle cx="300.62" cy="280.91" r="1.3"/><circle cx="300.83" cy="280.79" r="1.3"/></g>
<path d="M101.42,417.56a1.45,1.45 0 1,0 2.9,0a1.45,1.45 0 1,0 -2.9,0M118.76,414.15a1.45,1.45 0 1,0 2.9,0a1.45,1.45 0 1,0 -2.9,0M131.06,412.56a1.45,1.45 0 1,0 2.9,0a1.45,1.45 0 1,0 -2.9,0M140.6,411.14a1.45,1.45 0 1,0 2.9,0a1.45,1.45 0 1,0 -2.9,0M148.4,409.29a1.45,1.45 0 1,0 2.9,0a1.45,1.45 0 1,0 -2.9,0M154.99,406.62a1.45,1.45 0 1,0 2.9,0a1.45,1.45 0 1,0 -2.9,0M160.7,404.62a1.45,1.45 0 1,0 2.9,0a1.45,1.45 0 1,0 -2.9,0M165.73,402.97a1.45,1.45 0 1,0 2.9,0a1.45,1.45 0 1,0 -2.9,0M170.24,401.45a1.45,1.45 0 1,0 2.9,0a1.45,1.45 0 1,0 -2.9,0M174.31,400.02a1.45,1.45 0 1,0 2.9,0a1.45,1.45 0 1,0 -2.9,0M178.03,398.67a1.45,1.45 0 1,0 2.9,0a1.45,1.45 0 1,0 -2.9,0M181.45,397.46a1.45,1.45 0 1,0 2.9,0a1.45,1.45 0 1,0 -2.9,0M184.62,396.49a1.45,1.45 0 1,0 2.9,0a1.45,1.45 0 1,0 -2.9,0M71.55,424.5a1.45,1.45 0 1,0 2.9,0a1.45,1.45 0 1,0 -2.9,0" fill="none" stroke="#44b944" stroke-width="1"/>
<g fill="none" stroke="#44b944" stroke-width="0.85"><circle cx="189.02" cy="395.66" r="1.3"/><circle cx="191.78" cy="394.81" r="1.3"/><circle cx="194.37" cy="393.88" r="1.3"/><circle cx="196.82" cy="392.91" r="1.3"/><circle cx="199.13" cy="391.93" r="1.3"/><circle cx="201.32" cy="390.97" r="1.3"/><circle cx="203.41" cy="390.04" r="1.3"/><circle cx="205.4" cy="389.11" r="1.3"/><circle cx="207.3" cy="388.14" r="1.3"/><circle cx="209.12" cy="387.08" r="1.3"/><circle cx="210.86" cy="385.86" r="1.3"/><circle cx="212.54" cy="384.45" r="1.3"/><circle cx="214.15" cy="383" r="1.3"/><circle cx="215.71" cy="381.56" r="1.3"/><circle cx="217.21" cy="380.1" r="1.3"/><circle cx="218.66" cy="378.61" r="1.3"/><circle cx="220.06" cy="377.13" r="1.3"/><circle cx="221.42" cy="375.64" r="1.3"/><circle cx="222.73" cy="374.14" r="1.3"/><circle cx="224.01" cy="372.63" r="1.3"/><circle cx="225.25" cy="371.11" r="1.3"/><circle cx="226.45" cy="369.55" r="1.3"/><circle cx="227.63" cy="367.96" r="1.3"/><circle cx="228.77" cy="366.39" r="1.3"/><circle cx="229.88" cy="364.87" r="1.3"/><circle cx="230.96" cy="363.43" r="1.3"/><circle cx="232.01" cy="362.07" r="1.3"/><circle cx="233.05" cy="360.75" r="1.3"/><circle cx="234.05" cy="359.42" r="1.3"/><circle cx="235.03" cy="358.07" r="1.3"/><circle cx="236" cy="356.65" r="1.3"/><circle cx="236.93" cy="355.15" r="1.3"/><circle cx="237.85" cy="353.61" r="1.3"/><circle cx="238.75" cy="352.1" r="1.3"/><circle cx="239.64" cy="350.66" r="1.3"/><circle cx="240.5" cy="349.32" r="1.3"/><circle cx="241.35" cy="348.05" r="1.3"/><circle cx="242.18" cy="346.81" r="1.3"/><circle cx="242.99" cy="345.58" r="1.3"/><circle cx="243.79" cy="344.34" r="1.3"/><circle cx="244.58" cy="343.06" r="1.3"/><circle cx="245.35" cy="341.75" r="1.3"/><circle cx="246.1" cy="340.44" r="1.3"/><circle cx="246.85" cy="339.14" r="1.3"/><circle cx="247.58" cy="337.84" r="1.3"/><circle cx="248.3" cy="336.57" r="1.3"/><circle cx="249" cy="335.32" r="1.3"/><circle cx="249.7" cy="334.11" r="1.3"/><circle cx="250.38" cy="332.92" r="1.3"/><circle cx="251.05" cy="331.75" r="1.3"/><circle cx="251.72" cy="330.59" r="1.3"/><circle cx="252.37" cy="329.45" r="1.3"/><circle cx="253.01" cy="328.33" r="1.3"/><circle cx="253.65" cy="327.22" r="1.3"/><circle cx="254.27" cy="326.12" r="1.3"/><circle cx="254.89" cy="325.03" r="1.3"/><circle cx="255.49" cy="323.96" r="1.3"/><circle cx="256.09" cy="322.87" r="1.3"/><circle cx="256.68" cy="321.8" r="1.3"/><circle cx="257.26" cy="320.72" r="1.3"/><circle cx="257.84" cy="319.67" r="1.3"/><circle cx="258.4" cy="318.63" r="1.3"/><circle cx="258.96" cy="317.62" r="1.3"/><circle cx="259.51" cy="316.64" r="1.3"/><circle cx="260.06" cy="315.7" r="1.3"/><circle cx="260.6" cy="314.78" r="1.3"/><circle cx="261.13" cy="313.88" r="1.3"/><circle cx="261.65" cy="312.99" r="1.3"/><circle cx="262.17" cy="312.13" r="1.3"/><circle cx="262.68" cy="311.3" r="1.3"/><circle cx="263.19" cy="310.49" r="1.3"/><circle cx="263.69" cy="309.71" r="1.3"/><circle cx="264.18" cy="308.97" r="1.3"/><circle cx="264.67" cy="308.27" r="1.3"/><circle cx="265.15" cy="307.59" r="1.3"/><circle cx="265.63" cy="306.94" r="1.3"/><circle cx="266.1" cy="306.31" r="1.3"/><circle cx="266.57" cy="305.7" r="1.3"/><circle cx="267.03" cy="305.11" r="1.3"/><circle cx="267.49" cy="304.52" r="1.3"/><circle cx="267.94" cy="303.95" r="1.3"/><circle cx="268.39" cy="303.39" r="1.3"/><circle cx="268.83" cy="302.83" r="1.3"/><circle cx="269.27" cy="302.27" r="1.3"/><circle cx="269.71" cy="301.72" r="1.3"/><circle cx="270.14" cy="301.17" r="1.3"/><circle cx="270.56" cy="300.63" r="1.3"/><circle cx="270.98" cy="300.11" r="1.3"/><circle cx="271.4" cy="299.6" r="1.3"/><circle cx="271.81" cy="299.11" r="1.3"/><circle cx="272.22" cy="298.64" r="1.3"/><circle cx="272.63" cy="298.19" r="1.3"/><circle cx="273.03" cy="297.77" r="1.3"/><circle cx="273.43" cy="297.37" r="1.3"/><circle cx="273.82" cy="296.99" r="1.3"/><circle cx="274.21" cy="296.62" r="1.3"/><circle cx="274.6" cy="296.26" r="1.3"/><circle cx="274.98" cy="295.92" r="1.3"/><circle cx="275.36" cy="295.58" r="1.3"/><circle cx="275.74" cy="295.26" r="1.3"/><circle cx="276.11" cy="294.95" r="1.3"/><circle cx="276.48" cy="294.64" r="1.3"/><circle cx="276.85" cy="294.34" r="1.3"/><circle cx="277.21" cy="294.05" r="1.3"/><circle cx="277.57" cy="293.76" r="1.3"/><circle cx="277.93" cy="293.48" r="1.3"/><circle cx="278.29" cy="293.2" r="1.3"/><circle cx="278.64" cy="292.93" r="1.3"/><circle cx="278.99" cy="292.66" r="1.3"/><circle cx="279.33" cy="292.4" r="1.3"/><circle cx="279.68" cy="292.14" r="1.3"/><circle cx="280.02" cy="291.9" r="1.3"/><circle cx="280.36" cy="291.66" r="1.3"/><circle cx="280.69" cy="291.43" r="1.3"/><circle cx="281.02" cy="291.21" r="1.3"/><circle cx="281.35" cy="291.01" r="1.3"/><circle cx="281.68" cy="290.81" r="1.3"/><circle cx="282.01" cy="290.62" r="1.3"/><circle cx="282.33" cy="290.44" r="1.3"/><circle cx="282.65" cy="290.26" r="1.3"/><circle cx="282.97" cy="290.09" r="1.3"/><circle cx="283.28" cy="289.92" r="1.3"/><circle cx="283.6" cy="289.76" r="1.3"/><circle cx="283.91" cy="289.61" r="1.3"/><circle cx="284.22" cy="289.46" r="1.3"/><circle cx="284.52" cy="289.31" r="1.3"/><circle cx="284.83" cy="289.18" r="1.3"/><circle cx="285.13" cy="289.05" r="1.3"/><circle cx="285.43" cy="288.92" r="1.3"/><circle cx="285.73" cy="288.8" r="1.3"/><circle cx="286.02" cy="288.69" r="1.3"/><circle cx="286.32" cy="288.58" r="1.3"/><circle cx="286.61" cy="288.48" r="1.3"/><circle cx="286.9" cy="288.38" r="1.3"/><circle cx="287.19" cy="288.28" r="1.3"/><circle cx="287.47" cy="288.19" r="1.3"/><circle cx="287.76" cy="288.1" r="1.3"/><circle cx="288.04" cy="288.01" r="1.3"/><circle cx="288.32" cy="287.92" r="1.3"/><circle cx="288.6" cy="287.84" r="1.3"/><circle cx="288.87" cy="287.76" r="1.3"/><circle cx="289.15" cy="287.69" r="1.3"/><circle cx="289.42" cy="287.62" r="1.3"/><circle cx="289.69" cy="287.56" r="1.3"/><circle cx="289.96" cy="287.49" r="1.3"/><circle cx="290.23" cy="287.43" r="1.3"/><circle cx="290.5" cy="287.38" r="1.3"/><circle cx="290.76" cy="287.33" r="1.3"/><circle cx="291.03" cy="287.27" r="1.3"/><circle cx="291.29" cy="287.22" r="1.3"/><circle cx="291.55" cy="287.17" r="1.3"/><circle cx="291.81" cy="287.12" r="1.3"/><circle cx="292.06" cy="287.07" r="1.3"/><circle cx="292.32" cy="287.02" r="1.3"/><circle cx="292.57" cy="286.97" r="1.3"/><circle cx="292.82" cy="286.93" r="1.3"/><circle cx="293.07" cy="286.88" r="1.3"/><circle cx="293.32" cy="286.84" r="1.3"/><circle cx="293.57" cy="286.8" r="1.3"/><circle cx="293.82" cy="286.76" r="1.3"/><circle cx="294.06" cy="286.73" r="1.3"/><circle cx="294.31" cy="286.69" r="1.3"/><circle cx="294.55" cy="286.66" r="1.3"/><circle cx="294.79" cy="286.63" r="1.3"/><circle cx="295.03" cy="286.6" r="1.3"/><circle cx="295.27" cy="286.58" r="1.3"/><circle cx="295.5" cy="286.56" r="1.3"/><circle cx="295.74" cy="286.54" r="1.3"/><circle cx="295.97" cy="286.52" r="1.3"/><circle cx="296.21" cy="286.51" r="1.3"/><circle cx="296.44" cy="286.5" r="1.3"/><circle cx="296.67" cy="286.49" r="1.3"/><circle cx="296.9" cy="286.48" r="1.3"/><circle cx="297.13" cy="286.47" r="1.3"/><circle cx="297.35" cy="286.46" r="1.3"/><circle cx="297.58" cy="286.45" r="1.3"/><circle cx="297.8" cy="286.45" r="1.3"/><circle cx="298.03" cy="286.44" r="1.3"/><circle cx="298.25" cy="286.43" r="1.3"/><circle cx="298.47" cy="286.43" r="1.3"/><circle cx="298.69" cy="286.42" r="1.3"/><circle cx="298.91" cy="286.42" r="1.3"/><circle cx="299.13" cy="286.41" r="1.3"/><circle cx="299.34" cy="286.41" r="1.3"/><circle cx="299.56" cy="286.4" r="1.3"/><circle cx="299.77" cy="286.4" r="1.3"/><circle cx="299.99" cy="286.4" r="1.3"/><circle cx="300.2" cy="286.4" r="1.3"/></g>
<line x1="115.5" y1="379.5" x2="234.6" y2="350.4" stroke="#3a7fd9" stroke-width="1.1" />
<line x1="84" y1="423.3" x2="226.8" y2="387.2" stroke="#3a7fd9" stroke-width="1.1" />
<line x1="224.6" y1="356" x2="291.8" y2="282.3" stroke="#ec5548" stroke-width="1.05" />
<line x1="216.4" y1="394.6" x2="277.6" y2="289.1" stroke="#ec5548" stroke-width="1.05" />
<line x1="270" y1="295.4" x2="301.9" y2="281.1" stroke="#d9a31c" stroke-width="1.15" stroke-dasharray="2.6,0.8"/>
<line x1="73.24" y1="431.2" x2="73.24" y2="429.6" stroke="#161616" stroke-width="1" />
<line x1="90.57" y1="431.2" x2="90.57" y2="429.6" stroke="#161616" stroke-width="1" />
<line x1="102.87" y1="431.2" x2="102.87" y2="429.6" stroke="#161616" stroke-width="1" />
<line x1="112.41" y1="431.2" x2="112.41" y2="429.6" stroke="#161616" stroke-width="1" />
<line x1="120.21" y1="431.2" x2="120.21" y2="429.6" stroke="#161616" stroke-width="1" />
<line x1="126.8" y1="431.2" x2="126.8" y2="429.6" stroke="#161616" stroke-width="1" />
<line x1="132.51" y1="431.2" x2="132.51" y2="429.6" stroke="#161616" stroke-width="1" />
<line x1="137.55" y1="431.2" x2="137.55" y2="429.6" stroke="#161616" stroke-width="1" />
<line x1="142.05" y1="431.2" x2="142.05" y2="428.2" stroke="#161616" stroke-width="1" />
<line x1="171.69" y1="431.2" x2="171.69" y2="429.6" stroke="#161616" stroke-width="1" />
<line x1="189.02" y1="431.2" x2="189.02" y2="429.6" stroke="#161616" stroke-width="1" />
<line x1="201.32" y1="431.2" x2="201.32" y2="429.6" stroke="#161616" stroke-width="1" />
<line x1="210.86" y1="431.2" x2="210.86" y2="429.6" stroke="#161616" stroke-width="1" />
<line x1="218.66" y1="431.2" x2="218.66" y2="429.6" stroke="#161616" stroke-width="1" />
<line x1="225.25" y1="431.2" x2="225.25" y2="429.6" stroke="#161616" stroke-width="1" />
<line x1="230.96" y1="431.2" x2="230.96" y2="429.6" stroke="#161616" stroke-width="1" />
<line x1="236" y1="431.2" x2="236" y2="429.6" stroke="#161616" stroke-width="1" />
<line x1="240.5" y1="431.2" x2="240.5" y2="428.2" stroke="#161616" stroke-width="1" />
<line x1="270.14" y1="431.2" x2="270.14" y2="429.6" stroke="#161616" stroke-width="1" />
<line x1="287.47" y1="431.2" x2="287.47" y2="429.6" stroke="#161616" stroke-width="1" />
<line x1="299.77" y1="431.2" x2="299.77" y2="429.6" stroke="#161616" stroke-width="1" />
<line x1="309.31" y1="431.2" x2="309.31" y2="429.6" stroke="#161616" stroke-width="1" />
<line x1="317.11" y1="431.2" x2="317.11" y2="429.6" stroke="#161616" stroke-width="1" />
<text x="43.6" y="444" font-size="10.1" text-anchor="middle" fill="#161616" color="#161616" >0.01</text>
<text x="142.05" y="444" font-size="10.1" text-anchor="middle" fill="#161616" color="#161616" >0.1</text>
<text x="240.5" y="444" font-size="10.1" text-anchor="middle" fill="#161616" color="#161616" >1</text>
<line x1="43.6" y1="425.21" x2="44.9" y2="425.21" stroke="#161616" stroke-width="1" />
<line x1="43.6" y1="421.71" x2="44.9" y2="421.71" stroke="#161616" stroke-width="1" />
<line x1="43.6" y1="419.22" x2="44.9" y2="419.22" stroke="#161616" stroke-width="1" />
<line x1="43.6" y1="417.29" x2="44.9" y2="417.29" stroke="#161616" stroke-width="1" />
<line x1="43.6" y1="415.71" x2="44.9" y2="415.71" stroke="#161616" stroke-width="1" />
<line x1="43.6" y1="414.38" x2="44.9" y2="414.38" stroke="#161616" stroke-width="1" />
<line x1="43.6" y1="413.23" x2="44.9" y2="413.23" stroke="#161616" stroke-width="1" />
<line x1="43.6" y1="412.21" x2="44.9" y2="412.21" stroke="#161616" stroke-width="1" />
<line x1="43.6" y1="411.3" x2="45.8" y2="411.3" stroke="#161616" stroke-width="1" />
<line x1="43.6" y1="405.31" x2="44.9" y2="405.31" stroke="#161616" stroke-width="1" />
<line x1="43.6" y1="401.81" x2="44.9" y2="401.81" stroke="#161616" stroke-width="1" />
<line x1="43.6" y1="399.32" x2="44.9" y2="399.32" stroke="#161616" stroke-width="1" />
<line x1="43.6" y1="397.39" x2="44.9" y2="397.39" stroke="#161616" stroke-width="1" />
<line x1="43.6" y1="395.81" x2="44.9" y2="395.81" stroke="#161616" stroke-width="1" />
<line x1="43.6" y1="394.48" x2="44.9" y2="394.48" stroke="#161616" stroke-width="1" />
<line x1="43.6" y1="393.33" x2="44.9" y2="393.33" stroke="#161616" stroke-width="1" />
<line x1="43.6" y1="392.31" x2="44.9" y2="392.31" stroke="#161616" stroke-width="1" />
<line x1="43.6" y1="391.4" x2="46.6" y2="391.4" stroke="#161616" stroke-width="1" />
<line x1="43.6" y1="385.41" x2="44.9" y2="385.41" stroke="#161616" stroke-width="1" />
<line x1="43.6" y1="381.91" x2="44.9" y2="381.91" stroke="#161616" stroke-width="1" />
<line x1="43.6" y1="379.42" x2="44.9" y2="379.42" stroke="#161616" stroke-width="1" />
<line x1="43.6" y1="377.49" x2="44.9" y2="377.49" stroke="#161616" stroke-width="1" />
<line x1="43.6" y1="375.91" x2="44.9" y2="375.91" stroke="#161616" stroke-width="1" />
<line x1="43.6" y1="374.58" x2="44.9" y2="374.58" stroke="#161616" stroke-width="1" />
<line x1="43.6" y1="373.43" x2="44.9" y2="373.43" stroke="#161616" stroke-width="1" />
<line x1="43.6" y1="372.41" x2="44.9" y2="372.41" stroke="#161616" stroke-width="1" />
<line x1="43.6" y1="371.5" x2="45.8" y2="371.5" stroke="#161616" stroke-width="1" />
<line x1="43.6" y1="365.51" x2="44.9" y2="365.51" stroke="#161616" stroke-width="1" />
<line x1="43.6" y1="362.01" x2="44.9" y2="362.01" stroke="#161616" stroke-width="1" />
<line x1="43.6" y1="359.52" x2="44.9" y2="359.52" stroke="#161616" stroke-width="1" />
<line x1="43.6" y1="357.59" x2="44.9" y2="357.59" stroke="#161616" stroke-width="1" />
<line x1="43.6" y1="356.01" x2="44.9" y2="356.01" stroke="#161616" stroke-width="1" />
<line x1="43.6" y1="354.68" x2="44.9" y2="354.68" stroke="#161616" stroke-width="1" />
<line x1="43.6" y1="353.53" x2="44.9" y2="353.53" stroke="#161616" stroke-width="1" />
<line x1="43.6" y1="352.51" x2="44.9" y2="352.51" stroke="#161616" stroke-width="1" />
<line x1="43.6" y1="351.6" x2="46.6" y2="351.6" stroke="#161616" stroke-width="1" />
<line x1="43.6" y1="345.61" x2="44.9" y2="345.61" stroke="#161616" stroke-width="1" />
<line x1="43.6" y1="342.11" x2="44.9" y2="342.11" stroke="#161616" stroke-width="1" />
<line x1="43.6" y1="339.62" x2="44.9" y2="339.62" stroke="#161616" stroke-width="1" />
<line x1="43.6" y1="337.69" x2="44.9" y2="337.69" stroke="#161616" stroke-width="1" />
<line x1="43.6" y1="336.11" x2="44.9" y2="336.11" stroke="#161616" stroke-width="1" />
<line x1="43.6" y1="334.78" x2="44.9" y2="334.78" stroke="#161616" stroke-width="1" />
<line x1="43.6" y1="333.63" x2="44.9" y2="333.63" stroke="#161616" stroke-width="1" />
<line x1="43.6" y1="332.61" x2="44.9" y2="332.61" stroke="#161616" stroke-width="1" />
<line x1="43.6" y1="331.7" x2="45.8" y2="331.7" stroke="#161616" stroke-width="1" />
<line x1="43.6" y1="325.71" x2="44.9" y2="325.71" stroke="#161616" stroke-width="1" />
<line x1="43.6" y1="322.21" x2="44.9" y2="322.21" stroke="#161616" stroke-width="1" />
<line x1="43.6" y1="319.72" x2="44.9" y2="319.72" stroke="#161616" stroke-width="1" />
<line x1="43.6" y1="317.79" x2="44.9" y2="317.79" stroke="#161616" stroke-width="1" />
<line x1="43.6" y1="316.21" x2="44.9" y2="316.21" stroke="#161616" stroke-width="1" />
<line x1="43.6" y1="314.88" x2="44.9" y2="314.88" stroke="#161616" stroke-width="1" />
<line x1="43.6" y1="313.73" x2="44.9" y2="313.73" stroke="#161616" stroke-width="1" />
<line x1="43.6" y1="312.71" x2="44.9" y2="312.71" stroke="#161616" stroke-width="1" />
<line x1="43.6" y1="311.8" x2="46.6" y2="311.8" stroke="#161616" stroke-width="1" />
<line x1="43.6" y1="305.81" x2="44.9" y2="305.81" stroke="#161616" stroke-width="1" />
<line x1="43.6" y1="302.31" x2="44.9" y2="302.31" stroke="#161616" stroke-width="1" />
<line x1="43.6" y1="299.82" x2="44.9" y2="299.82" stroke="#161616" stroke-width="1" />
<line x1="43.6" y1="297.89" x2="44.9" y2="297.89" stroke="#161616" stroke-width="1" />
<line x1="43.6" y1="296.31" x2="44.9" y2="296.31" stroke="#161616" stroke-width="1" />
<line x1="43.6" y1="294.98" x2="44.9" y2="294.98" stroke="#161616" stroke-width="1" />
<line x1="43.6" y1="293.83" x2="44.9" y2="293.83" stroke="#161616" stroke-width="1" />
<line x1="43.6" y1="292.81" x2="44.9" y2="292.81" stroke="#161616" stroke-width="1" />
<line x1="43.6" y1="291.9" x2="45.8" y2="291.9" stroke="#161616" stroke-width="1" />
<line x1="43.6" y1="285.91" x2="44.9" y2="285.91" stroke="#161616" stroke-width="1" />
<line x1="43.6" y1="282.41" x2="44.9" y2="282.41" stroke="#161616" stroke-width="1" />
<line x1="43.6" y1="279.92" x2="44.9" y2="279.92" stroke="#161616" stroke-width="1" />
<line x1="43.6" y1="277.99" x2="44.9" y2="277.99" stroke="#161616" stroke-width="1" />
<line x1="43.6" y1="276.41" x2="44.9" y2="276.41" stroke="#161616" stroke-width="1" />
<line x1="43.6" y1="275.08" x2="44.9" y2="275.08" stroke="#161616" stroke-width="1" />
<line x1="43.6" y1="273.93" x2="44.9" y2="273.93" stroke="#161616" stroke-width="1" />
<line x1="43.6" y1="272.91" x2="44.9" y2="272.91" stroke="#161616" stroke-width="1" />
<text x="38" y="276.1" font-size="10.1" text-anchor="end" fill="#161616" color="#161616">10<tspan dy="-4.4" font-size="7.2">4</tspan></text>
<text x="38" y="315.9" font-size="10.1" text-anchor="end" fill="#161616" color="#161616">10<tspan dy="-4.4" font-size="7.2">2</tspan></text>
<text x="38" y="355.7" font-size="10.1" text-anchor="end" fill="#161616" color="#161616">10<tspan dy="-4.4" font-size="7.2">0</tspan></text>
<text x="38" y="395.5" font-size="10.1" text-anchor="end" fill="#161616" color="#161616">10<tspan dy="-4.4" font-size="7.2">−2</tspan></text>
<text x="38" y="435.3" font-size="10.1" text-anchor="end" fill="#161616" color="#161616">10<tspan dy="-4.4" font-size="7.2">−4</tspan></text>
<path d="M43.6,272 H324 V431.2 H43.6 Z" fill="none" stroke="#161616" stroke-width="1"/>
<text x="183.8" y="458.7" font-size="10.4" text-anchor="middle" fill="#161616" color="#161616" >Voltage (V)</text>
<text x="0" y="0" font-size="10.4" text-anchor="middle" fill="#161616" color="#161616" transform="translate(13.2,351.9) rotate(-90)" textLength="117.5" lengthAdjust="spacingAndGlyphs">Current density (mA cm<tspan dy="-3.6" font-size="7.2">−2</tspan><tspan dy="3.6">)</tspan></text>
<circle cx="183.5" cy="284.4" r="1.3" fill="none" stroke="#23774a" stroke-width="0.95"/>
<circle cx="183.5" cy="294.6" r="1.3" fill="none" stroke="#44b944" stroke-width="0.95"/>
<text x="190.3" y="286.8" font-size="8.9" text-anchor="start" fill="#161616" color="#161616" >Pristine</text>
<text x="190.3" y="297.4" font-size="8.9" text-anchor="start" fill="#161616" color="#161616" >Target</text>
<text x="182" y="319.3" font-size="8.8" fill="#23774a" color="#23774a" textLength="50" lengthAdjust="spacing"><tspan font-style="italic">V</tspan><tspan dy="3.0" dx="-0.3" font-size="5.9">TFL</tspan><tspan dy="-3.0"> = 2.99 V</tspan></text>
<text x="182" y="336.1" font-size="8.8" fill="#44b944" color="#44b944" textLength="50" lengthAdjust="spacing"><tspan font-style="italic">V</tspan><tspan dy="3.0" dx="-0.3" font-size="5.9">TFL</tspan><tspan dy="-3.0"> = 2.23 V</tspan></text>
<text x="156.6" y="423.5" font-size="8.9" text-anchor="start" fill="#3a7fd9" color="#3a7fd9" >Ohmic</text>
<text x="248" y="423.5" font-size="8.9" text-anchor="start" fill="#ee4444" color="#ee4444" >TFL</text>
<text x="296.3" y="423.5" font-size="8.9" text-anchor="start" fill="#d9a31c" color="#d9a31c" >Child</text>
<rect x="397" y="286.4" width="16.22" height="60.7" fill="#ffffff" stroke="#333" stroke-width="0.95"/>
<rect x="413.22" y="286.4" width="16.22" height="60.7" fill="#66777f" stroke="#333" stroke-width="0.95"/>
<rect x="429.43" y="286.4" width="16.22" height="60.7" fill="#3e9ca1" stroke="#333" stroke-width="0.95"/>
<rect x="445.65" y="286.4" width="16.22" height="60.7" fill="#a2dc9d" stroke="#333" stroke-width="0.95"/>
<rect x="461.87" y="286.4" width="16.22" height="60.7" fill="#fee3a8" stroke="#333" stroke-width="0.95"/>
<rect x="478.08" y="286.4" width="16.22" height="60.7" fill="#dcdcdc" stroke="#333" stroke-width="0.95"/>
<text x="0" y="0" font-size="8.6" text-anchor="middle" fill="#111" color="#111" transform="translate(402.1,316.65) rotate(90)">ITO</text>
<text x="0" y="0" font-size="8.6" text-anchor="middle" fill="#eef2f4" color="#eef2f4" transform="translate(418.31,316.65) rotate(90)">ZnO</text>
<text x="0" y="0" font-size="8.6" text-anchor="middle" fill="#f4fbfb" color="#f4fbfb" transform="translate(434.53,316.65) rotate(90)">PEIE</text>
<text x="0" y="0" font-size="8.6" text-anchor="middle" fill="#1a1a1a" color="#1a1a1a" transform="translate(450.75,316.65) rotate(90)">QD film</text>
<text x="0" y="0" font-size="8.6" text-anchor="middle" fill="#1a1a1a" color="#1a1a1a" transform="translate(466.97,316.65) rotate(90)">TPBi</text>
<text x="0" y="0" font-size="8.6" text-anchor="middle" fill="#1a1a1a" color="#1a1a1a" transform="translate(483.18,316.65) rotate(90)">Al/LiF</text>
<line x1="585" y1="381.2" x2="585" y2="431" stroke="#7dd07d" stroke-width="1" stroke-dasharray="3,2.2"/>
<line x1="628.4" y1="291.7" x2="628.4" y2="431" stroke="#7dd07d" stroke-width="1" stroke-dasharray="3,2.2"/>
<line x1="604.5" y1="361" x2="604.5" y2="431" stroke="#3e8a5e" stroke-width="1" stroke-dasharray="3,2.2"/>
<line x1="632.5" y1="303" x2="632.5" y2="431" stroke="#3e8a5e" stroke-width="1" stroke-dasharray="3,2.2"/>
<path d="M456.81,395.37a1.45,1.45 0 1,0 2.9,0a1.45,1.45 0 1,0 -2.9,0M478.95,390.7a1.45,1.45 0 1,0 2.9,0a1.45,1.45 0 1,0 -2.9,0M493.53,387a1.45,1.45 0 1,0 2.9,0a1.45,1.45 0 1,0 -2.9,0M504.43,384.48a1.45,1.45 0 1,0 2.9,0a1.45,1.45 0 1,0 -2.9,0M513.12,382.13a1.45,1.45 0 1,0 2.9,0a1.45,1.45 0 1,0 -2.9,0M520.36,380.77a1.45,1.45 0 1,0 2.9,0a1.45,1.45 0 1,0 -2.9,0M526.57,379.15a1.45,1.45 0 1,0 2.9,0a1.45,1.45 0 1,0 -2.9,0M531.99,377.9a1.45,1.45 0 1,0 2.9,0a1.45,1.45 0 1,0 -2.9,0M536.81,376.96a1.45,1.45 0 1,0 2.9,0a1.45,1.45 0 1,0 -2.9,0M541.15,376.08a1.45,1.45 0 1,0 2.9,0a1.45,1.45 0 1,0 -2.9,0M409.25,406a1.45,1.45 0 1,0 2.9,0a1.45,1.45 0 1,0 -2.9,0" fill="none" stroke="#23774a" stroke-width="1"/>
<g fill="none" stroke="#23774a" stroke-width="0.85"><circle cx="546.54" cy="374.99" r="1.3"/><circle cx="550.16" cy="373.87" r="1.3"/><circle cx="553.49" cy="372.92" r="1.3"/><circle cx="556.59" cy="372.1" r="1.3"/><circle cx="559.48" cy="371.3" r="1.3"/><circle cx="562.19" cy="370.42" r="1.3"/><circle cx="564.74" cy="369.46" r="1.3"/><circle cx="567.15" cy="368.6" r="1.3"/><circle cx="569.43" cy="367.83" r="1.3"/><circle cx="571.6" cy="367.12" r="1.3"/><circle cx="573.66" cy="366.46" r="1.3"/><circle cx="575.63" cy="365.84" r="1.3"/><circle cx="577.52" cy="365.29" r="1.3"/><circle cx="579.32" cy="364.77" r="1.3"/><circle cx="581.06" cy="364.27" r="1.3"/><circle cx="582.73" cy="363.77" r="1.3"/><circle cx="584.33" cy="363.26" r="1.3"/><circle cx="585.88" cy="362.72" r="1.3"/><circle cx="587.37" cy="362.18" r="1.3"/><circle cx="588.82" cy="361.63" r="1.3"/><circle cx="590.22" cy="361.08" r="1.3"/><circle cx="591.57" cy="360.51" r="1.3"/><circle cx="592.89" cy="359.94" r="1.3"/><circle cx="594.16" cy="359.37" r="1.3"/><circle cx="595.4" cy="358.77" r="1.3"/><circle cx="596.6" cy="358.14" r="1.3"/><circle cx="597.77" cy="357.46" r="1.3"/><circle cx="598.91" cy="356.76" r="1.3"/><circle cx="600.03" cy="356.02" r="1.3"/><circle cx="601.11" cy="355.24" r="1.3"/><circle cx="602.17" cy="354.44" r="1.3"/><circle cx="603.2" cy="353.59" r="1.3"/><circle cx="604.21" cy="352.71" r="1.3"/><circle cx="605.19" cy="351.76" r="1.3"/><circle cx="606.16" cy="350.72" r="1.3"/><circle cx="607.1" cy="349.62" r="1.3"/><circle cx="608.02" cy="348.48" r="1.3"/><circle cx="608.92" cy="347.28" r="1.3"/><circle cx="609.81" cy="346.02" r="1.3"/><circle cx="610.67" cy="344.68" r="1.3"/><circle cx="611.52" cy="343.28" r="1.3"/><circle cx="612.36" cy="341.78" r="1.3"/><circle cx="613.18" cy="340.13" r="1.3"/><circle cx="613.98" cy="338.4" r="1.3"/><circle cx="614.77" cy="336.63" r="1.3"/><circle cx="615.54" cy="334.86" r="1.3"/><circle cx="616.3" cy="333.16" r="1.3"/><circle cx="617.05" cy="331.51" r="1.3"/><circle cx="617.78" cy="329.84" r="1.3"/><circle cx="618.5" cy="328.17" r="1.3"/><circle cx="619.22" cy="326.55" r="1.3"/><circle cx="619.91" cy="325.01" r="1.3"/><circle cx="620.6" cy="323.58" r="1.3"/><circle cx="621.28" cy="322.28" r="1.3"/><circle cx="621.95" cy="321.09" r="1.3"/><circle cx="622.6" cy="319.99" r="1.3"/><circle cx="623.25" cy="318.94" r="1.3"/><circle cx="623.89" cy="317.93" r="1.3"/><circle cx="624.52" cy="316.93" r="1.3"/><circle cx="625.13" cy="315.94" r="1.3"/><circle cx="625.75" cy="314.92" r="1.3"/><circle cx="626.35" cy="313.89" r="1.3"/><circle cx="626.94" cy="312.86" r="1.3"/><circle cx="627.53" cy="311.83" r="1.3"/><circle cx="628.1" cy="310.83" r="1.3"/><circle cx="628.67" cy="309.84" r="1.3"/><circle cx="629.24" cy="308.89" r="1.3"/><circle cx="629.79" cy="307.98" r="1.3"/><circle cx="630.34" cy="307.07" r="1.3"/><circle cx="630.88" cy="306.17" r="1.3"/><circle cx="631.42" cy="305.29" r="1.3"/><circle cx="631.95" cy="304.44" r="1.3"/><circle cx="632.47" cy="303.66" r="1.3"/><circle cx="632.99" cy="302.94" r="1.3"/><circle cx="633.5" cy="302.3" r="1.3"/><circle cx="634" cy="301.73" r="1.3"/><circle cx="634.5" cy="301.19" r="1.3"/><circle cx="634.99" cy="300.68" r="1.3"/><circle cx="635.48" cy="300.19" r="1.3"/><circle cx="635.96" cy="299.74" r="1.3"/><circle cx="636.44" cy="299.31" r="1.3"/><circle cx="636.91" cy="298.92" r="1.3"/><circle cx="637.37" cy="298.54" r="1.3"/><circle cx="637.83" cy="298.2" r="1.3"/><circle cx="638.29" cy="297.87" r="1.3"/><circle cx="638.74" cy="297.57" r="1.3"/><circle cx="639.19" cy="297.29" r="1.3"/><circle cx="639.63" cy="297.02" r="1.3"/><circle cx="640.07" cy="296.76" r="1.3"/><circle cx="640.5" cy="296.52" r="1.3"/><circle cx="640.93" cy="296.29" r="1.3"/><circle cx="641.36" cy="296.06" r="1.3"/><circle cx="641.78" cy="295.85" r="1.3"/><circle cx="642.19" cy="295.64" r="1.3"/><circle cx="642.61" cy="295.45" r="1.3"/><circle cx="643.02" cy="295.25" r="1.3"/><circle cx="643.42" cy="295.07" r="1.3"/><circle cx="643.82" cy="294.89" r="1.3"/><circle cx="644.22" cy="294.72" r="1.3"/><circle cx="644.61" cy="294.55" r="1.3"/><circle cx="645" cy="294.38" r="1.3"/><circle cx="645.39" cy="294.22" r="1.3"/><circle cx="645.77" cy="294.07" r="1.3"/><circle cx="646.15" cy="293.92" r="1.3"/><circle cx="646.53" cy="293.78" r="1.3"/><circle cx="646.9" cy="293.64" r="1.3"/><circle cx="647.28" cy="293.51" r="1.3"/><circle cx="647.64" cy="293.38" r="1.3"/><circle cx="648.01" cy="293.25" r="1.3"/><circle cx="648.37" cy="293.13" r="1.3"/><circle cx="648.73" cy="293.01" r="1.3"/><circle cx="649.08" cy="292.89" r="1.3"/><circle cx="649.43" cy="292.77" r="1.3"/><circle cx="649.78" cy="292.66" r="1.3"/><circle cx="650.13" cy="292.54" r="1.3"/><circle cx="650.47" cy="292.42" r="1.3"/><circle cx="650.82" cy="292.3" r="1.3"/><circle cx="651.15" cy="292.18" r="1.3"/><circle cx="651.49" cy="292.06" r="1.3"/><circle cx="651.82" cy="291.94" r="1.3"/><circle cx="652.15" cy="291.82" r="1.3"/><circle cx="652.48" cy="291.7" r="1.3"/><circle cx="652.81" cy="291.59" r="1.3"/><circle cx="653.13" cy="291.47" r="1.3"/><circle cx="653.45" cy="291.36" r="1.3"/><circle cx="653.77" cy="291.24" r="1.3"/><circle cx="654.09" cy="291.13" r="1.3"/><circle cx="654.4" cy="291.02" r="1.3"/><circle cx="654.71" cy="290.9" r="1.3"/></g>
<path d="M456.81,412.56a1.45,1.45 0 1,0 2.9,0a1.45,1.45 0 1,0 -2.9,0M478.95,407.5a1.45,1.45 0 1,0 2.9,0a1.45,1.45 0 1,0 -2.9,0M493.53,404.4a1.45,1.45 0 1,0 2.9,0a1.45,1.45 0 1,0 -2.9,0M504.43,401.98a1.45,1.45 0 1,0 2.9,0a1.45,1.45 0 1,0 -2.9,0M513.12,400.13a1.45,1.45 0 1,0 2.9,0a1.45,1.45 0 1,0 -2.9,0M520.36,398.68a1.45,1.45 0 1,0 2.9,0a1.45,1.45 0 1,0 -2.9,0M526.57,397.76a1.45,1.45 0 1,0 2.9,0a1.45,1.45 0 1,0 -2.9,0M531.99,396.69a1.45,1.45 0 1,0 2.9,0a1.45,1.45 0 1,0 -2.9,0M536.81,395.59a1.45,1.45 0 1,0 2.9,0a1.45,1.45 0 1,0 -2.9,0M541.15,394.47a1.45,1.45 0 1,0 2.9,0a1.45,1.45 0 1,0 -2.9,0M409.25,422a1.45,1.45 0 1,0 2.9,0a1.45,1.45 0 1,0 -2.9,0" fill="none" stroke="#44b944" stroke-width="1"/>
<g fill="none" stroke="#44b944" stroke-width="0.85"><circle cx="546.54" cy="393.4" r="1.3"/><circle cx="550.16" cy="392.45" r="1.3"/><circle cx="553.49" cy="391.55" r="1.3"/><circle cx="556.59" cy="390.55" r="1.3"/><circle cx="559.48" cy="389.37" r="1.3"/><circle cx="562.19" cy="388.19" r="1.3"/><circle cx="564.74" cy="387.19" r="1.3"/><circle cx="567.15" cy="386.45" r="1.3"/><circle cx="569.43" cy="385.79" r="1.3"/><circle cx="571.6" cy="385.05" r="1.3"/><circle cx="573.66" cy="384.24" r="1.3"/><circle cx="575.63" cy="383.22" r="1.3"/><circle cx="577.52" cy="381.87" r="1.3"/><circle cx="579.32" cy="380.42" r="1.3"/><circle cx="581.06" cy="379.01" r="1.3"/><circle cx="582.73" cy="377.56" r="1.3"/><circle cx="584.33" cy="376.06" r="1.3"/><circle cx="585.88" cy="374.5" r="1.3"/><circle cx="587.37" cy="372.88" r="1.3"/><circle cx="588.82" cy="371.21" r="1.3"/><circle cx="590.22" cy="369.47" r="1.3"/><circle cx="591.57" cy="367.67" r="1.3"/><circle cx="592.89" cy="365.82" r="1.3"/><circle cx="594.16" cy="363.91" r="1.3"/><circle cx="595.4" cy="361.92" r="1.3"/><circle cx="596.6" cy="359.83" r="1.3"/><circle cx="597.77" cy="357.83" r="1.3"/><circle cx="598.91" cy="355.94" r="1.3"/><circle cx="600.03" cy="354.02" r="1.3"/><circle cx="601.11" cy="351.98" r="1.3"/><circle cx="602.17" cy="349.64" r="1.3"/><circle cx="603.2" cy="347.19" r="1.3"/><circle cx="604.21" cy="344.92" r="1.3"/><circle cx="605.19" cy="342.74" r="1.3"/><circle cx="606.16" cy="340.62" r="1.3"/><circle cx="607.1" cy="338.57" r="1.3"/><circle cx="608.02" cy="336.6" r="1.3"/><circle cx="608.92" cy="334.7" r="1.3"/><circle cx="609.81" cy="332.87" r="1.3"/><circle cx="610.67" cy="331.09" r="1.3"/><circle cx="611.52" cy="329.36" r="1.3"/><circle cx="612.36" cy="327.68" r="1.3"/><circle cx="613.18" cy="326.08" r="1.3"/><circle cx="613.98" cy="324.54" r="1.3"/><circle cx="614.77" cy="323.08" r="1.3"/><circle cx="615.54" cy="321.7" r="1.3"/><circle cx="616.3" cy="320.41" r="1.3"/><circle cx="617.05" cy="319.18" r="1.3"/><circle cx="617.78" cy="318" r="1.3"/><circle cx="618.5" cy="316.86" r="1.3"/><circle cx="619.22" cy="315.74" r="1.3"/><circle cx="619.91" cy="314.62" r="1.3"/><circle cx="620.6" cy="313.51" r="1.3"/><circle cx="621.28" cy="312.42" r="1.3"/><circle cx="621.95" cy="311.35" r="1.3"/><circle cx="622.6" cy="310.3" r="1.3"/><circle cx="623.25" cy="309.27" r="1.3"/><circle cx="623.89" cy="308.27" r="1.3"/><circle cx="624.52" cy="307.29" r="1.3"/><circle cx="625.13" cy="306.32" r="1.3"/><circle cx="625.75" cy="305.35" r="1.3"/><circle cx="626.35" cy="304.4" r="1.3"/><circle cx="626.94" cy="303.46" r="1.3"/><circle cx="627.53" cy="302.55" r="1.3"/><circle cx="628.1" cy="301.68" r="1.3"/><circle cx="628.67" cy="300.85" r="1.3"/><circle cx="629.24" cy="300.07" r="1.3"/><circle cx="629.79" cy="299.35" r="1.3"/><circle cx="630.34" cy="298.66" r="1.3"/><circle cx="630.88" cy="297.98" r="1.3"/><circle cx="631.42" cy="297.33" r="1.3"/><circle cx="631.95" cy="296.71" r="1.3"/><circle cx="632.47" cy="296.12" r="1.3"/><circle cx="632.99" cy="295.57" r="1.3"/><circle cx="633.5" cy="295.07" r="1.3"/><circle cx="634" cy="294.61" r="1.3"/><circle cx="634.5" cy="294.2" r="1.3"/><circle cx="634.99" cy="293.83" r="1.3"/><circle cx="635.48" cy="293.49" r="1.3"/><circle cx="635.96" cy="293.17" r="1.3"/><circle cx="636.44" cy="292.87" r="1.3"/><circle cx="636.91" cy="292.58" r="1.3"/><circle cx="637.37" cy="292.31" r="1.3"/><circle cx="637.83" cy="292.06" r="1.3"/><circle cx="638.29" cy="291.81" r="1.3"/><circle cx="638.74" cy="291.58" r="1.3"/><circle cx="639.19" cy="291.35" r="1.3"/><circle cx="639.63" cy="291.13" r="1.3"/><circle cx="640.07" cy="290.91" r="1.3"/><circle cx="640.5" cy="290.7" r="1.3"/><circle cx="640.93" cy="290.48" r="1.3"/><circle cx="641.36" cy="290.27" r="1.3"/><circle cx="641.78" cy="290.06" r="1.3"/><circle cx="642.19" cy="289.86" r="1.3"/><circle cx="642.61" cy="289.66" r="1.3"/><circle cx="643.02" cy="289.46" r="1.3"/><circle cx="643.42" cy="289.27" r="1.3"/><circle cx="643.82" cy="289.08" r="1.3"/><circle cx="644.22" cy="288.9" r="1.3"/><circle cx="644.61" cy="288.72" r="1.3"/><circle cx="645" cy="288.55" r="1.3"/><circle cx="645.39" cy="288.38" r="1.3"/><circle cx="645.77" cy="288.21" r="1.3"/><circle cx="646.15" cy="288.06" r="1.3"/><circle cx="646.53" cy="287.9" r="1.3"/><circle cx="646.9" cy="287.75" r="1.3"/><circle cx="647.28" cy="287.61" r="1.3"/><circle cx="647.64" cy="287.47" r="1.3"/><circle cx="648.01" cy="287.33" r="1.3"/><circle cx="648.37" cy="287.2" r="1.3"/><circle cx="648.73" cy="287.08" r="1.3"/><circle cx="649.08" cy="286.95" r="1.3"/><circle cx="649.43" cy="286.83" r="1.3"/><circle cx="649.78" cy="286.71" r="1.3"/><circle cx="650.13" cy="286.6" r="1.3"/><circle cx="650.47" cy="286.48" r="1.3"/><circle cx="650.82" cy="286.37" r="1.3"/><circle cx="651.15" cy="286.27" r="1.3"/><circle cx="651.49" cy="286.16" r="1.3"/><circle cx="651.82" cy="286.06" r="1.3"/><circle cx="652.15" cy="285.96" r="1.3"/><circle cx="652.48" cy="285.86" r="1.3"/><circle cx="652.81" cy="285.77" r="1.3"/><circle cx="653.13" cy="285.68" r="1.3"/><circle cx="653.45" cy="285.59" r="1.3"/><circle cx="653.77" cy="285.51" r="1.3"/><circle cx="654.09" cy="285.42" r="1.3"/><circle cx="654.4" cy="285.34" r="1.3"/><circle cx="654.71" cy="285.27" r="1.3"/></g>
<line x1="480.4" y1="390.9" x2="612.4" y2="359.6" stroke="#3a7fd9" stroke-width="1.1" />
<line x1="462" y1="412.6" x2="594.3" y2="381.7" stroke="#3a7fd9" stroke-width="1.1" />
<line x1="580.6" y1="392.4" x2="630.6" y2="292.2" stroke="#ec5548" stroke-width="1.0" />
<line x1="601.1" y1="368.9" x2="634.5" y2="294.6" stroke="#ec5548" stroke-width="1.0" />
<line x1="622.3" y1="300" x2="655.5" y2="284.4" stroke="#d9a31c" stroke-width="1.15" stroke-dasharray="2.6,0.8"/>
<line x1="626.6" y1="303" x2="656" y2="289.3" stroke="#d9a31c" stroke-width="1.15" stroke-dasharray="2.6,0.8"/>
<line x1="410.64" y1="431" x2="410.64" y2="429.4" stroke="#161616" stroke-width="1" />
<line x1="428.22" y1="431" x2="428.22" y2="429.4" stroke="#161616" stroke-width="1" />
<line x1="440.69" y1="431" x2="440.69" y2="429.4" stroke="#161616" stroke-width="1" />
<line x1="450.36" y1="431" x2="450.36" y2="429.4" stroke="#161616" stroke-width="1" />
<line x1="458.26" y1="431" x2="458.26" y2="429.4" stroke="#161616" stroke-width="1" />
<line x1="464.94" y1="431" x2="464.94" y2="429.4" stroke="#161616" stroke-width="1" />
<line x1="470.73" y1="431" x2="470.73" y2="429.4" stroke="#161616" stroke-width="1" />
<line x1="475.83" y1="431" x2="475.83" y2="429.4" stroke="#161616" stroke-width="1" />
<line x1="480.4" y1="431" x2="480.4" y2="428" stroke="#161616" stroke-width="1" />
<line x1="510.44" y1="431" x2="510.44" y2="429.4" stroke="#161616" stroke-width="1" />
<line x1="528.02" y1="431" x2="528.02" y2="429.4" stroke="#161616" stroke-width="1" />
<line x1="540.49" y1="431" x2="540.49" y2="429.4" stroke="#161616" stroke-width="1" />
<line x1="550.16" y1="431" x2="550.16" y2="429.4" stroke="#161616" stroke-width="1" />
<line x1="558.06" y1="431" x2="558.06" y2="429.4" stroke="#161616" stroke-width="1" />
<line x1="564.74" y1="431" x2="564.74" y2="429.4" stroke="#161616" stroke-width="1" />
<line x1="570.53" y1="431" x2="570.53" y2="429.4" stroke="#161616" stroke-width="1" />
<line x1="575.63" y1="431" x2="575.63" y2="429.4" stroke="#161616" stroke-width="1" />
<line x1="580.2" y1="431" x2="580.2" y2="428" stroke="#161616" stroke-width="1" />
<line x1="610.24" y1="431" x2="610.24" y2="429.4" stroke="#161616" stroke-width="1" />
<line x1="627.82" y1="431" x2="627.82" y2="429.4" stroke="#161616" stroke-width="1" />
<line x1="640.29" y1="431" x2="640.29" y2="429.4" stroke="#161616" stroke-width="1" />
<line x1="649.96" y1="431" x2="649.96" y2="429.4" stroke="#161616" stroke-width="1" />
<line x1="657.86" y1="431" x2="657.86" y2="429.4" stroke="#161616" stroke-width="1" />
<text x="380.6" y="444" font-size="10.1" text-anchor="middle" fill="#161616" color="#161616" >0.01</text>
<text x="480.4" y="444" font-size="10.1" text-anchor="middle" fill="#161616" color="#161616" >0.1</text>
<text x="580.2" y="444" font-size="10.1" text-anchor="middle" fill="#161616" color="#161616" >1</text>
<line x1="380.6" y1="429.04" x2="381.9" y2="429.04" stroke="#161616" stroke-width="1" />
<line x1="380.6" y1="427.46" x2="381.9" y2="427.46" stroke="#161616" stroke-width="1" />
<line x1="380.6" y1="426.09" x2="381.9" y2="426.09" stroke="#161616" stroke-width="1" />
<line x1="380.6" y1="424.88" x2="381.9" y2="424.88" stroke="#161616" stroke-width="1" />
<line x1="380.6" y1="423.8" x2="383.6" y2="423.8" stroke="#161616" stroke-width="1" />
<line x1="380.6" y1="416.7" x2="381.9" y2="416.7" stroke="#161616" stroke-width="1" />
<line x1="380.6" y1="412.54" x2="381.9" y2="412.54" stroke="#161616" stroke-width="1" />
<line x1="380.6" y1="409.59" x2="381.9" y2="409.59" stroke="#161616" stroke-width="1" />
<line x1="380.6" y1="407.3" x2="381.9" y2="407.3" stroke="#161616" stroke-width="1" />
<line x1="380.6" y1="405.44" x2="381.9" y2="405.44" stroke="#161616" stroke-width="1" />
<line x1="380.6" y1="403.86" x2="381.9" y2="403.86" stroke="#161616" stroke-width="1" />
<line x1="380.6" y1="402.49" x2="381.9" y2="402.49" stroke="#161616" stroke-width="1" />
<line x1="380.6" y1="401.28" x2="381.9" y2="401.28" stroke="#161616" stroke-width="1" />
<line x1="380.6" y1="400.2" x2="382.8" y2="400.2" stroke="#161616" stroke-width="1" />
<line x1="380.6" y1="393.1" x2="381.9" y2="393.1" stroke="#161616" stroke-width="1" />
<line x1="380.6" y1="388.94" x2="381.9" y2="388.94" stroke="#161616" stroke-width="1" />
<line x1="380.6" y1="385.99" x2="381.9" y2="385.99" stroke="#161616" stroke-width="1" />
<line x1="380.6" y1="383.7" x2="381.9" y2="383.7" stroke="#161616" stroke-width="1" />
<line x1="380.6" y1="381.84" x2="381.9" y2="381.84" stroke="#161616" stroke-width="1" />
<line x1="380.6" y1="380.26" x2="381.9" y2="380.26" stroke="#161616" stroke-width="1" />
<line x1="380.6" y1="378.89" x2="381.9" y2="378.89" stroke="#161616" stroke-width="1" />
<line x1="380.6" y1="377.68" x2="381.9" y2="377.68" stroke="#161616" stroke-width="1" />
<line x1="380.6" y1="376.6" x2="383.6" y2="376.6" stroke="#161616" stroke-width="1" />
<line x1="380.6" y1="369.5" x2="381.9" y2="369.5" stroke="#161616" stroke-width="1" />
<line x1="380.6" y1="365.34" x2="381.9" y2="365.34" stroke="#161616" stroke-width="1" />
<line x1="380.6" y1="362.39" x2="381.9" y2="362.39" stroke="#161616" stroke-width="1" />
<line x1="380.6" y1="360.1" x2="381.9" y2="360.1" stroke="#161616" stroke-width="1" />
<line x1="380.6" y1="358.24" x2="381.9" y2="358.24" stroke="#161616" stroke-width="1" />
<line x1="380.6" y1="356.66" x2="381.9" y2="356.66" stroke="#161616" stroke-width="1" />
<line x1="380.6" y1="355.29" x2="381.9" y2="355.29" stroke="#161616" stroke-width="1" />
<line x1="380.6" y1="354.08" x2="381.9" y2="354.08" stroke="#161616" stroke-width="1" />
<line x1="380.6" y1="353" x2="382.8" y2="353" stroke="#161616" stroke-width="1" />
<line x1="380.6" y1="345.9" x2="381.9" y2="345.9" stroke="#161616" stroke-width="1" />
<line x1="380.6" y1="341.74" x2="381.9" y2="341.74" stroke="#161616" stroke-width="1" />
<line x1="380.6" y1="338.79" x2="381.9" y2="338.79" stroke="#161616" stroke-width="1" />
<line x1="380.6" y1="336.5" x2="381.9" y2="336.5" stroke="#161616" stroke-width="1" />
<line x1="380.6" y1="334.64" x2="381.9" y2="334.64" stroke="#161616" stroke-width="1" />
<line x1="380.6" y1="333.06" x2="381.9" y2="333.06" stroke="#161616" stroke-width="1" />
<line x1="380.6" y1="331.69" x2="381.9" y2="331.69" stroke="#161616" stroke-width="1" />
<line x1="380.6" y1="330.48" x2="381.9" y2="330.48" stroke="#161616" stroke-width="1" />
<line x1="380.6" y1="329.4" x2="383.6" y2="329.4" stroke="#161616" stroke-width="1" />
<line x1="380.6" y1="322.3" x2="381.9" y2="322.3" stroke="#161616" stroke-width="1" />
<line x1="380.6" y1="318.14" x2="381.9" y2="318.14" stroke="#161616" stroke-width="1" />
<line x1="380.6" y1="315.19" x2="381.9" y2="315.19" stroke="#161616" stroke-width="1" />
<line x1="380.6" y1="312.9" x2="381.9" y2="312.9" stroke="#161616" stroke-width="1" />
<line x1="380.6" y1="311.04" x2="381.9" y2="311.04" stroke="#161616" stroke-width="1" />
<line x1="380.6" y1="309.46" x2="381.9" y2="309.46" stroke="#161616" stroke-width="1" />
<line x1="380.6" y1="308.09" x2="381.9" y2="308.09" stroke="#161616" stroke-width="1" />
<line x1="380.6" y1="306.88" x2="381.9" y2="306.88" stroke="#161616" stroke-width="1" />
<line x1="380.6" y1="305.8" x2="382.8" y2="305.8" stroke="#161616" stroke-width="1" />
<line x1="380.6" y1="298.7" x2="381.9" y2="298.7" stroke="#161616" stroke-width="1" />
<line x1="380.6" y1="294.54" x2="381.9" y2="294.54" stroke="#161616" stroke-width="1" />
<line x1="380.6" y1="291.59" x2="381.9" y2="291.59" stroke="#161616" stroke-width="1" />
<line x1="380.6" y1="289.3" x2="381.9" y2="289.3" stroke="#161616" stroke-width="1" />
<line x1="380.6" y1="287.44" x2="381.9" y2="287.44" stroke="#161616" stroke-width="1" />
<line x1="380.6" y1="285.86" x2="381.9" y2="285.86" stroke="#161616" stroke-width="1" />
<line x1="380.6" y1="284.49" x2="381.9" y2="284.49" stroke="#161616" stroke-width="1" />
<line x1="380.6" y1="283.28" x2="381.9" y2="283.28" stroke="#161616" stroke-width="1" />
<line x1="380.6" y1="282.2" x2="383.6" y2="282.2" stroke="#161616" stroke-width="1" />
<line x1="380.6" y1="275.1" x2="381.9" y2="275.1" stroke="#161616" stroke-width="1" />
<text x="375" y="286.3" font-size="10.1" text-anchor="end" fill="#161616" color="#161616">10<tspan dy="-4.4" font-size="7.2">2</tspan></text>
<text x="375" y="333.5" font-size="10.1" text-anchor="end" fill="#161616" color="#161616">10<tspan dy="-4.4" font-size="7.2">0</tspan></text>
<text x="375" y="380.7" font-size="10.1" text-anchor="end" fill="#161616" color="#161616">10<tspan dy="-4.4" font-size="7.2">−2</tspan></text>
<text x="375" y="427.9" font-size="10.1" text-anchor="end" fill="#161616" color="#161616">10<tspan dy="-4.4" font-size="7.2">−4</tspan></text>
<path d="M380.6,271.6 H665 V431 H380.6 Z" fill="none" stroke="#161616" stroke-width="1"/>
<text x="522.8" y="458.7" font-size="10.4" text-anchor="middle" fill="#161616" color="#161616" >Voltage (V)</text>
<text x="0" y="0" font-size="10.4" text-anchor="middle" fill="#161616" color="#161616" transform="translate(349.4,351.3) rotate(-90)" textLength="118.5" lengthAdjust="spacingAndGlyphs">Current density (mA cm<tspan dy="-3.6" font-size="7.2">−2</tspan><tspan dy="3.6">)</tspan></text>
<circle cx="530.1" cy="284.3" r="1.3" fill="none" stroke="#23774a" stroke-width="0.95"/>
<circle cx="530.1" cy="296" r="1.3" fill="none" stroke="#44b944" stroke-width="0.95"/>
<text x="537.1" y="287.7" font-size="8.9" text-anchor="start" fill="#161616" color="#161616" >Pristine</text>
<text x="537.1" y="299.9" font-size="8.9" text-anchor="start" fill="#161616" color="#161616" >Target</text>
<text x="528.9" y="325.3" font-size="8.8" fill="#23774a" color="#23774a" textLength="50" lengthAdjust="spacing"><tspan font-style="italic">V</tspan><tspan dy="3.0" dx="-0.3" font-size="5.9">TFL</tspan><tspan dy="-3.0"> = 3.34 V</tspan></text>
<text x="528.9" y="341.6" font-size="8.8" fill="#44b944" color="#44b944" textLength="50" lengthAdjust="spacing"><tspan font-style="italic">V</tspan><tspan dy="3.0" dx="-0.3" font-size="5.9">TFL</tspan><tspan dy="-3.0"> = 3.02 V</tspan></text>
<text x="510.5" y="423.3" font-size="8.9" text-anchor="start" fill="#3a7fd9" color="#3a7fd9" >Ohmic</text>
<text x="608.8" y="423.3" font-size="8.9" text-anchor="start" fill="#ee4444" color="#ee4444" >TFL</text>
<text x="638.5" y="423.3" font-size="8.9" text-anchor="start" fill="#d9a31c" color="#d9a31c" >Child</text>
<text x="-0.9" y="10.8" font-size="15.5" text-anchor="start" fill="#000" color="#000" font-weight="bold">a</text>
<text x="239.4" y="10.8" font-size="15.5" text-anchor="start" fill="#000" color="#000" font-weight="bold">b</text>
<text x="470.3" y="10.8" font-size="15.5" text-anchor="start" fill="#000" color="#000" font-weight="bold">c</text>
<text x="-0.4" y="270.7" font-size="15.5" text-anchor="start" fill="#000" color="#000" font-weight="bold">d</text>
<text x="336" y="270.9" font-size="15.5" text-anchor="start" fill="#000" color="#000" font-weight="bold">e</text>
</svg></body></html>
